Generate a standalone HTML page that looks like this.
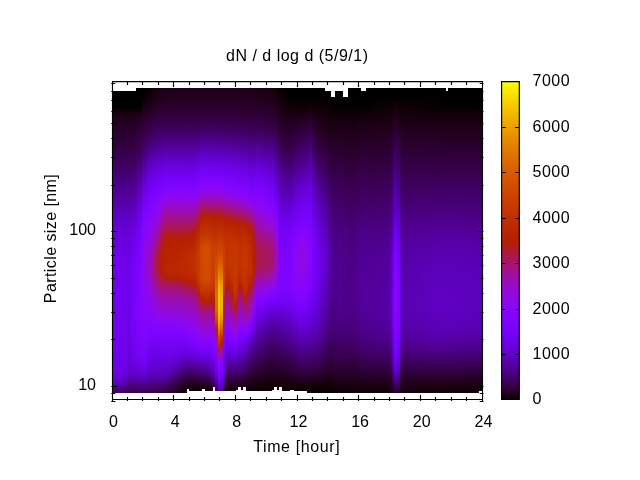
<!DOCTYPE html>
<html lang="en"><head><meta charset="utf-8"><title>dN / d log d (5/9/1)</title>
<style>html,body{margin:0;padding:0;background:#fff}svg{display:block}text{font-family:"Liberation Sans", sans-serif;fill:#000}</style></head><body>
<svg width="640" height="480" viewBox="0 0 640 480">
<rect x="0" y="0" width="640" height="480" fill="#fff"/>
<defs>
<linearGradient id="c0" gradientUnits="userSpaceOnUse" x1="0" y1="88" x2="0" y2="393">
<stop offset="0" stop-color="#000000"/>
<stop offset="0.06557" stop-color="#000000"/>
<stop offset="0.06885" stop-color="#0b0003"/>
<stop offset="0.09508" stop-color="#200019"/>
<stop offset="0.1967" stop-color="#340041"/>
<stop offset="0.3443" stop-color="#510098"/>
<stop offset="0.4131" stop-color="#5d01bf"/>
<stop offset="0.5049" stop-color="#6a01e2"/>
<stop offset="0.5967" stop-color="#7102f0"/>
<stop offset="0.8492" stop-color="#7002f0"/>
<stop offset="0.9246" stop-color="#6c02e7"/>
<stop offset="0.9508" stop-color="#6701da"/>
<stop offset="0.9738" stop-color="#5600a7"/>
<stop offset="1" stop-color="#400063"/>
</linearGradient>
<linearGradient id="c1" gradientUnits="userSpaceOnUse" x1="0" y1="88" x2="0" y2="393">
<stop offset="0" stop-color="#000000"/>
<stop offset="0.06557" stop-color="#000000"/>
<stop offset="0.06885" stop-color="#0b0003"/>
<stop offset="0.09508" stop-color="#200019"/>
<stop offset="0.1967" stop-color="#340041"/>
<stop offset="0.3443" stop-color="#510098"/>
<stop offset="0.4131" stop-color="#5d01bf"/>
<stop offset="0.4951" stop-color="#6901df"/>
<stop offset="0.5705" stop-color="#6f02ed"/>
<stop offset="0.6754" stop-color="#7202f2"/>
<stop offset="0.8557" stop-color="#7002ef"/>
<stop offset="0.9246" stop-color="#6c01e6"/>
<stop offset="0.9508" stop-color="#6701d9"/>
<stop offset="0.9705" stop-color="#5800ae"/>
<stop offset="1" stop-color="#400062"/>
</linearGradient>
<linearGradient id="c2" gradientUnits="userSpaceOnUse" x1="0" y1="88" x2="0" y2="393">
<stop offset="0" stop-color="#000000"/>
<stop offset="0.06557" stop-color="#000000"/>
<stop offset="0.06885" stop-color="#0b0003"/>
<stop offset="0.09508" stop-color="#200019"/>
<stop offset="0.1967" stop-color="#340041"/>
<stop offset="0.3443" stop-color="#510098"/>
<stop offset="0.4131" stop-color="#5d01bf"/>
<stop offset="0.4951" stop-color="#6901de"/>
<stop offset="0.5672" stop-color="#6f02ec"/>
<stop offset="0.6656" stop-color="#7202f2"/>
<stop offset="0.8459" stop-color="#7002ef"/>
<stop offset="0.9213" stop-color="#6c01e7"/>
<stop offset="0.9508" stop-color="#6601d8"/>
<stop offset="0.9705" stop-color="#5800ac"/>
<stop offset="1" stop-color="#400061"/>
</linearGradient>
<linearGradient id="c3" gradientUnits="userSpaceOnUse" x1="0" y1="88" x2="0" y2="393">
<stop offset="0" stop-color="#000000"/>
<stop offset="0.06557" stop-color="#000000"/>
<stop offset="0.06885" stop-color="#0b0003"/>
<stop offset="0.09508" stop-color="#200019"/>
<stop offset="0.1967" stop-color="#340041"/>
<stop offset="0.3443" stop-color="#510098"/>
<stop offset="0.4131" stop-color="#5d01bf"/>
<stop offset="0.4951" stop-color="#6901de"/>
<stop offset="0.5705" stop-color="#6f02ec"/>
<stop offset="0.6689" stop-color="#7102f2"/>
<stop offset="0.8525" stop-color="#6f02ee"/>
<stop offset="0.9213" stop-color="#6c01e6"/>
<stop offset="0.9508" stop-color="#6601d7"/>
<stop offset="0.9738" stop-color="#5400a2"/>
<stop offset="1" stop-color="#3f0060"/>
</linearGradient>
<linearGradient id="c4" gradientUnits="userSpaceOnUse" x1="0" y1="88" x2="0" y2="393">
<stop offset="0" stop-color="#000000"/>
<stop offset="0.06557" stop-color="#000000"/>
<stop offset="0.06885" stop-color="#0b0003"/>
<stop offset="0.09508" stop-color="#200019"/>
<stop offset="0.1967" stop-color="#340041"/>
<stop offset="0.3443" stop-color="#510098"/>
<stop offset="0.4131" stop-color="#5d01bf"/>
<stop offset="0.4951" stop-color="#6901de"/>
<stop offset="0.5836" stop-color="#6f02ed"/>
<stop offset="0.6885" stop-color="#7102f1"/>
<stop offset="0.8459" stop-color="#6f02ee"/>
<stop offset="0.9213" stop-color="#6b01e5"/>
<stop offset="0.9508" stop-color="#6501d6"/>
<stop offset="0.9738" stop-color="#5400a0"/>
<stop offset="1" stop-color="#3f005f"/>
</linearGradient>
<linearGradient id="c5" gradientUnits="userSpaceOnUse" x1="0" y1="88" x2="0" y2="393">
<stop offset="0" stop-color="#000000"/>
<stop offset="0.06557" stop-color="#000000"/>
<stop offset="0.06885" stop-color="#0b0003"/>
<stop offset="0.09508" stop-color="#200019"/>
<stop offset="0.1967" stop-color="#340041"/>
<stop offset="0.3443" stop-color="#510098"/>
<stop offset="0.4131" stop-color="#5d01bf"/>
<stop offset="0.4918" stop-color="#6801dd"/>
<stop offset="0.6098" stop-color="#7002ee"/>
<stop offset="0.8033" stop-color="#6f02ee"/>
<stop offset="0.918" stop-color="#6a01e2"/>
<stop offset="0.9508" stop-color="#6301ce"/>
<stop offset="0.9738" stop-color="#510098"/>
<stop offset="1" stop-color="#3d0059"/>
</linearGradient>
<linearGradient id="c6" gradientUnits="userSpaceOnUse" x1="0" y1="88" x2="0" y2="393">
<stop offset="0" stop-color="#000000"/>
<stop offset="0.06557" stop-color="#000000"/>
<stop offset="0.06885" stop-color="#0b0003"/>
<stop offset="0.09508" stop-color="#200019"/>
<stop offset="0.1967" stop-color="#340041"/>
<stop offset="0.3344" stop-color="#500092"/>
<stop offset="0.4066" stop-color="#5d01bc"/>
<stop offset="0.4852" stop-color="#6701da"/>
<stop offset="0.6098" stop-color="#6d02e8"/>
<stop offset="0.777" stop-color="#6c01e7"/>
<stop offset="0.8885" stop-color="#6601d8"/>
<stop offset="0.9213" stop-color="#6201cc"/>
<stop offset="0.9508" stop-color="#5900b0"/>
<stop offset="0.9902" stop-color="#3d0058"/>
<stop offset="1" stop-color="#350044"/>
</linearGradient>
<linearGradient id="c7" gradientUnits="userSpaceOnUse" x1="0" y1="88" x2="0" y2="393">
<stop offset="0" stop-color="#000000"/>
<stop offset="0.06557" stop-color="#000000"/>
<stop offset="0.06885" stop-color="#0b0003"/>
<stop offset="0.0918" stop-color="#1f0017"/>
<stop offset="0.1115" stop-color="#250022"/>
<stop offset="0.1967" stop-color="#350043"/>
<stop offset="0.3377" stop-color="#510098"/>
<stop offset="0.4164" stop-color="#6001c6"/>
<stop offset="0.4951" stop-color="#6b01e3"/>
<stop offset="0.6" stop-color="#7202f2"/>
<stop offset="0.7934" stop-color="#7202f2"/>
<stop offset="0.8852" stop-color="#6b01e3"/>
<stop offset="0.9213" stop-color="#6401d2"/>
<stop offset="0.9508" stop-color="#5900b0"/>
<stop offset="0.9803" stop-color="#44006d"/>
<stop offset="1" stop-color="#360047"/>
</linearGradient>
<linearGradient id="c8" gradientUnits="userSpaceOnUse" x1="0" y1="88" x2="0" y2="393">
<stop offset="0" stop-color="#000000"/>
<stop offset="0.06557" stop-color="#000000"/>
<stop offset="0.06885" stop-color="#0b0003"/>
<stop offset="0.08852" stop-color="#1d0015"/>
<stop offset="0.1082" stop-color="#250022"/>
<stop offset="0.1967" stop-color="#360046"/>
<stop offset="0.3148" stop-color="#4e008e"/>
<stop offset="0.4197" stop-color="#6201ce"/>
<stop offset="0.4918" stop-color="#6d02ea"/>
<stop offset="0.5902" stop-color="#7603f9"/>
<stop offset="0.7475" stop-color="#7903fb"/>
<stop offset="0.8328" stop-color="#7402f6"/>
<stop offset="0.8885" stop-color="#6e02ea"/>
<stop offset="0.9213" stop-color="#6601d8"/>
<stop offset="0.9508" stop-color="#5900b1"/>
<stop offset="0.9803" stop-color="#44006d"/>
<stop offset="1" stop-color="#37004b"/>
</linearGradient>
<linearGradient id="c9" gradientUnits="userSpaceOnUse" x1="0" y1="88" x2="0" y2="393">
<stop offset="0" stop-color="#000000"/>
<stop offset="0.06557" stop-color="#000000"/>
<stop offset="0.06885" stop-color="#0b0003"/>
<stop offset="0.08525" stop-color="#1c0013"/>
<stop offset="0.1049" stop-color="#260023"/>
<stop offset="0.2" stop-color="#39004f"/>
<stop offset="0.3967" stop-color="#6401d1"/>
<stop offset="0.4754" stop-color="#7102f0"/>
<stop offset="0.5574" stop-color="#7903fc"/>
<stop offset="0.7049" stop-color="#7d04ff"/>
<stop offset="0.8066" stop-color="#7a03fd"/>
<stop offset="0.882" stop-color="#7102f2"/>
<stop offset="0.9213" stop-color="#6801dd"/>
<stop offset="0.9508" stop-color="#5a00b4"/>
<stop offset="0.9803" stop-color="#450070"/>
<stop offset="1" stop-color="#38004d"/>
</linearGradient>
<linearGradient id="c10" gradientUnits="userSpaceOnUse" x1="0" y1="88" x2="0" y2="393">
<stop offset="0" stop-color="#000000"/>
<stop offset="0.06557" stop-color="#000000"/>
<stop offset="0.06885" stop-color="#0c0003"/>
<stop offset="0.0918" stop-color="#21001b"/>
<stop offset="0.118" stop-color="#2b002d"/>
<stop offset="0.2" stop-color="#3c0056"/>
<stop offset="0.3869" stop-color="#6701da"/>
<stop offset="0.459" stop-color="#7302f4"/>
<stop offset="0.5246" stop-color="#7c03fe"/>
<stop offset="0.682" stop-color="#8204fe"/>
<stop offset="0.8033" stop-color="#7e04ff"/>
<stop offset="0.882" stop-color="#7402f6"/>
<stop offset="0.9213" stop-color="#6a01e1"/>
<stop offset="0.9508" stop-color="#5b01b8"/>
<stop offset="0.9803" stop-color="#450072"/>
<stop offset="1" stop-color="#39004e"/>
</linearGradient>
<linearGradient id="c11" gradientUnits="userSpaceOnUse" x1="0" y1="88" x2="0" y2="393">
<stop offset="0" stop-color="#000000"/>
<stop offset="0.03279" stop-color="#000000"/>
<stop offset="0.03934" stop-color="#090002"/>
<stop offset="0.06885" stop-color="#16000c"/>
<stop offset="0.1049" stop-color="#2a002a"/>
<stop offset="0.1967" stop-color="#3f005f"/>
<stop offset="0.3279" stop-color="#6101c8"/>
<stop offset="0.3869" stop-color="#6f02ed"/>
<stop offset="0.4459" stop-color="#7a03fd"/>
<stop offset="0.5213" stop-color="#8505fd"/>
<stop offset="0.6197" stop-color="#8706fa"/>
<stop offset="0.8033" stop-color="#8004ff"/>
<stop offset="0.882" stop-color="#7603f9"/>
<stop offset="0.918" stop-color="#6d02ea"/>
<stop offset="0.9475" stop-color="#5e01c1"/>
<stop offset="0.9672" stop-color="#500094"/>
<stop offset="0.9803" stop-color="#460074"/>
<stop offset="1" stop-color="#39004f"/>
</linearGradient>
<linearGradient id="c12" gradientUnits="userSpaceOnUse" x1="0" y1="88" x2="0" y2="393">
<stop offset="0" stop-color="#000000"/>
<stop offset="0.03279" stop-color="#000000"/>
<stop offset="0.03934" stop-color="#0d0004"/>
<stop offset="0.07869" stop-color="#23001e"/>
<stop offset="0.1672" stop-color="#3c0056"/>
<stop offset="0.1934" stop-color="#420069"/>
<stop offset="0.3082" stop-color="#6301d0"/>
<stop offset="0.3639" stop-color="#7202f2"/>
<stop offset="0.4131" stop-color="#7d04ff"/>
<stop offset="0.4656" stop-color="#8706fa"/>
<stop offset="0.5377" stop-color="#9008e6"/>
<stop offset="0.5869" stop-color="#9008e7"/>
<stop offset="0.6852" stop-color="#8806fa"/>
<stop offset="0.8131" stop-color="#8104ff"/>
<stop offset="0.8852" stop-color="#7703fa"/>
<stop offset="0.9213" stop-color="#6e02eb"/>
<stop offset="0.9475" stop-color="#6001c5"/>
<stop offset="0.9672" stop-color="#510097"/>
<stop offset="0.9803" stop-color="#460075"/>
<stop offset="1" stop-color="#39004f"/>
</linearGradient>
<linearGradient id="c13" gradientUnits="userSpaceOnUse" x1="0" y1="88" x2="0" y2="393">
<stop offset="0" stop-color="#000000"/>
<stop offset="0.01311" stop-color="#0a0002"/>
<stop offset="0.03934" stop-color="#14000a"/>
<stop offset="0.1049" stop-color="#2f0035"/>
<stop offset="0.1574" stop-color="#3c0057"/>
<stop offset="0.1934" stop-color="#460074"/>
<stop offset="0.2721" stop-color="#5e01c2"/>
<stop offset="0.3311" stop-color="#6e02ec"/>
<stop offset="0.3836" stop-color="#7b03fe"/>
<stop offset="0.4393" stop-color="#8605fc"/>
<stop offset="0.5016" stop-color="#9008e9"/>
<stop offset="0.5377" stop-color="#940ad8"/>
<stop offset="0.5836" stop-color="#960ad3"/>
<stop offset="0.6918" stop-color="#8b07f4"/>
<stop offset="0.8131" stop-color="#7e04ff"/>
<stop offset="0.8852" stop-color="#7302f4"/>
<stop offset="0.9213" stop-color="#6901e0"/>
<stop offset="0.9508" stop-color="#5c01ba"/>
<stop offset="0.9803" stop-color="#450070"/>
<stop offset="1" stop-color="#38004c"/>
</linearGradient>
<linearGradient id="c14" gradientUnits="userSpaceOnUse" x1="0" y1="88" x2="0" y2="393">
<stop offset="0" stop-color="#000000"/>
<stop offset="0.006557" stop-color="#0a0003"/>
<stop offset="0.05902" stop-color="#20001a"/>
<stop offset="0.1246" stop-color="#360046"/>
<stop offset="0.1869" stop-color="#470077"/>
<stop offset="0.2393" stop-color="#5a00b3"/>
<stop offset="0.2918" stop-color="#6901de"/>
<stop offset="0.3377" stop-color="#7402f6"/>
<stop offset="0.3836" stop-color="#7f04ff"/>
<stop offset="0.4492" stop-color="#8906f8"/>
<stop offset="0.4951" stop-color="#9008e8"/>
<stop offset="0.541" stop-color="#970bcc"/>
<stop offset="0.5836" stop-color="#9b0dbd"/>
<stop offset="0.6393" stop-color="#960bd1"/>
<stop offset="0.682" stop-color="#9008e8"/>
<stop offset="0.777" stop-color="#8204ff"/>
<stop offset="0.823" stop-color="#7703fa"/>
<stop offset="0.882" stop-color="#6d02e9"/>
<stop offset="0.9246" stop-color="#6201cb"/>
<stop offset="0.9508" stop-color="#5900b1"/>
<stop offset="0.977" stop-color="#44006f"/>
<stop offset="1" stop-color="#370049"/>
</linearGradient>
<linearGradient id="c15" gradientUnits="userSpaceOnUse" x1="0" y1="88" x2="0" y2="393">
<stop offset="0" stop-color="#0e0005"/>
<stop offset="0.07213" stop-color="#270025"/>
<stop offset="0.1475" stop-color="#3e005d"/>
<stop offset="0.1934" stop-color="#4c0087"/>
<stop offset="0.2426" stop-color="#5e01bf"/>
<stop offset="0.2951" stop-color="#6c01e6"/>
<stop offset="0.3377" stop-color="#7703f9"/>
<stop offset="0.3836" stop-color="#8104ff"/>
<stop offset="0.4393" stop-color="#8b07f4"/>
<stop offset="0.4852" stop-color="#9309dd"/>
<stop offset="0.5279" stop-color="#9c0db4"/>
<stop offset="0.5803" stop-color="#a11096"/>
<stop offset="0.6328" stop-color="#9c0eb3"/>
<stop offset="0.682" stop-color="#9309de"/>
<stop offset="0.7672" stop-color="#8505fd"/>
<stop offset="0.8098" stop-color="#7a03fd"/>
<stop offset="0.882" stop-color="#6c01e7"/>
<stop offset="0.9279" stop-color="#6001c5"/>
<stop offset="0.9508" stop-color="#5800ae"/>
<stop offset="0.9803" stop-color="#420067"/>
<stop offset="1" stop-color="#360046"/>
</linearGradient>
<linearGradient id="c16" gradientUnits="userSpaceOnUse" x1="0" y1="88" x2="0" y2="393">
<stop offset="0" stop-color="#15000b"/>
<stop offset="0.06885" stop-color="#280026"/>
<stop offset="0.1475" stop-color="#400062"/>
<stop offset="0.1902" stop-color="#4d008a"/>
<stop offset="0.2393" stop-color="#5f01c4"/>
<stop offset="0.2918" stop-color="#6d02e9"/>
<stop offset="0.3377" stop-color="#7903fc"/>
<stop offset="0.3869" stop-color="#8405fe"/>
<stop offset="0.4393" stop-color="#8f08ec"/>
<stop offset="0.4852" stop-color="#990cc6"/>
<stop offset="0.5344" stop-color="#a41285"/>
<stop offset="0.5803" stop-color="#a81568"/>
<stop offset="0.6328" stop-color="#a21094"/>
<stop offset="0.6721" stop-color="#980cc8"/>
<stop offset="0.6984" stop-color="#940adc"/>
<stop offset="0.7639" stop-color="#8705fb"/>
<stop offset="0.8033" stop-color="#7c03fe"/>
<stop offset="0.8787" stop-color="#6d02e9"/>
<stop offset="0.9246" stop-color="#6101c8"/>
<stop offset="0.9508" stop-color="#5700ab"/>
<stop offset="0.9803" stop-color="#410065"/>
<stop offset="1" stop-color="#350044"/>
</linearGradient>
<linearGradient id="c17" gradientUnits="userSpaceOnUse" x1="0" y1="88" x2="0" y2="393">
<stop offset="0" stop-color="#18000f"/>
<stop offset="0.0623" stop-color="#260024"/>
<stop offset="0.1377" stop-color="#3d005b"/>
<stop offset="0.1902" stop-color="#4e008e"/>
<stop offset="0.2393" stop-color="#6001c7"/>
<stop offset="0.282" stop-color="#6c02e7"/>
<stop offset="0.3246" stop-color="#7803fb"/>
<stop offset="0.3639" stop-color="#8305fe"/>
<stop offset="0.4066" stop-color="#8d07ef"/>
<stop offset="0.4492" stop-color="#970bcd"/>
<stop offset="0.4885" stop-color="#a0109c"/>
<stop offset="0.5311" stop-color="#ab1752"/>
<stop offset="0.5803" stop-color="#ae1a36"/>
<stop offset="0.6295" stop-color="#a81567"/>
<stop offset="0.6656" stop-color="#9e0fa9"/>
<stop offset="0.682" stop-color="#9a0cc0"/>
<stop offset="0.7475" stop-color="#8c07f2"/>
<stop offset="0.7869" stop-color="#8104ff"/>
<stop offset="0.8295" stop-color="#7602f8"/>
<stop offset="0.882" stop-color="#6c01e7"/>
<stop offset="0.9279" stop-color="#5f01c5"/>
<stop offset="0.9508" stop-color="#5700ab"/>
<stop offset="0.977" stop-color="#43006a"/>
<stop offset="1" stop-color="#350044"/>
</linearGradient>
<linearGradient id="c18" gradientUnits="userSpaceOnUse" x1="0" y1="88" x2="0" y2="393">
<stop offset="0" stop-color="#1b0012"/>
<stop offset="0.05246" stop-color="#250021"/>
<stop offset="0.1049" stop-color="#340042"/>
<stop offset="0.1508" stop-color="#420069"/>
<stop offset="0.1934" stop-color="#500095"/>
<stop offset="0.2393" stop-color="#6101ca"/>
<stop offset="0.2852" stop-color="#6f02ed"/>
<stop offset="0.3213" stop-color="#7a03fd"/>
<stop offset="0.3574" stop-color="#8505fd"/>
<stop offset="0.3902" stop-color="#8f08eb"/>
<stop offset="0.4295" stop-color="#990cc5"/>
<stop offset="0.4721" stop-color="#a3118a"/>
<stop offset="0.4951" stop-color="#a91562"/>
<stop offset="0.5311" stop-color="#b11d19"/>
<stop offset="0.5803" stop-color="#b42002"/>
<stop offset="0.6295" stop-color="#ae193a"/>
<stop offset="0.6689" stop-color="#a11095"/>
<stop offset="0.682" stop-color="#9e0ead"/>
<stop offset="0.741" stop-color="#9008e8"/>
<stop offset="0.7738" stop-color="#8605fc"/>
<stop offset="0.8098" stop-color="#7b03fe"/>
<stop offset="0.882" stop-color="#6c01e7"/>
<stop offset="0.9279" stop-color="#5f01c5"/>
<stop offset="0.9508" stop-color="#5700ab"/>
<stop offset="0.977" stop-color="#43006a"/>
<stop offset="1" stop-color="#350044"/>
</linearGradient>
<linearGradient id="c19" gradientUnits="userSpaceOnUse" x1="0" y1="88" x2="0" y2="393">
<stop offset="0" stop-color="#1d0015"/>
<stop offset="0.04918" stop-color="#250022"/>
<stop offset="0.09508" stop-color="#32003c"/>
<stop offset="0.1443" stop-color="#410065"/>
<stop offset="0.1967" stop-color="#53009e"/>
<stop offset="0.2492" stop-color="#6501d6"/>
<stop offset="0.2951" stop-color="#7402f6"/>
<stop offset="0.3311" stop-color="#7f04ff"/>
<stop offset="0.3607" stop-color="#8906f7"/>
<stop offset="0.3869" stop-color="#9309df"/>
<stop offset="0.4295" stop-color="#9e0ea9"/>
<stop offset="0.4689" stop-color="#a81567"/>
<stop offset="0.4984" stop-color="#b01b27"/>
<stop offset="0.5344" stop-color="#b31f08"/>
<stop offset="0.5607" stop-color="#b52000"/>
<stop offset="0.6" stop-color="#b72300"/>
<stop offset="0.6066" stop-color="#b31f09"/>
<stop offset="0.6295" stop-color="#ae1a39"/>
<stop offset="0.6492" stop-color="#a7146f"/>
<stop offset="0.6754" stop-color="#9f0fa2"/>
<stop offset="0.7279" stop-color="#940ada"/>
<stop offset="0.7607" stop-color="#8b07f4"/>
<stop offset="0.7869" stop-color="#8305fe"/>
<stop offset="0.8197" stop-color="#7903fc"/>
<stop offset="0.882" stop-color="#6c01e7"/>
<stop offset="0.9246" stop-color="#6001c8"/>
<stop offset="0.9508" stop-color="#5700aa"/>
<stop offset="0.977" stop-color="#420067"/>
<stop offset="1" stop-color="#33003f"/>
</linearGradient>
<linearGradient id="c20" gradientUnits="userSpaceOnUse" x1="0" y1="88" x2="0" y2="393">
<stop offset="0" stop-color="#1e0017"/>
<stop offset="0.05246" stop-color="#270026"/>
<stop offset="0.09836" stop-color="#330040"/>
<stop offset="0.1508" stop-color="#44006f"/>
<stop offset="0.2426" stop-color="#6401d2"/>
<stop offset="0.2885" stop-color="#7302f5"/>
<stop offset="0.3213" stop-color="#7f04ff"/>
<stop offset="0.3475" stop-color="#8806f9"/>
<stop offset="0.3672" stop-color="#8f08ea"/>
<stop offset="0.4295" stop-color="#a3118a"/>
<stop offset="0.4656" stop-color="#ad1843"/>
<stop offset="0.4918" stop-color="#b42003"/>
<stop offset="0.5115" stop-color="#b62100"/>
<stop offset="0.577" stop-color="#b82400"/>
<stop offset="0.6" stop-color="#bc2900"/>
<stop offset="0.6066" stop-color="#b62200"/>
<stop offset="0.6131" stop-color="#b41f04"/>
<stop offset="0.6459" stop-color="#a7146f"/>
<stop offset="0.6754" stop-color="#9f0fa3"/>
<stop offset="0.7443" stop-color="#9008e8"/>
<stop offset="0.7836" stop-color="#8505fd"/>
<stop offset="0.8197" stop-color="#7a03fd"/>
<stop offset="0.8787" stop-color="#6d02e9"/>
<stop offset="0.9213" stop-color="#6201cb"/>
<stop offset="0.9508" stop-color="#5600a8"/>
<stop offset="0.9803" stop-color="#3f005e"/>
<stop offset="1" stop-color="#31003b"/>
</linearGradient>
<linearGradient id="c21" gradientUnits="userSpaceOnUse" x1="0" y1="88" x2="0" y2="393">
<stop offset="0" stop-color="#1e0017"/>
<stop offset="0.05246" stop-color="#270026"/>
<stop offset="0.09836" stop-color="#330040"/>
<stop offset="0.1508" stop-color="#44006f"/>
<stop offset="0.2426" stop-color="#6401d2"/>
<stop offset="0.2885" stop-color="#7302f5"/>
<stop offset="0.3213" stop-color="#7f04ff"/>
<stop offset="0.3475" stop-color="#8806f9"/>
<stop offset="0.3672" stop-color="#8f08ea"/>
<stop offset="0.4295" stop-color="#a3118a"/>
<stop offset="0.4656" stop-color="#ad1843"/>
<stop offset="0.4918" stop-color="#b42003"/>
<stop offset="0.5115" stop-color="#b62200"/>
<stop offset="0.6033" stop-color="#b92600"/>
<stop offset="0.6164" stop-color="#b52100"/>
<stop offset="0.6197" stop-color="#b41f07"/>
<stop offset="0.6328" stop-color="#ae1a38"/>
<stop offset="0.6492" stop-color="#a7146c"/>
<stop offset="0.6689" stop-color="#a21193"/>
<stop offset="0.6852" stop-color="#9e0eaa"/>
<stop offset="0.7508" stop-color="#8f08eb"/>
<stop offset="0.7836" stop-color="#8505fc"/>
<stop offset="0.8164" stop-color="#7b03fe"/>
<stop offset="0.8787" stop-color="#6d02e8"/>
<stop offset="0.9213" stop-color="#6001c7"/>
<stop offset="0.9508" stop-color="#53009f"/>
<stop offset="0.9803" stop-color="#3c0057"/>
<stop offset="1" stop-color="#2e0034"/>
</linearGradient>
<linearGradient id="c22" gradientUnits="userSpaceOnUse" x1="0" y1="88" x2="0" y2="393">
<stop offset="0" stop-color="#1e0017"/>
<stop offset="0.05246" stop-color="#270026"/>
<stop offset="0.09836" stop-color="#330040"/>
<stop offset="0.1508" stop-color="#44006f"/>
<stop offset="0.2426" stop-color="#6401d2"/>
<stop offset="0.2885" stop-color="#7302f5"/>
<stop offset="0.3213" stop-color="#7f04ff"/>
<stop offset="0.3475" stop-color="#8806f9"/>
<stop offset="0.3672" stop-color="#8f08ea"/>
<stop offset="0.4295" stop-color="#a3118a"/>
<stop offset="0.4656" stop-color="#ad1843"/>
<stop offset="0.4918" stop-color="#b42003"/>
<stop offset="0.5115" stop-color="#b72300"/>
<stop offset="0.6098" stop-color="#ba2700"/>
<stop offset="0.6197" stop-color="#b52100"/>
<stop offset="0.623" stop-color="#b31f08"/>
<stop offset="0.6328" stop-color="#af1b2e"/>
<stop offset="0.6525" stop-color="#a7146f"/>
<stop offset="0.682" stop-color="#9f0fa3"/>
<stop offset="0.7508" stop-color="#8f08e9"/>
<stop offset="0.7836" stop-color="#8605fc"/>
<stop offset="0.8164" stop-color="#7b03fe"/>
<stop offset="0.8754" stop-color="#6d02e9"/>
<stop offset="0.918" stop-color="#6001c7"/>
<stop offset="0.9508" stop-color="#500095"/>
<stop offset="0.9803" stop-color="#39004f"/>
<stop offset="1" stop-color="#2b002d"/>
</linearGradient>
<linearGradient id="c23" gradientUnits="userSpaceOnUse" x1="0" y1="88" x2="0" y2="393">
<stop offset="0" stop-color="#1e0017"/>
<stop offset="0.05246" stop-color="#270026"/>
<stop offset="0.09836" stop-color="#330040"/>
<stop offset="0.1508" stop-color="#44006f"/>
<stop offset="0.2426" stop-color="#6401d2"/>
<stop offset="0.2885" stop-color="#7302f5"/>
<stop offset="0.3213" stop-color="#7f04ff"/>
<stop offset="0.3475" stop-color="#8806f9"/>
<stop offset="0.3672" stop-color="#8f08ea"/>
<stop offset="0.4295" stop-color="#a3118a"/>
<stop offset="0.4656" stop-color="#ad1843"/>
<stop offset="0.4918" stop-color="#b42003"/>
<stop offset="0.5115" stop-color="#b72300"/>
<stop offset="0.6098" stop-color="#ba2700"/>
<stop offset="0.6197" stop-color="#b52100"/>
<stop offset="0.623" stop-color="#b31f08"/>
<stop offset="0.6328" stop-color="#af1b2e"/>
<stop offset="0.6525" stop-color="#a7146f"/>
<stop offset="0.682" stop-color="#9f0fa3"/>
<stop offset="0.7508" stop-color="#8f08ea"/>
<stop offset="0.7836" stop-color="#8505fc"/>
<stop offset="0.8131" stop-color="#7c03fe"/>
<stop offset="0.8754" stop-color="#6d02e8"/>
<stop offset="0.9148" stop-color="#5e01c1"/>
<stop offset="0.9475" stop-color="#4e008c"/>
<stop offset="0.9803" stop-color="#340043"/>
<stop offset="1" stop-color="#260024"/>
</linearGradient>
<linearGradient id="c24" gradientUnits="userSpaceOnUse" x1="0" y1="88" x2="0" y2="393">
<stop offset="0" stop-color="#1e0017"/>
<stop offset="0.05246" stop-color="#270026"/>
<stop offset="0.09836" stop-color="#330040"/>
<stop offset="0.1508" stop-color="#44006f"/>
<stop offset="0.2426" stop-color="#6401d2"/>
<stop offset="0.2885" stop-color="#7302f5"/>
<stop offset="0.3213" stop-color="#7f04ff"/>
<stop offset="0.3475" stop-color="#8806f9"/>
<stop offset="0.3672" stop-color="#8f08ea"/>
<stop offset="0.4295" stop-color="#a3118a"/>
<stop offset="0.4656" stop-color="#ad1843"/>
<stop offset="0.4918" stop-color="#b42003"/>
<stop offset="0.5115" stop-color="#b72300"/>
<stop offset="0.6098" stop-color="#ba2700"/>
<stop offset="0.6197" stop-color="#b52100"/>
<stop offset="0.623" stop-color="#b31f08"/>
<stop offset="0.6328" stop-color="#af1b2e"/>
<stop offset="0.6525" stop-color="#a7146f"/>
<stop offset="0.682" stop-color="#9f0fa3"/>
<stop offset="0.7541" stop-color="#8e08ed"/>
<stop offset="0.7836" stop-color="#8505fd"/>
<stop offset="0.8164" stop-color="#7a03fd"/>
<stop offset="0.8754" stop-color="#6c01e7"/>
<stop offset="0.9115" stop-color="#5d01bd"/>
<stop offset="0.9475" stop-color="#49007d"/>
<stop offset="0.977" stop-color="#31003b"/>
<stop offset="1" stop-color="#21001c"/>
</linearGradient>
<linearGradient id="c25" gradientUnits="userSpaceOnUse" x1="0" y1="88" x2="0" y2="393">
<stop offset="0" stop-color="#1e0017"/>
<stop offset="0.05246" stop-color="#270026"/>
<stop offset="0.09836" stop-color="#330040"/>
<stop offset="0.1508" stop-color="#44006f"/>
<stop offset="0.2426" stop-color="#6401d2"/>
<stop offset="0.2885" stop-color="#7302f5"/>
<stop offset="0.3213" stop-color="#7f04ff"/>
<stop offset="0.3475" stop-color="#8806f9"/>
<stop offset="0.3672" stop-color="#8f08ea"/>
<stop offset="0.4295" stop-color="#a3118a"/>
<stop offset="0.4656" stop-color="#ad1843"/>
<stop offset="0.4918" stop-color="#b42003"/>
<stop offset="0.5115" stop-color="#b72300"/>
<stop offset="0.6098" stop-color="#ba2700"/>
<stop offset="0.6197" stop-color="#b52100"/>
<stop offset="0.623" stop-color="#b31f08"/>
<stop offset="0.6328" stop-color="#af1b2e"/>
<stop offset="0.6525" stop-color="#a7146f"/>
<stop offset="0.682" stop-color="#9f0fa3"/>
<stop offset="0.7344" stop-color="#940adb"/>
<stop offset="0.7672" stop-color="#8a06f6"/>
<stop offset="0.7967" stop-color="#8004ff"/>
<stop offset="0.8459" stop-color="#7202f3"/>
<stop offset="0.8787" stop-color="#6a01e2"/>
<stop offset="0.9049" stop-color="#5e01bf"/>
<stop offset="0.941" stop-color="#48007b"/>
<stop offset="0.977" stop-color="#2b002e"/>
<stop offset="1" stop-color="#1c0013"/>
</linearGradient>
<linearGradient id="c26" gradientUnits="userSpaceOnUse" x1="0" y1="88" x2="0" y2="393">
<stop offset="0" stop-color="#1e0017"/>
<stop offset="0.05246" stop-color="#270026"/>
<stop offset="0.09836" stop-color="#330040"/>
<stop offset="0.1508" stop-color="#44006f"/>
<stop offset="0.2426" stop-color="#6401d2"/>
<stop offset="0.2885" stop-color="#7302f5"/>
<stop offset="0.3213" stop-color="#7f04ff"/>
<stop offset="0.3475" stop-color="#8806f9"/>
<stop offset="0.3672" stop-color="#8f08ea"/>
<stop offset="0.4295" stop-color="#a3118a"/>
<stop offset="0.4656" stop-color="#ad1843"/>
<stop offset="0.4918" stop-color="#b42003"/>
<stop offset="0.5115" stop-color="#b72300"/>
<stop offset="0.6" stop-color="#bc2900"/>
<stop offset="0.6197" stop-color="#b72300"/>
<stop offset="0.6262" stop-color="#b41f05"/>
<stop offset="0.6393" stop-color="#ae1a36"/>
<stop offset="0.6557" stop-color="#a7146b"/>
<stop offset="0.6754" stop-color="#a21192"/>
<stop offset="0.6951" stop-color="#9e0ead"/>
<stop offset="0.7377" stop-color="#940adb"/>
<stop offset="0.7705" stop-color="#8906f7"/>
<stop offset="0.8033" stop-color="#7e04ff"/>
<stop offset="0.8459" stop-color="#7102f1"/>
<stop offset="0.8754" stop-color="#6901df"/>
<stop offset="0.9016" stop-color="#5c01b9"/>
<stop offset="0.941" stop-color="#43006c"/>
<stop offset="0.977" stop-color="#260023"/>
<stop offset="1" stop-color="#14000a"/>
</linearGradient>
<linearGradient id="c27" gradientUnits="userSpaceOnUse" x1="0" y1="88" x2="0" y2="393">
<stop offset="0" stop-color="#1e0017"/>
<stop offset="0.05246" stop-color="#270026"/>
<stop offset="0.09836" stop-color="#330040"/>
<stop offset="0.1508" stop-color="#44006f"/>
<stop offset="0.2361" stop-color="#6201cb"/>
<stop offset="0.2787" stop-color="#7002ef"/>
<stop offset="0.3115" stop-color="#7b03fe"/>
<stop offset="0.3443" stop-color="#8706fb"/>
<stop offset="0.3705" stop-color="#9008e7"/>
<stop offset="0.4361" stop-color="#a5137e"/>
<stop offset="0.4754" stop-color="#af1b2c"/>
<stop offset="0.4918" stop-color="#b42002"/>
<stop offset="0.5705" stop-color="#bd2b00"/>
<stop offset="0.6164" stop-color="#ba2700"/>
<stop offset="0.6262" stop-color="#b62100"/>
<stop offset="0.6295" stop-color="#b41f04"/>
<stop offset="0.6426" stop-color="#ae1a36"/>
<stop offset="0.659" stop-color="#a7146c"/>
<stop offset="0.6885" stop-color="#9f0fa2"/>
<stop offset="0.7607" stop-color="#8e07ee"/>
<stop offset="0.7869" stop-color="#8505fd"/>
<stop offset="0.8164" stop-color="#7b03fd"/>
<stop offset="0.8557" stop-color="#6e02ea"/>
<stop offset="0.8787" stop-color="#6601d6"/>
<stop offset="0.9049" stop-color="#5700ab"/>
<stop offset="0.9607" stop-color="#300039"/>
<stop offset="0.977" stop-color="#20001a"/>
<stop offset="1" stop-color="#0d0004"/>
</linearGradient>
<linearGradient id="c28" gradientUnits="userSpaceOnUse" x1="0" y1="88" x2="0" y2="393">
<stop offset="0" stop-color="#1e0017"/>
<stop offset="0.05246" stop-color="#270026"/>
<stop offset="0.1016" stop-color="#340042"/>
<stop offset="0.1475" stop-color="#43006b"/>
<stop offset="0.2393" stop-color="#6301ce"/>
<stop offset="0.282" stop-color="#7102f1"/>
<stop offset="0.318" stop-color="#7d04ff"/>
<stop offset="0.3443" stop-color="#8705fb"/>
<stop offset="0.3705" stop-color="#9008e7"/>
<stop offset="0.4328" stop-color="#a41283"/>
<stop offset="0.4787" stop-color="#b11c21"/>
<stop offset="0.4918" stop-color="#b42000"/>
<stop offset="0.5672" stop-color="#be2c00"/>
<stop offset="0.6164" stop-color="#bb2800"/>
<stop offset="0.6295" stop-color="#b52100"/>
<stop offset="0.6361" stop-color="#b21d17"/>
<stop offset="0.659" stop-color="#a81565"/>
<stop offset="0.6721" stop-color="#a41282"/>
<stop offset="0.6918" stop-color="#9f0fa3"/>
<stop offset="0.7639" stop-color="#8e08ee"/>
<stop offset="0.7967" stop-color="#8305fe"/>
<stop offset="0.8295" stop-color="#7803fb"/>
<stop offset="0.8656" stop-color="#6b01e5"/>
<stop offset="0.8852" stop-color="#6201cc"/>
<stop offset="0.9148" stop-color="#500093"/>
<stop offset="0.9672" stop-color="#280028"/>
<stop offset="0.977" stop-color="#1d0015"/>
<stop offset="0.9967" stop-color="#0f0005"/>
<stop offset="1" stop-color="#0a0003"/>
</linearGradient>
<linearGradient id="c29" gradientUnits="userSpaceOnUse" x1="0" y1="88" x2="0" y2="393">
<stop offset="0" stop-color="#1e0017"/>
<stop offset="0.05246" stop-color="#270026"/>
<stop offset="0.1016" stop-color="#340042"/>
<stop offset="0.1508" stop-color="#44006e"/>
<stop offset="0.2426" stop-color="#6401d1"/>
<stop offset="0.2852" stop-color="#7202f2"/>
<stop offset="0.318" stop-color="#7d04ff"/>
<stop offset="0.3475" stop-color="#8806fa"/>
<stop offset="0.3705" stop-color="#9008e8"/>
<stop offset="0.423" stop-color="#a21193"/>
<stop offset="0.4557" stop-color="#ab1752"/>
<stop offset="0.4852" stop-color="#b31e0e"/>
<stop offset="0.4918" stop-color="#b52000"/>
<stop offset="0.5574" stop-color="#be2c00"/>
<stop offset="0.6098" stop-color="#bd2a00"/>
<stop offset="0.6328" stop-color="#b42000"/>
<stop offset="0.6459" stop-color="#ae1a33"/>
<stop offset="0.6656" stop-color="#a71472"/>
<stop offset="0.6918" stop-color="#a00fa1"/>
<stop offset="0.7639" stop-color="#8f08eb"/>
<stop offset="0.7967" stop-color="#8505fc"/>
<stop offset="0.8262" stop-color="#7c03fe"/>
<stop offset="0.8525" stop-color="#7102f1"/>
<stop offset="0.8787" stop-color="#6601d6"/>
<stop offset="0.9049" stop-color="#5500a5"/>
<stop offset="0.9574" stop-color="#2f0036"/>
<stop offset="0.977" stop-color="#1a0011"/>
<stop offset="0.9967" stop-color="#0c0003"/>
<stop offset="1" stop-color="#070001"/>
</linearGradient>
<linearGradient id="c30" gradientUnits="userSpaceOnUse" x1="0" y1="88" x2="0" y2="393">
<stop offset="0" stop-color="#1e0017"/>
<stop offset="0.05246" stop-color="#270026"/>
<stop offset="0.1049" stop-color="#350044"/>
<stop offset="0.1508" stop-color="#44006e"/>
<stop offset="0.2426" stop-color="#6401d1"/>
<stop offset="0.2852" stop-color="#7202f2"/>
<stop offset="0.318" stop-color="#7d04ff"/>
<stop offset="0.3475" stop-color="#8706fa"/>
<stop offset="0.3672" stop-color="#8f08eb"/>
<stop offset="0.4" stop-color="#9b0db9"/>
<stop offset="0.4393" stop-color="#a71470"/>
<stop offset="0.482" stop-color="#b21e10"/>
<stop offset="0.4885" stop-color="#b42000"/>
<stop offset="0.5574" stop-color="#bf2d00"/>
<stop offset="0.6066" stop-color="#bd2b00"/>
<stop offset="0.6262" stop-color="#b92500"/>
<stop offset="0.6361" stop-color="#b42001"/>
<stop offset="0.6492" stop-color="#ae1a33"/>
<stop offset="0.6656" stop-color="#a8156a"/>
<stop offset="0.6918" stop-color="#a0109d"/>
<stop offset="0.7672" stop-color="#8f08ea"/>
<stop offset="0.8033" stop-color="#8505fd"/>
<stop offset="0.8361" stop-color="#7a03fd"/>
<stop offset="0.8623" stop-color="#6e02eb"/>
<stop offset="0.882" stop-color="#6401d1"/>
<stop offset="0.9082" stop-color="#52009c"/>
<stop offset="0.9279" stop-color="#450070"/>
<stop offset="0.9705" stop-color="#21001a"/>
<stop offset="0.977" stop-color="#18000e"/>
<stop offset="0.9967" stop-color="#090002"/>
<stop offset="1" stop-color="#000000"/>
</linearGradient>
<linearGradient id="c31" gradientUnits="userSpaceOnUse" x1="0" y1="88" x2="0" y2="393">
<stop offset="0" stop-color="#1e0017"/>
<stop offset="0.05246" stop-color="#270026"/>
<stop offset="0.1049" stop-color="#350044"/>
<stop offset="0.1541" stop-color="#450071"/>
<stop offset="0.2393" stop-color="#6301ce"/>
<stop offset="0.282" stop-color="#7102f0"/>
<stop offset="0.318" stop-color="#7d04ff"/>
<stop offset="0.3475" stop-color="#8806fa"/>
<stop offset="0.3705" stop-color="#9108e6"/>
<stop offset="0.4033" stop-color="#9d0eae"/>
<stop offset="0.4426" stop-color="#aa165b"/>
<stop offset="0.482" stop-color="#b42000"/>
<stop offset="0.5574" stop-color="#c02f00"/>
<stop offset="0.6033" stop-color="#bf2d00"/>
<stop offset="0.6361" stop-color="#b72300"/>
<stop offset="0.6426" stop-color="#b41f04"/>
<stop offset="0.6557" stop-color="#ae1a37"/>
<stop offset="0.6721" stop-color="#a8156a"/>
<stop offset="0.6918" stop-color="#a21193"/>
<stop offset="0.718" stop-color="#9c0db4"/>
<stop offset="0.777" stop-color="#8e08ed"/>
<stop offset="0.8131" stop-color="#8405fe"/>
<stop offset="0.8393" stop-color="#7a03fd"/>
<stop offset="0.8656" stop-color="#6e02ea"/>
<stop offset="0.8852" stop-color="#6301ce"/>
<stop offset="0.9115" stop-color="#510098"/>
<stop offset="0.9607" stop-color="#2c002e"/>
<stop offset="0.977" stop-color="#18000e"/>
<stop offset="0.9967" stop-color="#090002"/>
<stop offset="1" stop-color="#000000"/>
</linearGradient>
<linearGradient id="c32" gradientUnits="userSpaceOnUse" x1="0" y1="88" x2="0" y2="393">
<stop offset="0" stop-color="#1e0017"/>
<stop offset="0.05246" stop-color="#270026"/>
<stop offset="0.1049" stop-color="#350044"/>
<stop offset="0.1508" stop-color="#44006d"/>
<stop offset="0.2393" stop-color="#6301ce"/>
<stop offset="0.282" stop-color="#7102f0"/>
<stop offset="0.318" stop-color="#7d04ff"/>
<stop offset="0.3475" stop-color="#8806fa"/>
<stop offset="0.3672" stop-color="#9008e9"/>
<stop offset="0.3934" stop-color="#9b0dbc"/>
<stop offset="0.4262" stop-color="#a61375"/>
<stop offset="0.4525" stop-color="#ae1a35"/>
<stop offset="0.4754" stop-color="#b42001"/>
<stop offset="0.541" stop-color="#c02f00"/>
<stop offset="0.6" stop-color="#c02f00"/>
<stop offset="0.6361" stop-color="#ba2600"/>
<stop offset="0.6459" stop-color="#b52100"/>
<stop offset="0.6492" stop-color="#b31f09"/>
<stop offset="0.6557" stop-color="#b01c24"/>
<stop offset="0.6787" stop-color="#a71470"/>
<stop offset="0.7049" stop-color="#a00fa0"/>
<stop offset="0.7803" stop-color="#8f08ec"/>
<stop offset="0.8131" stop-color="#8505fc"/>
<stop offset="0.8393" stop-color="#7b03fe"/>
<stop offset="0.8656" stop-color="#6f02ec"/>
<stop offset="0.8852" stop-color="#6401d1"/>
<stop offset="0.9115" stop-color="#53009c"/>
<stop offset="0.9639" stop-color="#290029"/>
<stop offset="0.977" stop-color="#18000e"/>
<stop offset="0.9967" stop-color="#090002"/>
<stop offset="1" stop-color="#000000"/>
</linearGradient>
<linearGradient id="c33" gradientUnits="userSpaceOnUse" x1="0" y1="88" x2="0" y2="393">
<stop offset="0" stop-color="#1e0017"/>
<stop offset="0.05246" stop-color="#270026"/>
<stop offset="0.09836" stop-color="#330040"/>
<stop offset="0.1443" stop-color="#420069"/>
<stop offset="0.2328" stop-color="#6301ce"/>
<stop offset="0.2721" stop-color="#7002ef"/>
<stop offset="0.3082" stop-color="#7d04ff"/>
<stop offset="0.3344" stop-color="#8706fa"/>
<stop offset="0.3541" stop-color="#9008e8"/>
<stop offset="0.3738" stop-color="#990cc6"/>
<stop offset="0.4" stop-color="#a41283"/>
<stop offset="0.4295" stop-color="#b01b2a"/>
<stop offset="0.4459" stop-color="#b42001"/>
<stop offset="0.5311" stop-color="#c73a00"/>
<stop offset="0.6197" stop-color="#c63800"/>
<stop offset="0.6393" stop-color="#c23100"/>
<stop offset="0.6754" stop-color="#b42002"/>
<stop offset="0.6984" stop-color="#aa1755"/>
<stop offset="0.7148" stop-color="#a41286"/>
<stop offset="0.741" stop-color="#9d0eb2"/>
<stop offset="0.7803" stop-color="#9309df"/>
<stop offset="0.8131" stop-color="#8906f7"/>
<stop offset="0.8426" stop-color="#7d04ff"/>
<stop offset="0.8623" stop-color="#7302f3"/>
<stop offset="0.8885" stop-color="#6301d0"/>
<stop offset="0.9148" stop-color="#52009a"/>
<stop offset="0.9607" stop-color="#2d0032"/>
<stop offset="0.977" stop-color="#19000f"/>
<stop offset="0.9967" stop-color="#090002"/>
<stop offset="1" stop-color="#000000"/>
</linearGradient>
<linearGradient id="c34" gradientUnits="userSpaceOnUse" x1="0" y1="88" x2="0" y2="393">
<stop offset="0" stop-color="#1e0017"/>
<stop offset="0.05246" stop-color="#270026"/>
<stop offset="0.1049" stop-color="#360046"/>
<stop offset="0.141" stop-color="#420068"/>
<stop offset="0.2295" stop-color="#6401d1"/>
<stop offset="0.2721" stop-color="#7202f3"/>
<stop offset="0.3049" stop-color="#7f04ff"/>
<stop offset="0.3279" stop-color="#8706fa"/>
<stop offset="0.3475" stop-color="#9109e3"/>
<stop offset="0.3672" stop-color="#9b0dbd"/>
<stop offset="0.3869" stop-color="#a41286"/>
<stop offset="0.423" stop-color="#b31f08"/>
<stop offset="0.4262" stop-color="#b52000"/>
<stop offset="0.5049" stop-color="#c93d00"/>
<stop offset="0.5311" stop-color="#cd4600"/>
<stop offset="0.6295" stop-color="#cc4400"/>
<stop offset="0.6918" stop-color="#b52000"/>
<stop offset="0.7148" stop-color="#a91561"/>
<stop offset="0.7311" stop-color="#a3118d"/>
<stop offset="0.7475" stop-color="#9e0eaa"/>
<stop offset="0.7934" stop-color="#9209e0"/>
<stop offset="0.8361" stop-color="#8405fe"/>
<stop offset="0.8557" stop-color="#7903fc"/>
<stop offset="0.8787" stop-color="#6a01e3"/>
<stop offset="0.9049" stop-color="#5a01b5"/>
<stop offset="0.9443" stop-color="#3d005a"/>
<stop offset="0.9738" stop-color="#1f0018"/>
<stop offset="0.9803" stop-color="#18000e"/>
<stop offset="0.9967" stop-color="#0a0002"/>
<stop offset="1" stop-color="#000000"/>
</linearGradient>
<linearGradient id="c35" gradientUnits="userSpaceOnUse" x1="0" y1="88" x2="0" y2="393">
<stop offset="0" stop-color="#1e0017"/>
<stop offset="0.05246" stop-color="#270026"/>
<stop offset="0.1049" stop-color="#360047"/>
<stop offset="0.1377" stop-color="#410065"/>
<stop offset="0.223" stop-color="#6201cd"/>
<stop offset="0.2623" stop-color="#7002ef"/>
<stop offset="0.2984" stop-color="#7e04ff"/>
<stop offset="0.3246" stop-color="#8806f9"/>
<stop offset="0.3443" stop-color="#9209e2"/>
<stop offset="0.3639" stop-color="#9b0dba"/>
<stop offset="0.3836" stop-color="#a41283"/>
<stop offset="0.4131" stop-color="#b11d1c"/>
<stop offset="0.4197" stop-color="#b41f03"/>
<stop offset="0.4393" stop-color="#b92500"/>
<stop offset="0.4918" stop-color="#c83b00"/>
<stop offset="0.5246" stop-color="#d04c00"/>
<stop offset="0.6295" stop-color="#cf4900"/>
<stop offset="0.6984" stop-color="#b52000"/>
<stop offset="0.7213" stop-color="#a91561"/>
<stop offset="0.7279" stop-color="#a61377"/>
<stop offset="0.7475" stop-color="#9f0fa2"/>
<stop offset="0.7902" stop-color="#950ad6"/>
<stop offset="0.823" stop-color="#8c07f1"/>
<stop offset="0.8426" stop-color="#8204fe"/>
<stop offset="0.859" stop-color="#7803fb"/>
<stop offset="0.8852" stop-color="#6801dd"/>
<stop offset="0.9115" stop-color="#5800ad"/>
<stop offset="0.9475" stop-color="#3c0057"/>
<stop offset="0.9738" stop-color="#20001a"/>
<stop offset="0.9803" stop-color="#19000f"/>
<stop offset="0.9967" stop-color="#0a0003"/>
<stop offset="1" stop-color="#000000"/>
</linearGradient>
<linearGradient id="c36" gradientUnits="userSpaceOnUse" x1="0" y1="88" x2="0" y2="393">
<stop offset="0" stop-color="#1e0017"/>
<stop offset="0.05246" stop-color="#270026"/>
<stop offset="0.1016" stop-color="#350045"/>
<stop offset="0.1377" stop-color="#410066"/>
<stop offset="0.2262" stop-color="#6401d1"/>
<stop offset="0.2656" stop-color="#7102f1"/>
<stop offset="0.2951" stop-color="#7d03fe"/>
<stop offset="0.3213" stop-color="#8706fb"/>
<stop offset="0.341" stop-color="#9108e6"/>
<stop offset="0.3607" stop-color="#9a0cc0"/>
<stop offset="0.3803" stop-color="#a3118b"/>
<stop offset="0.4131" stop-color="#b21d18"/>
<stop offset="0.4197" stop-color="#b42000"/>
<stop offset="0.4787" stop-color="#c43500"/>
<stop offset="0.5213" stop-color="#d14d00"/>
<stop offset="0.6295" stop-color="#d04b00"/>
<stop offset="0.6984" stop-color="#b52100"/>
<stop offset="0.7016" stop-color="#b31f08"/>
<stop offset="0.7246" stop-color="#a81569"/>
<stop offset="0.7443" stop-color="#a11099"/>
<stop offset="0.7639" stop-color="#9c0db6"/>
<stop offset="0.8066" stop-color="#9008e7"/>
<stop offset="0.8393" stop-color="#8305fe"/>
<stop offset="0.859" stop-color="#7803fb"/>
<stop offset="0.882" stop-color="#6a01e3"/>
<stop offset="0.9115" stop-color="#5900b1"/>
<stop offset="0.9443" stop-color="#410064"/>
<stop offset="0.9738" stop-color="#22001c"/>
<stop offset="0.977" stop-color="#1d0014"/>
<stop offset="1" stop-color="#090002"/>
</linearGradient>
<linearGradient id="c37" gradientUnits="userSpaceOnUse" x1="0" y1="88" x2="0" y2="393">
<stop offset="0" stop-color="#1e0017"/>
<stop offset="0.05246" stop-color="#270026"/>
<stop offset="0.1016" stop-color="#350045"/>
<stop offset="0.1377" stop-color="#410066"/>
<stop offset="0.2262" stop-color="#6401d1"/>
<stop offset="0.2656" stop-color="#7102f1"/>
<stop offset="0.2951" stop-color="#7d03fe"/>
<stop offset="0.3213" stop-color="#8706fb"/>
<stop offset="0.341" stop-color="#9108e6"/>
<stop offset="0.3607" stop-color="#9a0cc0"/>
<stop offset="0.3803" stop-color="#a3118b"/>
<stop offset="0.4131" stop-color="#b21d18"/>
<stop offset="0.4197" stop-color="#b42000"/>
<stop offset="0.4787" stop-color="#c43500"/>
<stop offset="0.5213" stop-color="#d14d00"/>
<stop offset="0.6295" stop-color="#d04b00"/>
<stop offset="0.6984" stop-color="#b52100"/>
<stop offset="0.7016" stop-color="#b31f08"/>
<stop offset="0.7246" stop-color="#a81569"/>
<stop offset="0.7443" stop-color="#a11099"/>
<stop offset="0.7639" stop-color="#9c0db6"/>
<stop offset="0.8098" stop-color="#8e08ed"/>
<stop offset="0.8393" stop-color="#8204ff"/>
<stop offset="0.859" stop-color="#7703fa"/>
<stop offset="0.8852" stop-color="#6901df"/>
<stop offset="0.9148" stop-color="#5800ae"/>
<stop offset="0.9475" stop-color="#400061"/>
<stop offset="0.9738" stop-color="#23001f"/>
<stop offset="0.977" stop-color="#1e0016"/>
<stop offset="1" stop-color="#0d0004"/>
</linearGradient>
<linearGradient id="c38" gradientUnits="userSpaceOnUse" x1="0" y1="88" x2="0" y2="393">
<stop offset="0" stop-color="#1e0017"/>
<stop offset="0.05246" stop-color="#270026"/>
<stop offset="0.1016" stop-color="#350044"/>
<stop offset="0.141" stop-color="#420069"/>
<stop offset="0.2262" stop-color="#6301d0"/>
<stop offset="0.2656" stop-color="#7102f0"/>
<stop offset="0.2984" stop-color="#7d04ff"/>
<stop offset="0.3246" stop-color="#8706fa"/>
<stop offset="0.3443" stop-color="#9109e3"/>
<stop offset="0.3639" stop-color="#9b0dbd"/>
<stop offset="0.3836" stop-color="#a41286"/>
<stop offset="0.4164" stop-color="#b21e13"/>
<stop offset="0.423" stop-color="#b52000"/>
<stop offset="0.4984" stop-color="#c83c00"/>
<stop offset="0.5246" stop-color="#ce4700"/>
<stop offset="0.6328" stop-color="#cb4100"/>
<stop offset="0.6918" stop-color="#b42002"/>
<stop offset="0.7115" stop-color="#aa1657"/>
<stop offset="0.7279" stop-color="#a31288"/>
<stop offset="0.7475" stop-color="#9e0eac"/>
<stop offset="0.7934" stop-color="#9209e1"/>
<stop offset="0.8295" stop-color="#8706fb"/>
<stop offset="0.8525" stop-color="#7d03fe"/>
<stop offset="0.8721" stop-color="#7302f4"/>
<stop offset="0.9016" stop-color="#6501d4"/>
<stop offset="0.9246" stop-color="#5800ad"/>
<stop offset="0.9574" stop-color="#3f005f"/>
<stop offset="0.977" stop-color="#290029"/>
<stop offset="1" stop-color="#120008"/>
</linearGradient>
<linearGradient id="c39" gradientUnits="userSpaceOnUse" x1="0" y1="88" x2="0" y2="393">
<stop offset="0" stop-color="#1e0017"/>
<stop offset="0.05246" stop-color="#270026"/>
<stop offset="0.1016" stop-color="#350044"/>
<stop offset="0.141" stop-color="#420068"/>
<stop offset="0.2262" stop-color="#6301cf"/>
<stop offset="0.2656" stop-color="#7002ef"/>
<stop offset="0.2984" stop-color="#7d03fe"/>
<stop offset="0.3246" stop-color="#8706fb"/>
<stop offset="0.3443" stop-color="#9108e6"/>
<stop offset="0.3639" stop-color="#9a0cc0"/>
<stop offset="0.3836" stop-color="#a3118b"/>
<stop offset="0.4164" stop-color="#b21d18"/>
<stop offset="0.423" stop-color="#b42000"/>
<stop offset="0.5279" stop-color="#cb4100"/>
<stop offset="0.6328" stop-color="#ca3f00"/>
<stop offset="0.7016" stop-color="#b52100"/>
<stop offset="0.7049" stop-color="#b41f05"/>
<stop offset="0.7148" stop-color="#b01c22"/>
<stop offset="0.7344" stop-color="#ab1752"/>
<stop offset="0.7803" stop-color="#9a0cbf"/>
<stop offset="0.7967" stop-color="#940adb"/>
<stop offset="0.823" stop-color="#8a07f5"/>
<stop offset="0.8492" stop-color="#8104ff"/>
<stop offset="0.8754" stop-color="#7602f8"/>
<stop offset="0.9049" stop-color="#6a01e1"/>
<stop offset="0.9246" stop-color="#6001c6"/>
<stop offset="0.9508" stop-color="#4f0091"/>
<stop offset="0.977" stop-color="#350045"/>
<stop offset="1" stop-color="#1d0015"/>
</linearGradient>
<linearGradient id="c40" gradientUnits="userSpaceOnUse" x1="0" y1="88" x2="0" y2="393">
<stop offset="0" stop-color="#1e0017"/>
<stop offset="0.05246" stop-color="#270026"/>
<stop offset="0.1016" stop-color="#350044"/>
<stop offset="0.141" stop-color="#420068"/>
<stop offset="0.2262" stop-color="#6301cf"/>
<stop offset="0.2656" stop-color="#7002ef"/>
<stop offset="0.2984" stop-color="#7d03fe"/>
<stop offset="0.3246" stop-color="#8706fb"/>
<stop offset="0.3443" stop-color="#9108e6"/>
<stop offset="0.3639" stop-color="#9a0cc0"/>
<stop offset="0.3836" stop-color="#a3118b"/>
<stop offset="0.4164" stop-color="#b21d18"/>
<stop offset="0.423" stop-color="#b42000"/>
<stop offset="0.5279" stop-color="#cb4100"/>
<stop offset="0.6098" stop-color="#d45400"/>
<stop offset="0.6754" stop-color="#dd6b00"/>
<stop offset="0.7279" stop-color="#da6400"/>
<stop offset="0.7738" stop-color="#c43500"/>
<stop offset="0.7934" stop-color="#b62200"/>
<stop offset="0.7967" stop-color="#b42003"/>
<stop offset="0.8197" stop-color="#a31289"/>
<stop offset="0.8262" stop-color="#9e0eaa"/>
<stop offset="0.8426" stop-color="#930adc"/>
<stop offset="0.8557" stop-color="#8b07f4"/>
<stop offset="0.8721" stop-color="#8204ff"/>
<stop offset="0.9049" stop-color="#7603f9"/>
<stop offset="0.9246" stop-color="#6e02eb"/>
<stop offset="0.9508" stop-color="#6101c8"/>
<stop offset="0.9705" stop-color="#500094"/>
<stop offset="0.9836" stop-color="#450071"/>
<stop offset="1" stop-color="#360048"/>
</linearGradient>
<linearGradient id="c41" gradientUnits="userSpaceOnUse" x1="0" y1="88" x2="0" y2="393">
<stop offset="0" stop-color="#1e0017"/>
<stop offset="0.05246" stop-color="#270026"/>
<stop offset="0.1016" stop-color="#350044"/>
<stop offset="0.141" stop-color="#420068"/>
<stop offset="0.2262" stop-color="#6301cf"/>
<stop offset="0.2656" stop-color="#7002ef"/>
<stop offset="0.2984" stop-color="#7d03fe"/>
<stop offset="0.3246" stop-color="#8706fb"/>
<stop offset="0.3443" stop-color="#9108e6"/>
<stop offset="0.3639" stop-color="#9a0cc0"/>
<stop offset="0.3836" stop-color="#a3118b"/>
<stop offset="0.4164" stop-color="#b21d18"/>
<stop offset="0.423" stop-color="#b42000"/>
<stop offset="0.5311" stop-color="#ce4600"/>
<stop offset="0.5738" stop-color="#d85f00"/>
<stop offset="0.623" stop-color="#e89000"/>
<stop offset="0.6656" stop-color="#f2bd00"/>
<stop offset="0.6918" stop-color="#f5ca00"/>
<stop offset="0.7311" stop-color="#f5ca00"/>
<stop offset="0.7672" stop-color="#efac00"/>
<stop offset="0.7869" stop-color="#e68900"/>
<stop offset="0.8262" stop-color="#cb4000"/>
<stop offset="0.8525" stop-color="#b52100"/>
<stop offset="0.8557" stop-color="#b31e0e"/>
<stop offset="0.8689" stop-color="#a91561"/>
<stop offset="0.8754" stop-color="#a21190"/>
<stop offset="0.8852" stop-color="#9a0cc1"/>
<stop offset="0.8984" stop-color="#8f08e9"/>
<stop offset="0.9115" stop-color="#8706fb"/>
<stop offset="0.9311" stop-color="#7e04ff"/>
<stop offset="0.9541" stop-color="#7402f6"/>
<stop offset="0.9672" stop-color="#6b01e5"/>
<stop offset="0.9934" stop-color="#5500a4"/>
<stop offset="1" stop-color="#4f0091"/>
</linearGradient>
<linearGradient id="c42" gradientUnits="userSpaceOnUse" x1="0" y1="88" x2="0" y2="393">
<stop offset="0" stop-color="#1e0017"/>
<stop offset="0.05246" stop-color="#270026"/>
<stop offset="0.1016" stop-color="#350044"/>
<stop offset="0.141" stop-color="#420068"/>
<stop offset="0.2262" stop-color="#6301cf"/>
<stop offset="0.2656" stop-color="#7002ef"/>
<stop offset="0.2984" stop-color="#7d03fe"/>
<stop offset="0.3246" stop-color="#8706fb"/>
<stop offset="0.3443" stop-color="#9108e6"/>
<stop offset="0.3639" stop-color="#9a0cc0"/>
<stop offset="0.3836" stop-color="#a3118b"/>
<stop offset="0.4164" stop-color="#b21d18"/>
<stop offset="0.423" stop-color="#b42000"/>
<stop offset="0.5443" stop-color="#d04a00"/>
<stop offset="0.5836" stop-color="#d96100"/>
<stop offset="0.623" stop-color="#e48200"/>
<stop offset="0.6525" stop-color="#eca000"/>
<stop offset="0.682" stop-color="#f0b300"/>
<stop offset="0.7279" stop-color="#f0b300"/>
<stop offset="0.7705" stop-color="#e48100"/>
<stop offset="0.8098" stop-color="#c93d00"/>
<stop offset="0.8295" stop-color="#b82400"/>
<stop offset="0.8328" stop-color="#b62200"/>
<stop offset="0.8361" stop-color="#b31f09"/>
<stop offset="0.8525" stop-color="#a61377"/>
<stop offset="0.8656" stop-color="#9d0eb1"/>
<stop offset="0.8754" stop-color="#950ad7"/>
<stop offset="0.8918" stop-color="#8c07f2"/>
<stop offset="0.9082" stop-color="#8405fe"/>
<stop offset="0.9377" stop-color="#7803fb"/>
<stop offset="0.9541" stop-color="#7002ef"/>
<stop offset="0.9705" stop-color="#6401d1"/>
<stop offset="1" stop-color="#4c0086"/>
</linearGradient>
<linearGradient id="c43" gradientUnits="userSpaceOnUse" x1="0" y1="88" x2="0" y2="393">
<stop offset="0" stop-color="#1e0017"/>
<stop offset="0.05246" stop-color="#270026"/>
<stop offset="0.1049" stop-color="#360046"/>
<stop offset="0.141" stop-color="#410066"/>
<stop offset="0.2295" stop-color="#6301ce"/>
<stop offset="0.2689" stop-color="#7002ef"/>
<stop offset="0.3049" stop-color="#7d04ff"/>
<stop offset="0.3311" stop-color="#8706fa"/>
<stop offset="0.3475" stop-color="#8f08e9"/>
<stop offset="0.3672" stop-color="#990cc5"/>
<stop offset="0.3869" stop-color="#a21192"/>
<stop offset="0.4164" stop-color="#af1b2d"/>
<stop offset="0.4295" stop-color="#b52000"/>
<stop offset="0.5279" stop-color="#c83c00"/>
<stop offset="0.6164" stop-color="#cb4000"/>
<stop offset="0.6721" stop-color="#be2c00"/>
<stop offset="0.6951" stop-color="#b52000"/>
<stop offset="0.7213" stop-color="#ad193e"/>
<stop offset="0.7344" stop-color="#aa1755"/>
<stop offset="0.7967" stop-color="#970bcc"/>
<stop offset="0.823" stop-color="#8d07ef"/>
<stop offset="0.8459" stop-color="#8405fd"/>
<stop offset="0.8721" stop-color="#7a03fd"/>
<stop offset="0.9082" stop-color="#6e02eb"/>
<stop offset="0.9246" stop-color="#6701da"/>
<stop offset="0.9508" stop-color="#5800ad"/>
<stop offset="0.9869" stop-color="#390050"/>
<stop offset="1" stop-color="#2c002f"/>
</linearGradient>
<linearGradient id="c44" gradientUnits="userSpaceOnUse" x1="0" y1="88" x2="0" y2="393">
<stop offset="0" stop-color="#1e0017"/>
<stop offset="0.05246" stop-color="#270026"/>
<stop offset="0.1016" stop-color="#340042"/>
<stop offset="0.1443" stop-color="#420068"/>
<stop offset="0.2328" stop-color="#6301cf"/>
<stop offset="0.2754" stop-color="#7102f1"/>
<stop offset="0.3115" stop-color="#7e04ff"/>
<stop offset="0.3377" stop-color="#8806f9"/>
<stop offset="0.3574" stop-color="#9209e1"/>
<stop offset="0.3803" stop-color="#9d0eb0"/>
<stop offset="0.4" stop-color="#a61375"/>
<stop offset="0.4328" stop-color="#b42000"/>
<stop offset="0.4918" stop-color="#c13100"/>
<stop offset="0.5869" stop-color="#c43500"/>
<stop offset="0.6393" stop-color="#b92500"/>
<stop offset="0.6459" stop-color="#b52100"/>
<stop offset="0.6492" stop-color="#b31f08"/>
<stop offset="0.659" stop-color="#af1b2e"/>
<stop offset="0.6787" stop-color="#a7146f"/>
<stop offset="0.7082" stop-color="#9f0fa3"/>
<stop offset="0.7475" stop-color="#970bcd"/>
<stop offset="0.7738" stop-color="#8e07ee"/>
<stop offset="0.8" stop-color="#8305fe"/>
<stop offset="0.8262" stop-color="#7803fb"/>
<stop offset="0.8557" stop-color="#6c01e6"/>
<stop offset="0.8951" stop-color="#5a00b3"/>
<stop offset="0.9344" stop-color="#43006d"/>
<stop offset="0.9607" stop-color="#300039"/>
<stop offset="0.9803" stop-color="#200018"/>
<stop offset="1" stop-color="#110007"/>
</linearGradient>
<linearGradient id="c45" gradientUnits="userSpaceOnUse" x1="0" y1="88" x2="0" y2="393">
<stop offset="0" stop-color="#1e0017"/>
<stop offset="0.05246" stop-color="#270026"/>
<stop offset="0.1016" stop-color="#340042"/>
<stop offset="0.1443" stop-color="#420068"/>
<stop offset="0.2328" stop-color="#6301cf"/>
<stop offset="0.2754" stop-color="#7102f1"/>
<stop offset="0.3115" stop-color="#7e04ff"/>
<stop offset="0.3377" stop-color="#8806f9"/>
<stop offset="0.3574" stop-color="#9209e1"/>
<stop offset="0.3803" stop-color="#9d0eb0"/>
<stop offset="0.4" stop-color="#a61375"/>
<stop offset="0.4328" stop-color="#b42000"/>
<stop offset="0.4918" stop-color="#c13100"/>
<stop offset="0.5869" stop-color="#c43500"/>
<stop offset="0.6393" stop-color="#b92500"/>
<stop offset="0.6459" stop-color="#b52100"/>
<stop offset="0.6492" stop-color="#b31f08"/>
<stop offset="0.659" stop-color="#af1b2e"/>
<stop offset="0.6787" stop-color="#a7146f"/>
<stop offset="0.7082" stop-color="#9f0fa3"/>
<stop offset="0.7475" stop-color="#970bcd"/>
<stop offset="0.7738" stop-color="#8e07ee"/>
<stop offset="0.8" stop-color="#8305fe"/>
<stop offset="0.8262" stop-color="#7803fb"/>
<stop offset="0.8557" stop-color="#6c01e6"/>
<stop offset="0.8951" stop-color="#5a00b3"/>
<stop offset="0.9344" stop-color="#43006d"/>
<stop offset="0.9607" stop-color="#300039"/>
<stop offset="0.9803" stop-color="#200018"/>
<stop offset="1" stop-color="#110007"/>
</linearGradient>
<linearGradient id="c46" gradientUnits="userSpaceOnUse" x1="0" y1="88" x2="0" y2="393">
<stop offset="0" stop-color="#1e0017"/>
<stop offset="0.05246" stop-color="#270026"/>
<stop offset="0.1016" stop-color="#340042"/>
<stop offset="0.1475" stop-color="#43006b"/>
<stop offset="0.2328" stop-color="#6301ce"/>
<stop offset="0.2754" stop-color="#7102f0"/>
<stop offset="0.3115" stop-color="#7e04ff"/>
<stop offset="0.3377" stop-color="#8806fa"/>
<stop offset="0.3574" stop-color="#9109e3"/>
<stop offset="0.377" stop-color="#9b0dbc"/>
<stop offset="0.3967" stop-color="#a41285"/>
<stop offset="0.4295" stop-color="#b21e12"/>
<stop offset="0.4328" stop-color="#b41f06"/>
<stop offset="0.4361" stop-color="#b52000"/>
<stop offset="0.4984" stop-color="#c23200"/>
<stop offset="0.5639" stop-color="#c53700"/>
<stop offset="0.623" stop-color="#c13100"/>
<stop offset="0.6721" stop-color="#b52000"/>
<stop offset="0.6984" stop-color="#ae1a34"/>
<stop offset="0.7148" stop-color="#a81565"/>
<stop offset="0.741" stop-color="#9f0fa2"/>
<stop offset="0.7672" stop-color="#970bcf"/>
<stop offset="0.8066" stop-color="#8706fa"/>
<stop offset="0.823" stop-color="#7e04ff"/>
<stop offset="0.8492" stop-color="#7202f2"/>
<stop offset="0.8721" stop-color="#6601d6"/>
<stop offset="0.9082" stop-color="#53009f"/>
<stop offset="0.9639" stop-color="#2e0033"/>
<stop offset="0.9803" stop-color="#200018"/>
<stop offset="1" stop-color="#110007"/>
</linearGradient>
<linearGradient id="c47" gradientUnits="userSpaceOnUse" x1="0" y1="88" x2="0" y2="393">
<stop offset="0" stop-color="#1e0017"/>
<stop offset="0.05246" stop-color="#270026"/>
<stop offset="0.1049" stop-color="#350044"/>
<stop offset="0.1475" stop-color="#43006a"/>
<stop offset="0.2361" stop-color="#6301cf"/>
<stop offset="0.2787" stop-color="#7102f1"/>
<stop offset="0.3148" stop-color="#7e04ff"/>
<stop offset="0.341" stop-color="#8806f9"/>
<stop offset="0.3574" stop-color="#9008e7"/>
<stop offset="0.377" stop-color="#990cc3"/>
<stop offset="0.3967" stop-color="#a2118e"/>
<stop offset="0.4295" stop-color="#b11d1d"/>
<stop offset="0.4361" stop-color="#b41f04"/>
<stop offset="0.4426" stop-color="#b62100"/>
<stop offset="0.518" stop-color="#c53600"/>
<stop offset="0.5836" stop-color="#c63800"/>
<stop offset="0.6557" stop-color="#c43400"/>
<stop offset="0.7049" stop-color="#b92500"/>
<stop offset="0.7148" stop-color="#b42002"/>
<stop offset="0.7377" stop-color="#a81565"/>
<stop offset="0.7508" stop-color="#a31288"/>
<stop offset="0.7639" stop-color="#9f0fa3"/>
<stop offset="0.7934" stop-color="#980bca"/>
<stop offset="0.8066" stop-color="#8f08e9"/>
<stop offset="0.8197" stop-color="#8605fb"/>
<stop offset="0.8328" stop-color="#7e04ff"/>
<stop offset="0.8525" stop-color="#7302f5"/>
<stop offset="0.8852" stop-color="#6001c7"/>
<stop offset="0.918" stop-color="#4e008c"/>
<stop offset="0.9672" stop-color="#2b002c"/>
<stop offset="0.9803" stop-color="#1f0018"/>
<stop offset="1" stop-color="#100006"/>
</linearGradient>
<linearGradient id="c48" gradientUnits="userSpaceOnUse" x1="0" y1="88" x2="0" y2="393">
<stop offset="0" stop-color="#1e0017"/>
<stop offset="0.05246" stop-color="#270026"/>
<stop offset="0.1049" stop-color="#350044"/>
<stop offset="0.1475" stop-color="#420069"/>
<stop offset="0.2328" stop-color="#6101ca"/>
<stop offset="0.2721" stop-color="#6e02eb"/>
<stop offset="0.3115" stop-color="#7c03fe"/>
<stop offset="0.3377" stop-color="#8505fc"/>
<stop offset="0.3541" stop-color="#8d07ef"/>
<stop offset="0.3738" stop-color="#970bcf"/>
<stop offset="0.3934" stop-color="#a00f9f"/>
<stop offset="0.4197" stop-color="#ac184a"/>
<stop offset="0.4393" stop-color="#b42001"/>
<stop offset="0.5082" stop-color="#c33300"/>
<stop offset="0.5607" stop-color="#c63800"/>
<stop offset="0.6492" stop-color="#c33300"/>
<stop offset="0.7082" stop-color="#b62200"/>
<stop offset="0.7115" stop-color="#b42000"/>
<stop offset="0.7344" stop-color="#a9165d"/>
<stop offset="0.7443" stop-color="#a5137e"/>
<stop offset="0.7672" stop-color="#9d0eae"/>
<stop offset="0.7934" stop-color="#970bcf"/>
<stop offset="0.8098" stop-color="#8d07f1"/>
<stop offset="0.823" stop-color="#8305fe"/>
<stop offset="0.8426" stop-color="#7803fb"/>
<stop offset="0.8623" stop-color="#6d02e8"/>
<stop offset="0.9049" stop-color="#5500a4"/>
<stop offset="0.9607" stop-color="#2f0036"/>
<stop offset="0.9803" stop-color="#1e0016"/>
<stop offset="1" stop-color="#0d0004"/>
</linearGradient>
<linearGradient id="c49" gradientUnits="userSpaceOnUse" x1="0" y1="88" x2="0" y2="393">
<stop offset="0" stop-color="#1e0017"/>
<stop offset="0.05246" stop-color="#270026"/>
<stop offset="0.1049" stop-color="#340043"/>
<stop offset="0.1475" stop-color="#420068"/>
<stop offset="0.2426" stop-color="#6401d2"/>
<stop offset="0.2852" stop-color="#7202f2"/>
<stop offset="0.3213" stop-color="#7e04ff"/>
<stop offset="0.3475" stop-color="#8806f9"/>
<stop offset="0.3672" stop-color="#9209e1"/>
<stop offset="0.3869" stop-color="#9b0db9"/>
<stop offset="0.4066" stop-color="#a41282"/>
<stop offset="0.4426" stop-color="#b42002"/>
<stop offset="0.5082" stop-color="#c13000"/>
<stop offset="0.5967" stop-color="#c23200"/>
<stop offset="0.6426" stop-color="#b92500"/>
<stop offset="0.6492" stop-color="#b52100"/>
<stop offset="0.6525" stop-color="#b31f08"/>
<stop offset="0.6623" stop-color="#af1b2e"/>
<stop offset="0.682" stop-color="#a7146f"/>
<stop offset="0.7115" stop-color="#9f0fa3"/>
<stop offset="0.7508" stop-color="#970bcd"/>
<stop offset="0.7738" stop-color="#8e08ee"/>
<stop offset="0.7967" stop-color="#8405fe"/>
<stop offset="0.8197" stop-color="#7903fc"/>
<stop offset="0.8492" stop-color="#6c01e7"/>
<stop offset="0.882" stop-color="#5d01bd"/>
<stop offset="0.9213" stop-color="#48007c"/>
<stop offset="0.9672" stop-color="#280027"/>
<stop offset="0.9803" stop-color="#1c0014"/>
<stop offset="0.9967" stop-color="#0e0005"/>
<stop offset="1" stop-color="#090002"/>
</linearGradient>
<linearGradient id="c50" gradientUnits="userSpaceOnUse" x1="0" y1="88" x2="0" y2="393">
<stop offset="0" stop-color="#1e0017"/>
<stop offset="0.05246" stop-color="#270026"/>
<stop offset="0.1016" stop-color="#330040"/>
<stop offset="0.1475" stop-color="#410067"/>
<stop offset="0.2426" stop-color="#6301d0"/>
<stop offset="0.2852" stop-color="#7102f0"/>
<stop offset="0.3213" stop-color="#7d04ff"/>
<stop offset="0.3508" stop-color="#8806f9"/>
<stop offset="0.3705" stop-color="#9209e1"/>
<stop offset="0.3934" stop-color="#9d0eb0"/>
<stop offset="0.4131" stop-color="#a61375"/>
<stop offset="0.4459" stop-color="#b42000"/>
<stop offset="0.5115" stop-color="#c13000"/>
<stop offset="0.5902" stop-color="#c43400"/>
<stop offset="0.6393" stop-color="#bc2900"/>
<stop offset="0.6557" stop-color="#b52000"/>
<stop offset="0.6787" stop-color="#ac1846"/>
<stop offset="0.6852" stop-color="#aa165a"/>
<stop offset="0.7115" stop-color="#a11096"/>
<stop offset="0.7443" stop-color="#9a0cbf"/>
<stop offset="0.7803" stop-color="#8c07f2"/>
<stop offset="0.8" stop-color="#8205fe"/>
<stop offset="0.8197" stop-color="#7803fb"/>
<stop offset="0.8525" stop-color="#6901de"/>
<stop offset="0.8984" stop-color="#52009c"/>
<stop offset="0.9607" stop-color="#2c002f"/>
<stop offset="0.9803" stop-color="#1a0011"/>
<stop offset="0.9967" stop-color="#0b0003"/>
<stop offset="1" stop-color="#000000"/>
</linearGradient>
<linearGradient id="c51" gradientUnits="userSpaceOnUse" x1="0" y1="88" x2="0" y2="393">
<stop offset="0" stop-color="#1e0017"/>
<stop offset="0.05246" stop-color="#270026"/>
<stop offset="0.09508" stop-color="#32003c"/>
<stop offset="0.1475" stop-color="#410066"/>
<stop offset="0.2426" stop-color="#6301cf"/>
<stop offset="0.2885" stop-color="#7102f2"/>
<stop offset="0.3246" stop-color="#7e04ff"/>
<stop offset="0.3508" stop-color="#8806fa"/>
<stop offset="0.3705" stop-color="#9209e3"/>
<stop offset="0.3902" stop-color="#9b0dbb"/>
<stop offset="0.4098" stop-color="#a41284"/>
<stop offset="0.4393" stop-color="#b11d1d"/>
<stop offset="0.4459" stop-color="#b41f05"/>
<stop offset="0.4525" stop-color="#b62100"/>
<stop offset="0.518" stop-color="#c33300"/>
<stop offset="0.5705" stop-color="#c53600"/>
<stop offset="0.6393" stop-color="#c33200"/>
<stop offset="0.682" stop-color="#b92500"/>
<stop offset="0.6885" stop-color="#b52100"/>
<stop offset="0.6918" stop-color="#b31f08"/>
<stop offset="0.7148" stop-color="#a81569"/>
<stop offset="0.7344" stop-color="#a11099"/>
<stop offset="0.7541" stop-color="#9c0db6"/>
<stop offset="0.7705" stop-color="#970bcd"/>
<stop offset="0.7869" stop-color="#8d07ef"/>
<stop offset="0.8" stop-color="#8505fd"/>
<stop offset="0.8131" stop-color="#7c03fe"/>
<stop offset="0.8492" stop-color="#6701da"/>
<stop offset="0.9082" stop-color="#49007f"/>
<stop offset="0.9639" stop-color="#270025"/>
<stop offset="0.9803" stop-color="#19000f"/>
<stop offset="0.9967" stop-color="#0a0002"/>
<stop offset="1" stop-color="#000000"/>
</linearGradient>
<linearGradient id="c52" gradientUnits="userSpaceOnUse" x1="0" y1="88" x2="0" y2="393">
<stop offset="0" stop-color="#1e0017"/>
<stop offset="0.05246" stop-color="#270025"/>
<stop offset="0.1082" stop-color="#350044"/>
<stop offset="0.1508" stop-color="#420068"/>
<stop offset="0.2426" stop-color="#6201cc"/>
<stop offset="0.2852" stop-color="#7002ee"/>
<stop offset="0.3213" stop-color="#7c03fe"/>
<stop offset="0.3508" stop-color="#8605fc"/>
<stop offset="0.3705" stop-color="#8f08e9"/>
<stop offset="0.3902" stop-color="#990cc5"/>
<stop offset="0.4098" stop-color="#a21192"/>
<stop offset="0.4426" stop-color="#b11c21"/>
<stop offset="0.4492" stop-color="#b31f08"/>
<stop offset="0.4525" stop-color="#b42000"/>
<stop offset="0.518" stop-color="#c23100"/>
<stop offset="0.5836" stop-color="#c43500"/>
<stop offset="0.6426" stop-color="#c02e00"/>
<stop offset="0.6787" stop-color="#b52100"/>
<stop offset="0.682" stop-color="#b41f06"/>
<stop offset="0.6951" stop-color="#ae193b"/>
<stop offset="0.7148" stop-color="#a5137d"/>
<stop offset="0.741" stop-color="#9e0ead"/>
<stop offset="0.7574" stop-color="#990cc2"/>
<stop offset="0.7705" stop-color="#940ad9"/>
<stop offset="0.7836" stop-color="#8c07f3"/>
<stop offset="0.7967" stop-color="#8205fe"/>
<stop offset="0.8098" stop-color="#7903fb"/>
<stop offset="0.823" stop-color="#6e02ea"/>
<stop offset="0.8623" stop-color="#5a01b5"/>
<stop offset="0.9377" stop-color="#350044"/>
<stop offset="0.9803" stop-color="#17000d"/>
<stop offset="0.9967" stop-color="#090002"/>
<stop offset="1" stop-color="#000000"/>
</linearGradient>
<linearGradient id="c53" gradientUnits="userSpaceOnUse" x1="0" y1="88" x2="0" y2="393">
<stop offset="0" stop-color="#1e0017"/>
<stop offset="0.05574" stop-color="#280026"/>
<stop offset="0.1115" stop-color="#350046"/>
<stop offset="0.1508" stop-color="#410065"/>
<stop offset="0.2492" stop-color="#6301ce"/>
<stop offset="0.2918" stop-color="#7002ef"/>
<stop offset="0.3311" stop-color="#7d04ff"/>
<stop offset="0.3607" stop-color="#8706fa"/>
<stop offset="0.3803" stop-color="#9109e4"/>
<stop offset="0.4" stop-color="#9a0dbd"/>
<stop offset="0.4197" stop-color="#a31287"/>
<stop offset="0.4492" stop-color="#b11c21"/>
<stop offset="0.4557" stop-color="#b31f09"/>
<stop offset="0.4623" stop-color="#b52000"/>
<stop offset="0.5246" stop-color="#bf2d00"/>
<stop offset="0.6033" stop-color="#c02f00"/>
<stop offset="0.6492" stop-color="#b62200"/>
<stop offset="0.6525" stop-color="#b52000"/>
<stop offset="0.6656" stop-color="#af1a32"/>
<stop offset="0.6885" stop-color="#a61378"/>
<stop offset="0.718" stop-color="#9e0fa9"/>
<stop offset="0.7541" stop-color="#960bd2"/>
<stop offset="0.7705" stop-color="#8c07f2"/>
<stop offset="0.7869" stop-color="#8204ff"/>
<stop offset="0.8033" stop-color="#7603f9"/>
<stop offset="0.8197" stop-color="#6901e0"/>
<stop offset="0.8295" stop-color="#6201cd"/>
<stop offset="0.8689" stop-color="#500095"/>
<stop offset="0.9508" stop-color="#2a002a"/>
<stop offset="0.9803" stop-color="#16000b"/>
<stop offset="0.9967" stop-color="#090002"/>
<stop offset="1" stop-color="#000000"/>
</linearGradient>
<linearGradient id="c54" gradientUnits="userSpaceOnUse" x1="0" y1="88" x2="0" y2="393">
<stop offset="0" stop-color="#1e0016"/>
<stop offset="0.05902" stop-color="#280027"/>
<stop offset="0.1115" stop-color="#350043"/>
<stop offset="0.1574" stop-color="#420068"/>
<stop offset="0.259" stop-color="#6401d1"/>
<stop offset="0.3082" stop-color="#7202f3"/>
<stop offset="0.3443" stop-color="#7e04ff"/>
<stop offset="0.3672" stop-color="#8605fb"/>
<stop offset="0.3869" stop-color="#9008e8"/>
<stop offset="0.4066" stop-color="#990cc4"/>
<stop offset="0.4262" stop-color="#a21191"/>
<stop offset="0.4525" stop-color="#ae193a"/>
<stop offset="0.4656" stop-color="#b31e0f"/>
<stop offset="0.4787" stop-color="#b52000"/>
<stop offset="0.5803" stop-color="#bd2b00"/>
<stop offset="0.6131" stop-color="#ba2700"/>
<stop offset="0.6262" stop-color="#b42000"/>
<stop offset="0.6459" stop-color="#ad193c"/>
<stop offset="0.6525" stop-color="#aa1754"/>
<stop offset="0.6787" stop-color="#a2118f"/>
<stop offset="0.7115" stop-color="#9b0dba"/>
<stop offset="0.718" stop-color="#9a0cc0"/>
<stop offset="0.741" stop-color="#9108e6"/>
<stop offset="0.7639" stop-color="#8605fc"/>
<stop offset="0.7836" stop-color="#7a03fd"/>
<stop offset="0.8033" stop-color="#6e02eb"/>
<stop offset="0.823" stop-color="#6001c6"/>
<stop offset="0.8426" stop-color="#5700ab"/>
<stop offset="0.8885" stop-color="#44006e"/>
<stop offset="0.9639" stop-color="#200019"/>
<stop offset="0.9836" stop-color="#130009"/>
<stop offset="0.9967" stop-color="#080002"/>
<stop offset="1" stop-color="#000000"/>
</linearGradient>
<linearGradient id="c55" gradientUnits="userSpaceOnUse" x1="0" y1="88" x2="0" y2="393">
<stop offset="0" stop-color="#1d0015"/>
<stop offset="0.05902" stop-color="#280026"/>
<stop offset="0.1148" stop-color="#360046"/>
<stop offset="0.1508" stop-color="#410064"/>
<stop offset="0.2492" stop-color="#6201cd"/>
<stop offset="0.2951" stop-color="#7002ef"/>
<stop offset="0.3377" stop-color="#7d04ff"/>
<stop offset="0.3705" stop-color="#8706fa"/>
<stop offset="0.3934" stop-color="#9008e7"/>
<stop offset="0.4197" stop-color="#9a0cc0"/>
<stop offset="0.4525" stop-color="#a61378"/>
<stop offset="0.4656" stop-color="#aa1657"/>
<stop offset="0.4951" stop-color="#af1a30"/>
<stop offset="0.5311" stop-color="#b31f0a"/>
<stop offset="0.5705" stop-color="#b41f03"/>
<stop offset="0.5836" stop-color="#b31f07"/>
<stop offset="0.6066" stop-color="#b11d1c"/>
<stop offset="0.6393" stop-color="#a41281"/>
<stop offset="0.6557" stop-color="#9e0eac"/>
<stop offset="0.682" stop-color="#950ad8"/>
<stop offset="0.7115" stop-color="#8b07f3"/>
<stop offset="0.7344" stop-color="#8204ff"/>
<stop offset="0.7607" stop-color="#7603f9"/>
<stop offset="0.7934" stop-color="#6701db"/>
<stop offset="0.8328" stop-color="#5500a3"/>
<stop offset="0.918" stop-color="#340043"/>
<stop offset="0.9738" stop-color="#17000d"/>
<stop offset="0.9967" stop-color="#080001"/>
<stop offset="1" stop-color="#000000"/>
</linearGradient>
<linearGradient id="c56" gradientUnits="userSpaceOnUse" x1="0" y1="88" x2="0" y2="393">
<stop offset="0" stop-color="#1d0014"/>
<stop offset="0.05246" stop-color="#260023"/>
<stop offset="0.1082" stop-color="#340042"/>
<stop offset="0.1443" stop-color="#400061"/>
<stop offset="0.2328" stop-color="#5f01c3"/>
<stop offset="0.2754" stop-color="#6d02e8"/>
<stop offset="0.3148" stop-color="#7903fb"/>
<stop offset="0.3475" stop-color="#8204ff"/>
<stop offset="0.3869" stop-color="#8c07f1"/>
<stop offset="0.4197" stop-color="#960ad3"/>
<stop offset="0.4721" stop-color="#a3118b"/>
<stop offset="0.4918" stop-color="#a71472"/>
<stop offset="0.5311" stop-color="#ac1847"/>
<stop offset="0.5803" stop-color="#ab1750"/>
<stop offset="0.6262" stop-color="#a0109b"/>
<stop offset="0.6557" stop-color="#940ad9"/>
<stop offset="0.6754" stop-color="#8b07f3"/>
<stop offset="0.6951" stop-color="#8205fe"/>
<stop offset="0.7148" stop-color="#7903fc"/>
<stop offset="0.7639" stop-color="#6501d5"/>
<stop offset="0.9213" stop-color="#31003a"/>
<stop offset="0.9639" stop-color="#1c0013"/>
<stop offset="0.9902" stop-color="#0d0004"/>
<stop offset="0.9967" stop-color="#070001"/>
<stop offset="1" stop-color="#000000"/>
</linearGradient>
<linearGradient id="c57" gradientUnits="userSpaceOnUse" x1="0" y1="88" x2="0" y2="393">
<stop offset="0" stop-color="#1c0013"/>
<stop offset="0.05246" stop-color="#250022"/>
<stop offset="0.1082" stop-color="#340041"/>
<stop offset="0.141" stop-color="#3d005b"/>
<stop offset="0.2393" stop-color="#6001c7"/>
<stop offset="0.2852" stop-color="#6f02ec"/>
<stop offset="0.3246" stop-color="#7a03fd"/>
<stop offset="0.3639" stop-color="#8505fd"/>
<stop offset="0.3967" stop-color="#8e07ee"/>
<stop offset="0.4295" stop-color="#970bcd"/>
<stop offset="0.4721" stop-color="#a21094"/>
<stop offset="0.4918" stop-color="#a5137b"/>
<stop offset="0.5311" stop-color="#ab1751"/>
<stop offset="0.5803" stop-color="#aa1755"/>
<stop offset="0.6262" stop-color="#a00fa0"/>
<stop offset="0.6328" stop-color="#9e0eac"/>
<stop offset="0.6525" stop-color="#950ad6"/>
<stop offset="0.6754" stop-color="#8b07f5"/>
<stop offset="0.6951" stop-color="#8104ff"/>
<stop offset="0.718" stop-color="#7603f9"/>
<stop offset="0.7639" stop-color="#6401d2"/>
<stop offset="0.918" stop-color="#32003c"/>
<stop offset="0.9607" stop-color="#1d0015"/>
<stop offset="0.9869" stop-color="#0f0005"/>
<stop offset="0.9967" stop-color="#070001"/>
<stop offset="1" stop-color="#000000"/>
</linearGradient>
<linearGradient id="c58" gradientUnits="userSpaceOnUse" x1="0" y1="88" x2="0" y2="393">
<stop offset="0" stop-color="#1b0012"/>
<stop offset="0.05574" stop-color="#250022"/>
<stop offset="0.1148" stop-color="#350044"/>
<stop offset="0.1443" stop-color="#3e005c"/>
<stop offset="0.2393" stop-color="#5f01c4"/>
<stop offset="0.2852" stop-color="#6e02ea"/>
<stop offset="0.3246" stop-color="#7903fc"/>
<stop offset="0.3639" stop-color="#8305fe"/>
<stop offset="0.3967" stop-color="#8c07f2"/>
<stop offset="0.4295" stop-color="#960ad4"/>
<stop offset="0.4754" stop-color="#a11098"/>
<stop offset="0.4885" stop-color="#a41287"/>
<stop offset="0.5311" stop-color="#aa165a"/>
<stop offset="0.5803" stop-color="#aa165a"/>
<stop offset="0.6295" stop-color="#9e0fa9"/>
<stop offset="0.6525" stop-color="#940ad9"/>
<stop offset="0.6754" stop-color="#8a06f7"/>
<stop offset="0.6951" stop-color="#8004ff"/>
<stop offset="0.7148" stop-color="#7703f9"/>
<stop offset="0.7639" stop-color="#6301ce"/>
<stop offset="0.7902" stop-color="#5a00b3"/>
<stop offset="0.8885" stop-color="#3b0053"/>
<stop offset="0.9541" stop-color="#200019"/>
<stop offset="0.9869" stop-color="#0e0005"/>
<stop offset="0.9967" stop-color="#070001"/>
<stop offset="1" stop-color="#000000"/>
</linearGradient>
<linearGradient id="c59" gradientUnits="userSpaceOnUse" x1="0" y1="88" x2="0" y2="393">
<stop offset="0" stop-color="#1a0011"/>
<stop offset="0.04262" stop-color="#21001c"/>
<stop offset="0.1016" stop-color="#300039"/>
<stop offset="0.141" stop-color="#3c0056"/>
<stop offset="0.2393" stop-color="#5e01c0"/>
<stop offset="0.2885" stop-color="#6c01e7"/>
<stop offset="0.3311" stop-color="#7803fb"/>
<stop offset="0.3705" stop-color="#8205fe"/>
<stop offset="0.3967" stop-color="#8a06f6"/>
<stop offset="0.4295" stop-color="#940adb"/>
<stop offset="0.4623" stop-color="#9d0eb2"/>
<stop offset="0.4885" stop-color="#a3118c"/>
<stop offset="0.5311" stop-color="#aa165a"/>
<stop offset="0.5803" stop-color="#aa165a"/>
<stop offset="0.6262" stop-color="#9e0fa9"/>
<stop offset="0.6525" stop-color="#9309de"/>
<stop offset="0.6689" stop-color="#8b07f4"/>
<stop offset="0.6885" stop-color="#8104ff"/>
<stop offset="0.7115" stop-color="#7602f8"/>
<stop offset="0.7639" stop-color="#6001c5"/>
<stop offset="0.7902" stop-color="#5600a8"/>
<stop offset="0.8852" stop-color="#39004d"/>
<stop offset="0.9475" stop-color="#21001b"/>
<stop offset="0.9836" stop-color="#0f0005"/>
<stop offset="0.9967" stop-color="#070001"/>
<stop offset="1" stop-color="#000000"/>
</linearGradient>
<linearGradient id="c60" gradientUnits="userSpaceOnUse" x1="0" y1="88" x2="0" y2="393">
<stop offset="0" stop-color="#190010"/>
<stop offset="0.05246" stop-color="#24001f"/>
<stop offset="0.118" stop-color="#350043"/>
<stop offset="0.141" stop-color="#3b0054"/>
<stop offset="0.2393" stop-color="#5d01bd"/>
<stop offset="0.2984" stop-color="#6e02ea"/>
<stop offset="0.3443" stop-color="#7a03fd"/>
<stop offset="0.3836" stop-color="#8405fd"/>
<stop offset="0.4131" stop-color="#8d07ef"/>
<stop offset="0.4426" stop-color="#960ad4"/>
<stop offset="0.4885" stop-color="#a21193"/>
<stop offset="0.5311" stop-color="#a9165e"/>
<stop offset="0.5803" stop-color="#a9165e"/>
<stop offset="0.6197" stop-color="#9f0fa6"/>
<stop offset="0.6328" stop-color="#9a0dbd"/>
<stop offset="0.6525" stop-color="#9109e3"/>
<stop offset="0.6721" stop-color="#8806fa"/>
<stop offset="0.6918" stop-color="#7e04ff"/>
<stop offset="0.7148" stop-color="#7202f3"/>
<stop offset="0.7705" stop-color="#5b01b6"/>
<stop offset="0.8492" stop-color="#420067"/>
<stop offset="0.8951" stop-color="#340041"/>
<stop offset="0.9639" stop-color="#18000e"/>
<stop offset="0.9902" stop-color="#0b0003"/>
<stop offset="1" stop-color="#000000"/>
</linearGradient>
<linearGradient id="c61" gradientUnits="userSpaceOnUse" x1="0" y1="88" x2="0" y2="393">
<stop offset="0" stop-color="#18000f"/>
<stop offset="0.05574" stop-color="#240020"/>
<stop offset="0.1148" stop-color="#330040"/>
<stop offset="0.1443" stop-color="#3c0057"/>
<stop offset="0.2426" stop-color="#5d01be"/>
<stop offset="0.3049" stop-color="#6e02eb"/>
<stop offset="0.3541" stop-color="#7b03fe"/>
<stop offset="0.3934" stop-color="#8605fc"/>
<stop offset="0.4262" stop-color="#8f08ea"/>
<stop offset="0.4525" stop-color="#970bce"/>
<stop offset="0.4885" stop-color="#a11099"/>
<stop offset="0.5311" stop-color="#a81566"/>
<stop offset="0.5803" stop-color="#a81566"/>
<stop offset="0.6197" stop-color="#9d0eaf"/>
<stop offset="0.6361" stop-color="#970bcc"/>
<stop offset="0.6557" stop-color="#8e08ec"/>
<stop offset="0.6754" stop-color="#8405fd"/>
<stop offset="0.6951" stop-color="#7b03fd"/>
<stop offset="0.7148" stop-color="#7102f0"/>
<stop offset="0.7738" stop-color="#5700ac"/>
<stop offset="0.8525" stop-color="#3f0060"/>
<stop offset="0.918" stop-color="#2b002e"/>
<stop offset="0.9738" stop-color="#110008"/>
<stop offset="0.9967" stop-color="#060001"/>
<stop offset="1" stop-color="#000000"/>
</linearGradient>
<linearGradient id="c62" gradientUnits="userSpaceOnUse" x1="0" y1="88" x2="0" y2="393">
<stop offset="0" stop-color="#18000e"/>
<stop offset="0.06557" stop-color="#270024"/>
<stop offset="0.1115" stop-color="#32003d"/>
<stop offset="0.1443" stop-color="#3c0056"/>
<stop offset="0.2393" stop-color="#5c01b9"/>
<stop offset="0.3115" stop-color="#6e02ec"/>
<stop offset="0.3607" stop-color="#7b03fe"/>
<stop offset="0.3967" stop-color="#8505fc"/>
<stop offset="0.4295" stop-color="#8e08ec"/>
<stop offset="0.4557" stop-color="#970bd0"/>
<stop offset="0.4852" stop-color="#9f0fa3"/>
<stop offset="0.5311" stop-color="#a7146e"/>
<stop offset="0.5803" stop-color="#a7146e"/>
<stop offset="0.6164" stop-color="#9d0eb2"/>
<stop offset="0.6525" stop-color="#8e08ec"/>
<stop offset="0.6721" stop-color="#8505fd"/>
<stop offset="0.6918" stop-color="#7b03fe"/>
<stop offset="0.7148" stop-color="#6f02ed"/>
<stop offset="0.7344" stop-color="#6501d5"/>
<stop offset="0.7738" stop-color="#5600a6"/>
<stop offset="0.8361" stop-color="#420069"/>
<stop offset="0.9016" stop-color="#2f0037"/>
<stop offset="0.9672" stop-color="#15000b"/>
<stop offset="0.9934" stop-color="#070001"/>
<stop offset="1" stop-color="#000000"/>
</linearGradient>
<linearGradient id="c63" gradientUnits="userSpaceOnUse" x1="0" y1="88" x2="0" y2="393">
<stop offset="0" stop-color="#140009"/>
<stop offset="0.05246" stop-color="#200019"/>
<stop offset="0.118" stop-color="#31003b"/>
<stop offset="0.1574" stop-color="#3d005a"/>
<stop offset="0.2721" stop-color="#5e01c1"/>
<stop offset="0.3377" stop-color="#6e02ec"/>
<stop offset="0.3869" stop-color="#7b03fe"/>
<stop offset="0.4295" stop-color="#8605fc"/>
<stop offset="0.4623" stop-color="#8f08ea"/>
<stop offset="0.5311" stop-color="#9e0eab"/>
<stop offset="0.5803" stop-color="#9d0eb0"/>
<stop offset="0.6197" stop-color="#9309de"/>
<stop offset="0.6557" stop-color="#8706fa"/>
<stop offset="0.682" stop-color="#7e04ff"/>
<stop offset="0.7049" stop-color="#7302f4"/>
<stop offset="0.7574" stop-color="#5d01bd"/>
<stop offset="0.7836" stop-color="#5400a0"/>
<stop offset="0.8525" stop-color="#400061"/>
<stop offset="0.9475" stop-color="#200018"/>
<stop offset="0.9869" stop-color="#0c0003"/>
<stop offset="0.9967" stop-color="#060001"/>
<stop offset="1" stop-color="#000000"/>
</linearGradient>
<linearGradient id="c64" gradientUnits="userSpaceOnUse" x1="0" y1="88" x2="0" y2="393">
<stop offset="0" stop-color="#0d0004"/>
<stop offset="0.04262" stop-color="#18000e"/>
<stop offset="0.1246" stop-color="#2f0036"/>
<stop offset="0.2" stop-color="#43006b"/>
<stop offset="0.2984" stop-color="#5d01bc"/>
<stop offset="0.3902" stop-color="#7102f1"/>
<stop offset="0.4459" stop-color="#7e04ff"/>
<stop offset="0.4984" stop-color="#8906f7"/>
<stop offset="0.5377" stop-color="#8f08eb"/>
<stop offset="0.5902" stop-color="#8d07ef"/>
<stop offset="0.6623" stop-color="#8004ff"/>
<stop offset="0.6918" stop-color="#7703fa"/>
<stop offset="0.7213" stop-color="#6a01e2"/>
<stop offset="0.7934" stop-color="#52009a"/>
<stop offset="0.8852" stop-color="#370049"/>
<stop offset="0.9639" stop-color="#19000f"/>
<stop offset="0.9967" stop-color="#060001"/>
<stop offset="1" stop-color="#000000"/>
</linearGradient>
<linearGradient id="c65" gradientUnits="userSpaceOnUse" x1="0" y1="88" x2="0" y2="393">
<stop offset="0" stop-color="#000000"/>
<stop offset="0.01639" stop-color="#090002"/>
<stop offset="0.05902" stop-color="#17000d"/>
<stop offset="0.1443" stop-color="#2f0035"/>
<stop offset="0.2033" stop-color="#3d0058"/>
<stop offset="0.2656" stop-color="#4d0089"/>
<stop offset="0.3016" stop-color="#5400a2"/>
<stop offset="0.3705" stop-color="#6101c8"/>
<stop offset="0.4426" stop-color="#6f02ed"/>
<stop offset="0.4984" stop-color="#7803fb"/>
<stop offset="0.6328" stop-color="#8104ff"/>
<stop offset="0.6852" stop-color="#7803fb"/>
<stop offset="0.718" stop-color="#6b01e4"/>
<stop offset="0.7738" stop-color="#5800ac"/>
<stop offset="0.8951" stop-color="#340042"/>
<stop offset="0.9672" stop-color="#17000d"/>
<stop offset="0.9967" stop-color="#060001"/>
<stop offset="1" stop-color="#000000"/>
</linearGradient>
<linearGradient id="c66" gradientUnits="userSpaceOnUse" x1="0" y1="88" x2="0" y2="393">
<stop offset="0" stop-color="#000000"/>
<stop offset="0.01967" stop-color="#090002"/>
<stop offset="0.06885" stop-color="#19000f"/>
<stop offset="0.1803" stop-color="#360046"/>
<stop offset="0.2525" stop-color="#48007a"/>
<stop offset="0.2918" stop-color="#520099"/>
<stop offset="0.3475" stop-color="#5c01b9"/>
<stop offset="0.4262" stop-color="#6c01e7"/>
<stop offset="0.4918" stop-color="#7803fb"/>
<stop offset="0.6426" stop-color="#8004ff"/>
<stop offset="0.6885" stop-color="#7703fa"/>
<stop offset="0.7213" stop-color="#6b01e3"/>
<stop offset="0.8951" stop-color="#350045"/>
<stop offset="0.9639" stop-color="#19000f"/>
<stop offset="0.9967" stop-color="#060001"/>
<stop offset="1" stop-color="#000000"/>
</linearGradient>
<linearGradient id="c67" gradientUnits="userSpaceOnUse" x1="0" y1="88" x2="0" y2="393">
<stop offset="0" stop-color="#000000"/>
<stop offset="0.0459" stop-color="#0f0006"/>
<stop offset="0.08852" stop-color="#1e0016"/>
<stop offset="0.1934" stop-color="#38004b"/>
<stop offset="0.259" stop-color="#49007c"/>
<stop offset="0.2984" stop-color="#52009a"/>
<stop offset="0.3475" stop-color="#5b01b7"/>
<stop offset="0.4164" stop-color="#6b01e3"/>
<stop offset="0.4754" stop-color="#7602f8"/>
<stop offset="0.5672" stop-color="#7e04ff"/>
<stop offset="0.6492" stop-color="#7f04ff"/>
<stop offset="0.6885" stop-color="#7803fa"/>
<stop offset="0.7213" stop-color="#6c01e6"/>
<stop offset="0.9246" stop-color="#2c002f"/>
<stop offset="0.9705" stop-color="#15000b"/>
<stop offset="0.9967" stop-color="#060001"/>
<stop offset="1" stop-color="#000000"/>
</linearGradient>
<linearGradient id="c68" gradientUnits="userSpaceOnUse" x1="0" y1="88" x2="0" y2="393">
<stop offset="0" stop-color="#000000"/>
<stop offset="0.04262" stop-color="#0b0003"/>
<stop offset="0.08525" stop-color="#1b0012"/>
<stop offset="0.1967" stop-color="#37004b"/>
<stop offset="0.2492" stop-color="#450070"/>
<stop offset="0.2951" stop-color="#500095"/>
<stop offset="0.3443" stop-color="#5a00b3"/>
<stop offset="0.4164" stop-color="#6b01e4"/>
<stop offset="0.4754" stop-color="#7603f9"/>
<stop offset="0.5836" stop-color="#7f04ff"/>
<stop offset="0.6525" stop-color="#7f04ff"/>
<stop offset="0.6918" stop-color="#7703fa"/>
<stop offset="0.7311" stop-color="#6901e0"/>
<stop offset="0.8492" stop-color="#470078"/>
<stop offset="0.941" stop-color="#250022"/>
<stop offset="0.977" stop-color="#110007"/>
<stop offset="0.9967" stop-color="#060001"/>
<stop offset="1" stop-color="#000000"/>
</linearGradient>
<linearGradient id="c69" gradientUnits="userSpaceOnUse" x1="0" y1="88" x2="0" y2="393">
<stop offset="0" stop-color="#000000"/>
<stop offset="0.03279" stop-color="#000000"/>
<stop offset="0.0459" stop-color="#0a0003"/>
<stop offset="0.07869" stop-color="#17000d"/>
<stop offset="0.1639" stop-color="#300037"/>
<stop offset="0.2393" stop-color="#410066"/>
<stop offset="0.2951" stop-color="#500095"/>
<stop offset="0.341" stop-color="#5900b2"/>
<stop offset="0.4066" stop-color="#6a01e0"/>
<stop offset="0.4492" stop-color="#7302f3"/>
<stop offset="0.4984" stop-color="#7a03fd"/>
<stop offset="0.6426" stop-color="#8104ff"/>
<stop offset="0.6918" stop-color="#7803fb"/>
<stop offset="0.7377" stop-color="#6901df"/>
<stop offset="0.8361" stop-color="#4d008b"/>
<stop offset="0.9213" stop-color="#2f0037"/>
<stop offset="0.9639" stop-color="#1a0010"/>
<stop offset="0.9902" stop-color="#0b0003"/>
<stop offset="1" stop-color="#000000"/>
</linearGradient>
<linearGradient id="c70" gradientUnits="userSpaceOnUse" x1="0" y1="88" x2="0" y2="393">
<stop offset="0" stop-color="#000000"/>
<stop offset="0.03279" stop-color="#000000"/>
<stop offset="0.0459" stop-color="#0a0002"/>
<stop offset="0.07213" stop-color="#14000a"/>
<stop offset="0.1311" stop-color="#290029"/>
<stop offset="0.2098" stop-color="#3d0059"/>
<stop offset="0.2525" stop-color="#48007a"/>
<stop offset="0.2984" stop-color="#5400a1"/>
<stop offset="0.3967" stop-color="#6a01e3"/>
<stop offset="0.4557" stop-color="#7703fa"/>
<stop offset="0.5148" stop-color="#8104ff"/>
<stop offset="0.6328" stop-color="#8505fd"/>
<stop offset="0.6918" stop-color="#7a03fd"/>
<stop offset="0.7311" stop-color="#6e02ea"/>
<stop offset="0.7738" stop-color="#6101c9"/>
<stop offset="0.8492" stop-color="#4c0086"/>
<stop offset="0.9377" stop-color="#2a002b"/>
<stop offset="0.977" stop-color="#120008"/>
<stop offset="0.9967" stop-color="#070001"/>
<stop offset="1" stop-color="#000000"/>
</linearGradient>
<linearGradient id="c71" gradientUnits="userSpaceOnUse" x1="0" y1="88" x2="0" y2="393">
<stop offset="0" stop-color="#000000"/>
<stop offset="0.03279" stop-color="#000000"/>
<stop offset="0.04262" stop-color="#080002"/>
<stop offset="0.07213" stop-color="#14000a"/>
<stop offset="0.1246" stop-color="#280028"/>
<stop offset="0.2066" stop-color="#3e005d"/>
<stop offset="0.259" stop-color="#4d0089"/>
<stop offset="0.3049" stop-color="#5900af"/>
<stop offset="0.3902" stop-color="#6c01e7"/>
<stop offset="0.4525" stop-color="#7a03fd"/>
<stop offset="0.5082" stop-color="#8505fd"/>
<stop offset="0.5902" stop-color="#8a06f6"/>
<stop offset="0.6623" stop-color="#8305fe"/>
<stop offset="0.7016" stop-color="#7903fc"/>
<stop offset="0.7475" stop-color="#6c01e6"/>
<stop offset="0.8262" stop-color="#5500a4"/>
<stop offset="0.9279" stop-color="#31003b"/>
<stop offset="0.9738" stop-color="#15000b"/>
<stop offset="0.9967" stop-color="#070001"/>
<stop offset="1" stop-color="#000000"/>
</linearGradient>
<linearGradient id="c72" gradientUnits="userSpaceOnUse" x1="0" y1="88" x2="0" y2="393">
<stop offset="0" stop-color="#000000"/>
<stop offset="0.03279" stop-color="#000000"/>
<stop offset="0.05246" stop-color="#0b0003"/>
<stop offset="0.07213" stop-color="#130009"/>
<stop offset="0.118" stop-color="#280027"/>
<stop offset="0.1967" stop-color="#3e005c"/>
<stop offset="0.259" stop-color="#4f0091"/>
<stop offset="0.318" stop-color="#5f01c2"/>
<stop offset="0.3869" stop-color="#6f02ec"/>
<stop offset="0.4459" stop-color="#7b03fe"/>
<stop offset="0.4918" stop-color="#8605fc"/>
<stop offset="0.5475" stop-color="#8e08ed"/>
<stop offset="0.5902" stop-color="#8e08ec"/>
<stop offset="0.6623" stop-color="#8505fc"/>
<stop offset="0.7016" stop-color="#7c03fe"/>
<stop offset="0.7443" stop-color="#7002ee"/>
<stop offset="0.8098" stop-color="#5c01bb"/>
<stop offset="0.8951" stop-color="#410065"/>
<stop offset="0.9607" stop-color="#21001a"/>
<stop offset="0.9803" stop-color="#110008"/>
<stop offset="0.9967" stop-color="#070001"/>
<stop offset="1" stop-color="#000000"/>
</linearGradient>
<linearGradient id="c73" gradientUnits="userSpaceOnUse" x1="0" y1="88" x2="0" y2="393">
<stop offset="0" stop-color="#000000"/>
<stop offset="0.03279" stop-color="#000000"/>
<stop offset="0.05246" stop-color="#0b0003"/>
<stop offset="0.07213" stop-color="#130009"/>
<stop offset="0.1148" stop-color="#280026"/>
<stop offset="0.2" stop-color="#410064"/>
<stop offset="0.2525" stop-color="#4f0091"/>
<stop offset="0.3115" stop-color="#5f01c5"/>
<stop offset="0.3738" stop-color="#6e02eb"/>
<stop offset="0.4328" stop-color="#7a03fd"/>
<stop offset="0.4754" stop-color="#8505fd"/>
<stop offset="0.5279" stop-color="#8f08e9"/>
<stop offset="0.5836" stop-color="#9109e4"/>
<stop offset="0.6623" stop-color="#8605fc"/>
<stop offset="0.7082" stop-color="#7b03fe"/>
<stop offset="0.7508" stop-color="#6f02ed"/>
<stop offset="0.8098" stop-color="#5e01c0"/>
<stop offset="0.8918" stop-color="#43006d"/>
<stop offset="0.9541" stop-color="#260023"/>
<stop offset="0.9803" stop-color="#120008"/>
<stop offset="0.9967" stop-color="#070001"/>
<stop offset="1" stop-color="#000000"/>
</linearGradient>
<linearGradient id="c74" gradientUnits="userSpaceOnUse" x1="0" y1="88" x2="0" y2="393">
<stop offset="0" stop-color="#000000"/>
<stop offset="0.03279" stop-color="#000000"/>
<stop offset="0.05246" stop-color="#0b0003"/>
<stop offset="0.06885" stop-color="#110007"/>
<stop offset="0.1082" stop-color="#260024"/>
<stop offset="0.2" stop-color="#420068"/>
<stop offset="0.2525" stop-color="#510096"/>
<stop offset="0.3148" stop-color="#6201cb"/>
<stop offset="0.3738" stop-color="#6f02ec"/>
<stop offset="0.4393" stop-color="#7c03fe"/>
<stop offset="0.4852" stop-color="#8706fb"/>
<stop offset="0.5377" stop-color="#8f08eb"/>
<stop offset="0.5869" stop-color="#8f08eb"/>
<stop offset="0.6787" stop-color="#8104ff"/>
<stop offset="0.7246" stop-color="#7602f8"/>
<stop offset="0.7672" stop-color="#6a01e1"/>
<stop offset="0.8262" stop-color="#5800ae"/>
<stop offset="0.8951" stop-color="#420068"/>
<stop offset="0.9574" stop-color="#24001f"/>
<stop offset="0.9803" stop-color="#120008"/>
<stop offset="0.9967" stop-color="#070001"/>
<stop offset="1" stop-color="#000000"/>
</linearGradient>
<linearGradient id="c75" gradientUnits="userSpaceOnUse" x1="0" y1="88" x2="0" y2="393">
<stop offset="0" stop-color="#000000"/>
<stop offset="0.03279" stop-color="#000000"/>
<stop offset="0.05246" stop-color="#0b0003"/>
<stop offset="0.06885" stop-color="#110007"/>
<stop offset="0.1082" stop-color="#270025"/>
<stop offset="0.2131" stop-color="#470077"/>
<stop offset="0.2656" stop-color="#5600a6"/>
<stop offset="0.3148" stop-color="#6301ce"/>
<stop offset="0.3672" stop-color="#6e02eb"/>
<stop offset="0.4328" stop-color="#7a03fd"/>
<stop offset="0.4787" stop-color="#8505fd"/>
<stop offset="0.541" stop-color="#8d07ef"/>
<stop offset="0.5967" stop-color="#8c07f2"/>
<stop offset="0.6754" stop-color="#8004ff"/>
<stop offset="0.7213" stop-color="#7602f8"/>
<stop offset="0.7607" stop-color="#6b01e4"/>
<stop offset="0.8262" stop-color="#5800ad"/>
<stop offset="0.8951" stop-color="#420067"/>
<stop offset="0.9607" stop-color="#22001c"/>
<stop offset="0.9803" stop-color="#120008"/>
<stop offset="0.9967" stop-color="#070001"/>
<stop offset="1" stop-color="#000000"/>
</linearGradient>
<linearGradient id="c76" gradientUnits="userSpaceOnUse" x1="0" y1="88" x2="0" y2="393">
<stop offset="0" stop-color="#000000"/>
<stop offset="0.03279" stop-color="#000000"/>
<stop offset="0.0459" stop-color="#0b0003"/>
<stop offset="0.06885" stop-color="#14000a"/>
<stop offset="0.1115" stop-color="#2b002c"/>
<stop offset="0.2164" stop-color="#4b0085"/>
<stop offset="0.2984" stop-color="#6101c8"/>
<stop offset="0.3508" stop-color="#6c01e6"/>
<stop offset="0.4131" stop-color="#7603f9"/>
<stop offset="0.4721" stop-color="#8104ff"/>
<stop offset="0.5443" stop-color="#8906f8"/>
<stop offset="0.6361" stop-color="#8204ff"/>
<stop offset="0.6984" stop-color="#7703fa"/>
<stop offset="0.7508" stop-color="#6b01e4"/>
<stop offset="0.8098" stop-color="#5c01b9"/>
<stop offset="0.8885" stop-color="#44006d"/>
<stop offset="0.9541" stop-color="#250022"/>
<stop offset="0.9803" stop-color="#110007"/>
<stop offset="0.9967" stop-color="#070001"/>
<stop offset="1" stop-color="#000000"/>
</linearGradient>
<linearGradient id="c77" gradientUnits="userSpaceOnUse" x1="0" y1="88" x2="0" y2="393">
<stop offset="0" stop-color="#000000"/>
<stop offset="0.03279" stop-color="#000000"/>
<stop offset="0.04262" stop-color="#0b0003"/>
<stop offset="0.06885" stop-color="#16000c"/>
<stop offset="0.1115" stop-color="#2d0031"/>
<stop offset="0.1639" stop-color="#3e005e"/>
<stop offset="0.2492" stop-color="#5700ab"/>
<stop offset="0.3344" stop-color="#6a01e1"/>
<stop offset="0.4066" stop-color="#7502f7"/>
<stop offset="0.4852" stop-color="#8104ff"/>
<stop offset="0.5607" stop-color="#8405fe"/>
<stop offset="0.6525" stop-color="#7a03fd"/>
<stop offset="0.7148" stop-color="#6f02ee"/>
<stop offset="0.7803" stop-color="#6201cc"/>
<stop offset="0.8492" stop-color="#500093"/>
<stop offset="0.9344" stop-color="#300038"/>
<stop offset="0.9738" stop-color="#15000b"/>
<stop offset="0.9902" stop-color="#0b0003"/>
<stop offset="1" stop-color="#000000"/>
</linearGradient>
<linearGradient id="c78" gradientUnits="userSpaceOnUse" x1="0" y1="88" x2="0" y2="393">
<stop offset="0" stop-color="#000000"/>
<stop offset="0.03279" stop-color="#000000"/>
<stop offset="0.0459" stop-color="#0a0003"/>
<stop offset="0.07213" stop-color="#15000b"/>
<stop offset="0.118" stop-color="#290029"/>
<stop offset="0.2" stop-color="#410066"/>
<stop offset="0.2787" stop-color="#5500a3"/>
<stop offset="0.3443" stop-color="#6301ce"/>
<stop offset="0.4098" stop-color="#6d02e9"/>
<stop offset="0.4918" stop-color="#7903fc"/>
<stop offset="0.5869" stop-color="#7b03fd"/>
<stop offset="0.6656" stop-color="#7302f4"/>
<stop offset="0.7377" stop-color="#6801de"/>
<stop offset="0.7967" stop-color="#5d01bc"/>
<stop offset="0.859" stop-color="#4c0088"/>
<stop offset="0.9377" stop-color="#2e0033"/>
<stop offset="0.9738" stop-color="#15000b"/>
<stop offset="0.9902" stop-color="#0b0003"/>
<stop offset="1" stop-color="#000000"/>
</linearGradient>
<linearGradient id="c79" gradientUnits="userSpaceOnUse" x1="0" y1="88" x2="0" y2="393">
<stop offset="0" stop-color="#000000"/>
<stop offset="0.03279" stop-color="#000000"/>
<stop offset="0.05246" stop-color="#0b0003"/>
<stop offset="0.08525" stop-color="#18000e"/>
<stop offset="0.1607" stop-color="#2e0034"/>
<stop offset="0.2164" stop-color="#3d0059"/>
<stop offset="0.3541" stop-color="#5b01b8"/>
<stop offset="0.4131" stop-color="#6501d6"/>
<stop offset="0.4984" stop-color="#7102f0"/>
<stop offset="0.5639" stop-color="#7302f5"/>
<stop offset="0.6525" stop-color="#6f02ed"/>
<stop offset="0.7377" stop-color="#6601d7"/>
<stop offset="0.7967" stop-color="#5b01b7"/>
<stop offset="0.8557" stop-color="#4c0088"/>
<stop offset="0.9115" stop-color="#39004f"/>
<stop offset="0.9639" stop-color="#1e0016"/>
<stop offset="0.9803" stop-color="#0f0006"/>
<stop offset="0.9967" stop-color="#060001"/>
<stop offset="1" stop-color="#000000"/>
</linearGradient>
<linearGradient id="c80" gradientUnits="userSpaceOnUse" x1="0" y1="88" x2="0" y2="393">
<stop offset="0" stop-color="#000000"/>
<stop offset="0.03279" stop-color="#000000"/>
<stop offset="0.05246" stop-color="#0b0003"/>
<stop offset="0.1016" stop-color="#1c0013"/>
<stop offset="0.1934" stop-color="#340042"/>
<stop offset="0.3639" stop-color="#5900b2"/>
<stop offset="0.4361" stop-color="#6401d3"/>
<stop offset="0.518" stop-color="#6e02ea"/>
<stop offset="0.6066" stop-color="#6e02ea"/>
<stop offset="0.6984" stop-color="#6601d8"/>
<stop offset="0.7607" stop-color="#5e01c0"/>
<stop offset="0.823" stop-color="#520099"/>
<stop offset="0.8918" stop-color="#3e005d"/>
<stop offset="0.9574" stop-color="#21001b"/>
<stop offset="0.9803" stop-color="#0f0006"/>
<stop offset="0.9967" stop-color="#060001"/>
<stop offset="1" stop-color="#000000"/>
</linearGradient>
<linearGradient id="c81" gradientUnits="userSpaceOnUse" x1="0" y1="88" x2="0" y2="393">
<stop offset="0" stop-color="#000000"/>
<stop offset="0.03279" stop-color="#000000"/>
<stop offset="0.05246" stop-color="#0b0003"/>
<stop offset="0.1148" stop-color="#1e0016"/>
<stop offset="0.2066" stop-color="#350044"/>
<stop offset="0.3803" stop-color="#5800af"/>
<stop offset="0.4852" stop-color="#6601d7"/>
<stop offset="0.541" stop-color="#6a01e1"/>
<stop offset="0.623" stop-color="#6801dd"/>
<stop offset="0.7246" stop-color="#5f01c3"/>
<stop offset="0.7934" stop-color="#5400a1"/>
<stop offset="0.859" stop-color="#450071"/>
<stop offset="0.9443" stop-color="#270025"/>
<stop offset="0.9803" stop-color="#0f0006"/>
<stop offset="0.9967" stop-color="#060001"/>
<stop offset="1" stop-color="#000000"/>
</linearGradient>
<linearGradient id="c82" gradientUnits="userSpaceOnUse" x1="0" y1="88" x2="0" y2="393">
<stop offset="0" stop-color="#000000"/>
<stop offset="0.03279" stop-color="#000000"/>
<stop offset="0.05246" stop-color="#0b0003"/>
<stop offset="0.1377" stop-color="#23001d"/>
<stop offset="0.2131" stop-color="#340043"/>
<stop offset="0.3836" stop-color="#5500a4"/>
<stop offset="0.4918" stop-color="#6201cd"/>
<stop offset="0.5443" stop-color="#6601d6"/>
<stop offset="0.6262" stop-color="#6401d1"/>
<stop offset="0.7311" stop-color="#5a00b4"/>
<stop offset="0.7967" stop-color="#500094"/>
<stop offset="0.8754" stop-color="#3e005c"/>
<stop offset="0.9541" stop-color="#200019"/>
<stop offset="0.9803" stop-color="#0e0005"/>
<stop offset="0.9967" stop-color="#060001"/>
<stop offset="1" stop-color="#000000"/>
</linearGradient>
<linearGradient id="c83" gradientUnits="userSpaceOnUse" x1="0" y1="88" x2="0" y2="393">
<stop offset="0" stop-color="#000000"/>
<stop offset="0.03279" stop-color="#000000"/>
<stop offset="0.04918" stop-color="#090002"/>
<stop offset="0.1246" stop-color="#1e0016"/>
<stop offset="0.2066" stop-color="#300039"/>
<stop offset="0.377" stop-color="#500094"/>
<stop offset="0.4885" stop-color="#5d01bf"/>
<stop offset="0.541" stop-color="#6101c8"/>
<stop offset="0.623" stop-color="#5f01c4"/>
<stop offset="0.7311" stop-color="#5600a7"/>
<stop offset="0.8" stop-color="#4c0086"/>
<stop offset="0.882" stop-color="#39004f"/>
<stop offset="0.9508" stop-color="#200019"/>
<stop offset="0.9803" stop-color="#0d0004"/>
<stop offset="0.9967" stop-color="#050001"/>
<stop offset="1" stop-color="#000000"/>
</linearGradient>
<linearGradient id="c84" gradientUnits="userSpaceOnUse" x1="0" y1="88" x2="0" y2="393">
<stop offset="0" stop-color="#000000"/>
<stop offset="0.03279" stop-color="#000000"/>
<stop offset="0.05902" stop-color="#0a0002"/>
<stop offset="0.1639" stop-color="#250021"/>
<stop offset="0.3016" stop-color="#3f0060"/>
<stop offset="0.4131" stop-color="#4f0092"/>
<stop offset="0.5016" stop-color="#5900b0"/>
<stop offset="0.5508" stop-color="#5b01b6"/>
<stop offset="0.6328" stop-color="#5900b0"/>
<stop offset="0.7443" stop-color="#4f0091"/>
<stop offset="0.8295" stop-color="#420067"/>
<stop offset="0.9377" stop-color="#24001f"/>
<stop offset="0.9836" stop-color="#0c0003"/>
<stop offset="0.9967" stop-color="#050001"/>
<stop offset="1" stop-color="#000000"/>
</linearGradient>
<linearGradient id="c85" gradientUnits="userSpaceOnUse" x1="0" y1="88" x2="0" y2="393">
<stop offset="0" stop-color="#000000"/>
<stop offset="0.03934" stop-color="#030000"/>
<stop offset="0.07541" stop-color="#0d0004"/>
<stop offset="0.1344" stop-color="#1e0016"/>
<stop offset="0.2197" stop-color="#2f0035"/>
<stop offset="0.4066" stop-color="#49007e"/>
<stop offset="0.5049" stop-color="#52009b"/>
<stop offset="0.5672" stop-color="#5400a1"/>
<stop offset="0.6525" stop-color="#52009a"/>
<stop offset="0.7443" stop-color="#4c0086"/>
<stop offset="0.8197" stop-color="#420069"/>
<stop offset="0.9279" stop-color="#290029"/>
<stop offset="0.9836" stop-color="#0e0005"/>
<stop offset="0.9967" stop-color="#060001"/>
<stop offset="1" stop-color="#000000"/>
</linearGradient>
<linearGradient id="c86" gradientUnits="userSpaceOnUse" x1="0" y1="88" x2="0" y2="393">
<stop offset="0" stop-color="#000000"/>
<stop offset="0.06557" stop-color="#030000"/>
<stop offset="0.08525" stop-color="#110007"/>
<stop offset="0.1869" stop-color="#280027"/>
<stop offset="0.3115" stop-color="#3a0053"/>
<stop offset="0.4852" stop-color="#49007f"/>
<stop offset="0.5836" stop-color="#4d008a"/>
<stop offset="0.7082" stop-color="#4c0086"/>
<stop offset="0.7934" stop-color="#460074"/>
<stop offset="0.8656" stop-color="#3b0055"/>
<stop offset="0.9508" stop-color="#24001f"/>
<stop offset="0.9869" stop-color="#100006"/>
<stop offset="0.9967" stop-color="#080002"/>
<stop offset="1" stop-color="#000000"/>
</linearGradient>
<linearGradient id="c87" gradientUnits="userSpaceOnUse" x1="0" y1="88" x2="0" y2="393">
<stop offset="0" stop-color="#000000"/>
<stop offset="0.06557" stop-color="#000000"/>
<stop offset="0.07213" stop-color="#0a0002"/>
<stop offset="0.1213" stop-color="#1c0013"/>
<stop offset="0.2984" stop-color="#3a0051"/>
<stop offset="0.4787" stop-color="#4a0081"/>
<stop offset="0.5902" stop-color="#4e008e"/>
<stop offset="0.7311" stop-color="#4c0089"/>
<stop offset="0.8033" stop-color="#460075"/>
<stop offset="0.8787" stop-color="#3a0050"/>
<stop offset="0.9508" stop-color="#240020"/>
<stop offset="0.9803" stop-color="#14000a"/>
<stop offset="1" stop-color="#070001"/>
</linearGradient>
<linearGradient id="c88" gradientUnits="userSpaceOnUse" x1="0" y1="88" x2="0" y2="393">
<stop offset="0" stop-color="#000000"/>
<stop offset="0.06557" stop-color="#000000"/>
<stop offset="0.07213" stop-color="#0a0002"/>
<stop offset="0.1246" stop-color="#1d0014"/>
<stop offset="0.3148" stop-color="#3c0057"/>
<stop offset="0.4787" stop-color="#4c0086"/>
<stop offset="0.5934" stop-color="#500093"/>
<stop offset="0.7279" stop-color="#4e008e"/>
<stop offset="0.8" stop-color="#480079"/>
<stop offset="0.8623" stop-color="#3d005a"/>
<stop offset="0.9377" stop-color="#29002a"/>
<stop offset="0.9803" stop-color="#14000a"/>
<stop offset="1" stop-color="#0a0003"/>
</linearGradient>
<linearGradient id="c89" gradientUnits="userSpaceOnUse" x1="0" y1="88" x2="0" y2="393">
<stop offset="0" stop-color="#000000"/>
<stop offset="0.06557" stop-color="#000000"/>
<stop offset="0.07213" stop-color="#0a0002"/>
<stop offset="0.118" stop-color="#1b0011"/>
<stop offset="0.3115" stop-color="#3b0053"/>
<stop offset="0.4754" stop-color="#4b0084"/>
<stop offset="0.5803" stop-color="#4f0091"/>
<stop offset="0.7311" stop-color="#4e008c"/>
<stop offset="0.8033" stop-color="#470077"/>
<stop offset="0.8852" stop-color="#38004c"/>
<stop offset="0.9607" stop-color="#1f0017"/>
<stop offset="0.9836" stop-color="#130009"/>
<stop offset="1" stop-color="#0d0004"/>
</linearGradient>
<linearGradient id="c90" gradientUnits="userSpaceOnUse" x1="0" y1="88" x2="0" y2="393">
<stop offset="0" stop-color="#000000"/>
<stop offset="0.06557" stop-color="#000000"/>
<stop offset="0.07213" stop-color="#0a0002"/>
<stop offset="0.1246" stop-color="#1c0013"/>
<stop offset="0.3475" stop-color="#3e005c"/>
<stop offset="0.4852" stop-color="#4b0084"/>
<stop offset="0.5869" stop-color="#4e008f"/>
<stop offset="0.7344" stop-color="#4d008a"/>
<stop offset="0.8" stop-color="#470077"/>
<stop offset="0.8623" stop-color="#3c0058"/>
<stop offset="0.941" stop-color="#270025"/>
<stop offset="0.9836" stop-color="#140009"/>
<stop offset="1" stop-color="#0d0004"/>
</linearGradient>
<linearGradient id="c91" gradientUnits="userSpaceOnUse" x1="0" y1="88" x2="0" y2="393">
<stop offset="0" stop-color="#000000"/>
<stop offset="0.06557" stop-color="#000000"/>
<stop offset="0.07213" stop-color="#090002"/>
<stop offset="0.118" stop-color="#1a0010"/>
<stop offset="0.3049" stop-color="#38004c"/>
<stop offset="0.4689" stop-color="#49007e"/>
<stop offset="0.5639" stop-color="#4d008b"/>
<stop offset="0.718" stop-color="#4d008b"/>
<stop offset="0.7902" stop-color="#48007a"/>
<stop offset="0.8492" stop-color="#3f005f"/>
<stop offset="0.9311" stop-color="#2a002c"/>
<stop offset="0.9836" stop-color="#130009"/>
<stop offset="1" stop-color="#0c0004"/>
</linearGradient>
<linearGradient id="c92" gradientUnits="userSpaceOnUse" x1="0" y1="88" x2="0" y2="393">
<stop offset="0" stop-color="#000000"/>
<stop offset="0.06557" stop-color="#000000"/>
<stop offset="0.07541" stop-color="#0b0003"/>
<stop offset="0.1344" stop-color="#1d0014"/>
<stop offset="0.3344" stop-color="#3b0054"/>
<stop offset="0.4852" stop-color="#49007f"/>
<stop offset="0.5869" stop-color="#4d008a"/>
<stop offset="0.7311" stop-color="#4c0088"/>
<stop offset="0.7967" stop-color="#470077"/>
<stop offset="0.8557" stop-color="#3d005b"/>
<stop offset="0.9344" stop-color="#290029"/>
<stop offset="0.9836" stop-color="#130009"/>
<stop offset="1" stop-color="#0b0003"/>
</linearGradient>
<linearGradient id="c93" gradientUnits="userSpaceOnUse" x1="0" y1="88" x2="0" y2="393">
<stop offset="0" stop-color="#000000"/>
<stop offset="0.06557" stop-color="#000000"/>
<stop offset="0.07541" stop-color="#0b0003"/>
<stop offset="0.1508" stop-color="#200018"/>
<stop offset="0.3508" stop-color="#3c0057"/>
<stop offset="0.4885" stop-color="#49007d"/>
<stop offset="0.5902" stop-color="#4c0088"/>
<stop offset="0.7344" stop-color="#4c0086"/>
<stop offset="0.8" stop-color="#460075"/>
<stop offset="0.8525" stop-color="#3e005c"/>
<stop offset="0.9311" stop-color="#2a002b"/>
<stop offset="0.9836" stop-color="#130009"/>
<stop offset="1" stop-color="#0a0002"/>
</linearGradient>
<linearGradient id="c94" gradientUnits="userSpaceOnUse" x1="0" y1="88" x2="0" y2="393">
<stop offset="0" stop-color="#000000"/>
<stop offset="0.06557" stop-color="#000000"/>
<stop offset="0.07541" stop-color="#0b0003"/>
<stop offset="0.1377" stop-color="#1e0016"/>
<stop offset="0.3377" stop-color="#3b0054"/>
<stop offset="0.482" stop-color="#49007e"/>
<stop offset="0.5836" stop-color="#4d008a"/>
<stop offset="0.7311" stop-color="#4d008a"/>
<stop offset="0.7934" stop-color="#48007b"/>
<stop offset="0.8492" stop-color="#400061"/>
<stop offset="0.9311" stop-color="#2a002c"/>
<stop offset="0.9803" stop-color="#15000a"/>
<stop offset="1" stop-color="#0a0003"/>
</linearGradient>
<linearGradient id="c95" gradientUnits="userSpaceOnUse" x1="0" y1="88" x2="0" y2="393">
<stop offset="0" stop-color="#000000"/>
<stop offset="0.06557" stop-color="#000000"/>
<stop offset="0.07213" stop-color="#090002"/>
<stop offset="0.1148" stop-color="#1a0010"/>
<stop offset="0.2852" stop-color="#360047"/>
<stop offset="0.4787" stop-color="#4a0082"/>
<stop offset="0.5869" stop-color="#4f0090"/>
<stop offset="0.7311" stop-color="#4f0090"/>
<stop offset="0.7934" stop-color="#4a0081"/>
<stop offset="0.8426" stop-color="#43006a"/>
<stop offset="0.9213" stop-color="#2f0036"/>
<stop offset="0.9803" stop-color="#15000b"/>
<stop offset="1" stop-color="#0b0003"/>
</linearGradient>
<linearGradient id="c96" gradientUnits="userSpaceOnUse" x1="0" y1="88" x2="0" y2="393">
<stop offset="0" stop-color="#000000"/>
<stop offset="0.06557" stop-color="#000000"/>
<stop offset="0.07213" stop-color="#0a0002"/>
<stop offset="0.1148" stop-color="#1b0011"/>
<stop offset="0.2918" stop-color="#38004c"/>
<stop offset="0.4852" stop-color="#4c0088"/>
<stop offset="0.5967" stop-color="#510096"/>
<stop offset="0.7279" stop-color="#510096"/>
<stop offset="0.7902" stop-color="#4c0088"/>
<stop offset="0.8426" stop-color="#440070"/>
<stop offset="0.9279" stop-color="#2e0033"/>
<stop offset="0.9803" stop-color="#16000c"/>
<stop offset="1" stop-color="#0c0004"/>
</linearGradient>
<linearGradient id="c97" gradientUnits="userSpaceOnUse" x1="0" y1="88" x2="0" y2="393">
<stop offset="0" stop-color="#000000"/>
<stop offset="0.06557" stop-color="#000000"/>
<stop offset="0.07213" stop-color="#0a0003"/>
<stop offset="0.1115" stop-color="#1b0011"/>
<stop offset="0.2885" stop-color="#39004e"/>
<stop offset="0.482" stop-color="#4d008c"/>
<stop offset="0.5934" stop-color="#52009b"/>
<stop offset="0.7311" stop-color="#52009b"/>
<stop offset="0.7967" stop-color="#4d008b"/>
<stop offset="0.8393" stop-color="#470077"/>
<stop offset="0.9115" stop-color="#340043"/>
<stop offset="0.9738" stop-color="#190010"/>
<stop offset="1" stop-color="#0d0004"/>
</linearGradient>
<linearGradient id="c98" gradientUnits="userSpaceOnUse" x1="0" y1="88" x2="0" y2="393">
<stop offset="0" stop-color="#000000"/>
<stop offset="0.06557" stop-color="#000000"/>
<stop offset="0.07213" stop-color="#0a0003"/>
<stop offset="0.1049" stop-color="#190010"/>
<stop offset="0.2557" stop-color="#350044"/>
<stop offset="0.4721" stop-color="#4d008b"/>
<stop offset="0.5705" stop-color="#52009b"/>
<stop offset="0.6885" stop-color="#5400a0"/>
<stop offset="0.7508" stop-color="#52009a"/>
<stop offset="0.8" stop-color="#4e008d"/>
<stop offset="0.8459" stop-color="#470076"/>
<stop offset="0.9115" stop-color="#350045"/>
<stop offset="0.977" stop-color="#18000e"/>
<stop offset="1" stop-color="#0e0005"/>
</linearGradient>
<linearGradient id="c99" gradientUnits="userSpaceOnUse" x1="0" y1="88" x2="0" y2="393">
<stop offset="0" stop-color="#000000"/>
<stop offset="0.06557" stop-color="#000000"/>
<stop offset="0.07213" stop-color="#0a0002"/>
<stop offset="0.1148" stop-color="#1b0012"/>
<stop offset="0.2852" stop-color="#38004c"/>
<stop offset="0.4852" stop-color="#4d008b"/>
<stop offset="0.5967" stop-color="#52009a"/>
<stop offset="0.7082" stop-color="#53009d"/>
<stop offset="0.7836" stop-color="#4f0091"/>
<stop offset="0.8361" stop-color="#48007c"/>
<stop offset="0.8984" stop-color="#390050"/>
<stop offset="0.9672" stop-color="#1e0016"/>
<stop offset="1" stop-color="#0e0005"/>
</linearGradient>
<linearGradient id="c100" gradientUnits="userSpaceOnUse" x1="0" y1="88" x2="0" y2="393">
<stop offset="0" stop-color="#000000"/>
<stop offset="0.06557" stop-color="#010000"/>
<stop offset="0.07541" stop-color="#0c0003"/>
<stop offset="0.1279" stop-color="#1e0016"/>
<stop offset="0.2328" stop-color="#300038"/>
<stop offset="0.4492" stop-color="#49007e"/>
<stop offset="0.5541" stop-color="#500093"/>
<stop offset="0.6852" stop-color="#52009b"/>
<stop offset="0.7541" stop-color="#510096"/>
<stop offset="0.8131" stop-color="#4c0086"/>
<stop offset="0.8656" stop-color="#420068"/>
<stop offset="0.9344" stop-color="#2d0031"/>
<stop offset="0.9803" stop-color="#18000e"/>
<stop offset="1" stop-color="#0e0005"/>
</linearGradient>
<linearGradient id="c101" gradientUnits="userSpaceOnUse" x1="0" y1="88" x2="0" y2="393">
<stop offset="0" stop-color="#000000"/>
<stop offset="0.05902" stop-color="#040000"/>
<stop offset="0.07213" stop-color="#0b0003"/>
<stop offset="0.1344" stop-color="#200019"/>
<stop offset="0.2131" stop-color="#2d0031"/>
<stop offset="0.4393" stop-color="#48007c"/>
<stop offset="0.541" stop-color="#500093"/>
<stop offset="0.6918" stop-color="#53009d"/>
<stop offset="0.777" stop-color="#500094"/>
<stop offset="0.8361" stop-color="#49007d"/>
<stop offset="0.8951" stop-color="#3b0053"/>
<stop offset="0.9672" stop-color="#1f0017"/>
<stop offset="1" stop-color="#0e0005"/>
</linearGradient>
<linearGradient id="c102" gradientUnits="userSpaceOnUse" x1="0" y1="88" x2="0" y2="393">
<stop offset="0" stop-color="#000000"/>
<stop offset="0.03934" stop-color="#030000"/>
<stop offset="0.06885" stop-color="#0a0002"/>
<stop offset="0.1213" stop-color="#1d0015"/>
<stop offset="0.2361" stop-color="#31003a"/>
<stop offset="0.4721" stop-color="#4c0086"/>
<stop offset="0.5705" stop-color="#510098"/>
<stop offset="0.7148" stop-color="#53009e"/>
<stop offset="0.7869" stop-color="#500093"/>
<stop offset="0.8361" stop-color="#49007e"/>
<stop offset="0.8951" stop-color="#3b0054"/>
<stop offset="0.9672" stop-color="#1f0017"/>
<stop offset="1" stop-color="#0e0005"/>
</linearGradient>
<linearGradient id="c103" gradientUnits="userSpaceOnUse" x1="0" y1="88" x2="0" y2="393">
<stop offset="0" stop-color="#000000"/>
<stop offset="0.03279" stop-color="#000000"/>
<stop offset="0.0623" stop-color="#080002"/>
<stop offset="0.118" stop-color="#1d0014"/>
<stop offset="0.3213" stop-color="#3c0057"/>
<stop offset="0.5016" stop-color="#4e008e"/>
<stop offset="0.6164" stop-color="#53009d"/>
<stop offset="0.7311" stop-color="#53009f"/>
<stop offset="0.7902" stop-color="#500093"/>
<stop offset="0.8361" stop-color="#4a0080"/>
<stop offset="0.8951" stop-color="#3b0055"/>
<stop offset="0.9672" stop-color="#1f0017"/>
<stop offset="1" stop-color="#0e0005"/>
</linearGradient>
<linearGradient id="c104" gradientUnits="userSpaceOnUse" x1="0" y1="88" x2="0" y2="393">
<stop offset="0" stop-color="#000000"/>
<stop offset="0.03279" stop-color="#000000"/>
<stop offset="0.07213" stop-color="#0e0005"/>
<stop offset="0.1443" stop-color="#23001d"/>
<stop offset="0.3967" stop-color="#450071"/>
<stop offset="0.5148" stop-color="#4f0092"/>
<stop offset="0.6262" stop-color="#53009f"/>
<stop offset="0.7279" stop-color="#5400a1"/>
<stop offset="0.7902" stop-color="#500095"/>
<stop offset="0.8328" stop-color="#4b0084"/>
<stop offset="0.8984" stop-color="#3b0053"/>
<stop offset="0.9672" stop-color="#1f0017"/>
<stop offset="1" stop-color="#0e0005"/>
</linearGradient>
<linearGradient id="c105" gradientUnits="userSpaceOnUse" x1="0" y1="88" x2="0" y2="393">
<stop offset="0" stop-color="#000000"/>
<stop offset="0.03279" stop-color="#000000"/>
<stop offset="0.05902" stop-color="#0a0002"/>
<stop offset="0.1377" stop-color="#22001c"/>
<stop offset="0.3377" stop-color="#3e005d"/>
<stop offset="0.4951" stop-color="#4e008f"/>
<stop offset="0.6066" stop-color="#53009f"/>
<stop offset="0.7279" stop-color="#5500a3"/>
<stop offset="0.7902" stop-color="#510097"/>
<stop offset="0.8328" stop-color="#4b0085"/>
<stop offset="0.8885" stop-color="#3e005c"/>
<stop offset="0.9672" stop-color="#1f0017"/>
<stop offset="1" stop-color="#0e0005"/>
</linearGradient>
<linearGradient id="c106" gradientUnits="userSpaceOnUse" x1="0" y1="88" x2="0" y2="393">
<stop offset="0" stop-color="#000000"/>
<stop offset="0.03279" stop-color="#000000"/>
<stop offset="0.05246" stop-color="#090002"/>
<stop offset="0.1311" stop-color="#21001a"/>
<stop offset="0.3213" stop-color="#3d0058"/>
<stop offset="0.4951" stop-color="#4f0090"/>
<stop offset="0.6033" stop-color="#5400a0"/>
<stop offset="0.7279" stop-color="#5500a5"/>
<stop offset="0.7934" stop-color="#510098"/>
<stop offset="0.8361" stop-color="#4b0085"/>
<stop offset="0.8918" stop-color="#3d005a"/>
<stop offset="0.9672" stop-color="#1f0018"/>
<stop offset="1" stop-color="#0e0005"/>
</linearGradient>
<linearGradient id="c107" gradientUnits="userSpaceOnUse" x1="0" y1="88" x2="0" y2="393">
<stop offset="0" stop-color="#000000"/>
<stop offset="0.03279" stop-color="#000000"/>
<stop offset="0.04918" stop-color="#090002"/>
<stop offset="0.09508" stop-color="#18000e"/>
<stop offset="0.1803" stop-color="#290029"/>
<stop offset="0.4492" stop-color="#4b0083"/>
<stop offset="0.5311" stop-color="#510099"/>
<stop offset="0.6721" stop-color="#5600a6"/>
<stop offset="0.7541" stop-color="#5500a3"/>
<stop offset="0.8033" stop-color="#510096"/>
<stop offset="0.8393" stop-color="#4b0084"/>
<stop offset="0.8951" stop-color="#3c0058"/>
<stop offset="0.9639" stop-color="#21001a"/>
<stop offset="1" stop-color="#0e0005"/>
</linearGradient>
<linearGradient id="c108" gradientUnits="userSpaceOnUse" x1="0" y1="88" x2="0" y2="393">
<stop offset="0" stop-color="#000000"/>
<stop offset="0.03279" stop-color="#000000"/>
<stop offset="0.05246" stop-color="#0b0003"/>
<stop offset="0.1213" stop-color="#200019"/>
<stop offset="0.341" stop-color="#410065"/>
<stop offset="0.5049" stop-color="#53009f"/>
<stop offset="0.5967" stop-color="#5900b0"/>
<stop offset="0.718" stop-color="#5b01b7"/>
<stop offset="0.7869" stop-color="#5700ac"/>
<stop offset="0.8328" stop-color="#510098"/>
<stop offset="0.8852" stop-color="#450071"/>
<stop offset="0.9607" stop-color="#270025"/>
<stop offset="0.9934" stop-color="#16000c"/>
<stop offset="1" stop-color="#120008"/>
</linearGradient>
<linearGradient id="c109" gradientUnits="userSpaceOnUse" x1="0" y1="88" x2="0" y2="393">
<stop offset="0" stop-color="#000000"/>
<stop offset="0.03279" stop-color="#000000"/>
<stop offset="0.0459" stop-color="#0a0003"/>
<stop offset="0.08197" stop-color="#18000e"/>
<stop offset="0.1672" stop-color="#2e0033"/>
<stop offset="0.3705" stop-color="#4e008c"/>
<stop offset="0.5016" stop-color="#6201cb"/>
<stop offset="0.5869" stop-color="#6b01e4"/>
<stop offset="0.6984" stop-color="#6f02ed"/>
<stop offset="0.7705" stop-color="#6d02e8"/>
<stop offset="0.8426" stop-color="#6301ce"/>
<stop offset="0.8787" stop-color="#5c01b9"/>
<stop offset="0.9213" stop-color="#4d008b"/>
<stop offset="0.9803" stop-color="#2b002d"/>
<stop offset="1" stop-color="#1e0016"/>
</linearGradient>
<linearGradient id="c110" gradientUnits="userSpaceOnUse" x1="0" y1="88" x2="0" y2="393">
<stop offset="0" stop-color="#000000"/>
<stop offset="0.03279" stop-color="#000000"/>
<stop offset="0.04262" stop-color="#0b0003"/>
<stop offset="0.08197" stop-color="#1c0013"/>
<stop offset="0.1738" stop-color="#360046"/>
<stop offset="0.3967" stop-color="#5f01c3"/>
<stop offset="0.4754" stop-color="#7002ee"/>
<stop offset="0.5344" stop-color="#7b03fe"/>
<stop offset="0.6361" stop-color="#8706fb"/>
<stop offset="0.7311" stop-color="#8906f7"/>
<stop offset="0.8262" stop-color="#7d04ff"/>
<stop offset="0.882" stop-color="#7402f6"/>
<stop offset="0.918" stop-color="#6801dc"/>
<stop offset="0.9443" stop-color="#5700ac"/>
<stop offset="0.9836" stop-color="#39004f"/>
<stop offset="1" stop-color="#2b002e"/>
</linearGradient>
<linearGradient id="c111" gradientUnits="userSpaceOnUse" x1="0" y1="88" x2="0" y2="393">
<stop offset="0" stop-color="#000000"/>
<stop offset="0.03279" stop-color="#000000"/>
<stop offset="0.03934" stop-color="#080002"/>
<stop offset="0.08197" stop-color="#1a0011"/>
<stop offset="0.1705" stop-color="#33003e"/>
<stop offset="0.3672" stop-color="#5500a4"/>
<stop offset="0.482" stop-color="#6b01e3"/>
<stop offset="0.5475" stop-color="#7502f8"/>
<stop offset="0.6393" stop-color="#7e04ff"/>
<stop offset="0.7607" stop-color="#7e04ff"/>
<stop offset="0.8361" stop-color="#7402f5"/>
<stop offset="0.8787" stop-color="#6c02e7"/>
<stop offset="0.918" stop-color="#5f01c4"/>
<stop offset="0.9508" stop-color="#4c0086"/>
<stop offset="0.9803" stop-color="#360047"/>
<stop offset="1" stop-color="#270025"/>
</linearGradient>
<linearGradient id="c112" gradientUnits="userSpaceOnUse" x1="0" y1="88" x2="0" y2="393">
<stop offset="0" stop-color="#000000"/>
<stop offset="0.03279" stop-color="#000000"/>
<stop offset="0.0459" stop-color="#0a0002"/>
<stop offset="0.08197" stop-color="#17000d"/>
<stop offset="0.1705" stop-color="#2d0031"/>
<stop offset="0.3902" stop-color="#4e008e"/>
<stop offset="0.5082" stop-color="#5f01c2"/>
<stop offset="0.5902" stop-color="#6601d8"/>
<stop offset="0.7016" stop-color="#6a01e1"/>
<stop offset="0.7639" stop-color="#6801dc"/>
<stop offset="0.823" stop-color="#6101c9"/>
<stop offset="0.8787" stop-color="#5600a7"/>
<stop offset="0.9213" stop-color="#480079"/>
<stop offset="0.9803" stop-color="#270025"/>
<stop offset="1" stop-color="#1b0012"/>
</linearGradient>
<linearGradient id="c113" gradientUnits="userSpaceOnUse" x1="0" y1="88" x2="0" y2="393">
<stop offset="0" stop-color="#000000"/>
<stop offset="0.03279" stop-color="#000000"/>
<stop offset="0.05246" stop-color="#0b0003"/>
<stop offset="0.1475" stop-color="#250021"/>
<stop offset="0.3016" stop-color="#3c0057"/>
<stop offset="0.4951" stop-color="#52009b"/>
<stop offset="0.6033" stop-color="#5800ad"/>
<stop offset="0.7311" stop-color="#5900b2"/>
<stop offset="0.7869" stop-color="#5600a8"/>
<stop offset="0.8361" stop-color="#4f0091"/>
<stop offset="0.8951" stop-color="#3f0061"/>
<stop offset="0.9607" stop-color="#24001f"/>
<stop offset="0.9934" stop-color="#14000a"/>
<stop offset="1" stop-color="#110007"/>
</linearGradient>
<linearGradient id="c114" gradientUnits="userSpaceOnUse" x1="0" y1="88" x2="0" y2="393">
<stop offset="0" stop-color="#000000"/>
<stop offset="0.03279" stop-color="#000000"/>
<stop offset="0.04918" stop-color="#090002"/>
<stop offset="0.08852" stop-color="#16000c"/>
<stop offset="0.1738" stop-color="#290029"/>
<stop offset="0.4328" stop-color="#4c0087"/>
<stop offset="0.518" stop-color="#5400a1"/>
<stop offset="0.6131" stop-color="#5800af"/>
<stop offset="0.7311" stop-color="#5a00b3"/>
<stop offset="0.7869" stop-color="#5700a9"/>
<stop offset="0.8361" stop-color="#4f0092"/>
<stop offset="0.8918" stop-color="#410064"/>
<stop offset="0.9607" stop-color="#24001f"/>
<stop offset="0.9934" stop-color="#14000a"/>
<stop offset="1" stop-color="#110007"/>
</linearGradient>
<linearGradient id="c115" gradientUnits="userSpaceOnUse" x1="0" y1="88" x2="0" y2="393">
<stop offset="0" stop-color="#000000"/>
<stop offset="0.03279" stop-color="#000000"/>
<stop offset="0.04918" stop-color="#090002"/>
<stop offset="0.09508" stop-color="#18000e"/>
<stop offset="0.2033" stop-color="#2e0033"/>
<stop offset="0.4885" stop-color="#52009b"/>
<stop offset="0.6" stop-color="#5800af"/>
<stop offset="0.7279" stop-color="#5a01b5"/>
<stop offset="0.7902" stop-color="#5600a9"/>
<stop offset="0.8361" stop-color="#500093"/>
<stop offset="0.8951" stop-color="#400062"/>
<stop offset="0.9607" stop-color="#24001f"/>
<stop offset="0.9934" stop-color="#14000a"/>
<stop offset="1" stop-color="#110007"/>
</linearGradient>
<linearGradient id="c116" gradientUnits="userSpaceOnUse" x1="0" y1="88" x2="0" y2="393">
<stop offset="0" stop-color="#000000"/>
<stop offset="0.03279" stop-color="#000000"/>
<stop offset="0.05246" stop-color="#090002"/>
<stop offset="0.1344" stop-color="#22001c"/>
<stop offset="0.3016" stop-color="#3c0057"/>
<stop offset="0.4984" stop-color="#53009e"/>
<stop offset="0.6" stop-color="#5900b0"/>
<stop offset="0.7279" stop-color="#5b01b6"/>
<stop offset="0.7902" stop-color="#5700aa"/>
<stop offset="0.8361" stop-color="#500094"/>
<stop offset="0.8918" stop-color="#410065"/>
<stop offset="0.9607" stop-color="#24001f"/>
<stop offset="0.9934" stop-color="#14000a"/>
<stop offset="1" stop-color="#110007"/>
</linearGradient>
<linearGradient id="c117" gradientUnits="userSpaceOnUse" x1="0" y1="88" x2="0" y2="393">
<stop offset="0" stop-color="#000000"/>
<stop offset="0.03279" stop-color="#000000"/>
<stop offset="0.05246" stop-color="#090002"/>
<stop offset="0.08197" stop-color="#130009"/>
<stop offset="0.1607" stop-color="#270024"/>
<stop offset="0.4459" stop-color="#4e008d"/>
<stop offset="0.5246" stop-color="#5500a5"/>
<stop offset="0.6098" stop-color="#5900b2"/>
<stop offset="0.7311" stop-color="#5b01b7"/>
<stop offset="0.7902" stop-color="#5700ab"/>
<stop offset="0.8361" stop-color="#500095"/>
<stop offset="0.8951" stop-color="#400063"/>
<stop offset="0.9574" stop-color="#250022"/>
<stop offset="0.9869" stop-color="#17000d"/>
<stop offset="1" stop-color="#110007"/>
</linearGradient>
<linearGradient id="c118" gradientUnits="userSpaceOnUse" x1="0" y1="88" x2="0" y2="393">
<stop offset="0" stop-color="#000000"/>
<stop offset="0.03279" stop-color="#000000"/>
<stop offset="0.05902" stop-color="#0a0002"/>
<stop offset="0.1213" stop-color="#1f0017"/>
<stop offset="0.3115" stop-color="#3e005b"/>
<stop offset="0.4984" stop-color="#53009f"/>
<stop offset="0.5967" stop-color="#5900b2"/>
<stop offset="0.718" stop-color="#5b01b8"/>
<stop offset="0.7836" stop-color="#5800af"/>
<stop offset="0.8361" stop-color="#510096"/>
<stop offset="0.9016" stop-color="#3e005d"/>
<stop offset="0.9574" stop-color="#250022"/>
<stop offset="0.9869" stop-color="#17000d"/>
<stop offset="1" stop-color="#110007"/>
</linearGradient>
<linearGradient id="c119" gradientUnits="userSpaceOnUse" x1="0" y1="88" x2="0" y2="393">
<stop offset="0" stop-color="#000000"/>
<stop offset="0.03279" stop-color="#000000"/>
<stop offset="0.05574" stop-color="#090002"/>
<stop offset="0.07541" stop-color="#100006"/>
<stop offset="0.141" stop-color="#23001e"/>
<stop offset="0.3115" stop-color="#3e005b"/>
<stop offset="0.5016" stop-color="#5400a1"/>
<stop offset="0.5967" stop-color="#5a00b3"/>
<stop offset="0.7148" stop-color="#5c01b9"/>
<stop offset="0.7836" stop-color="#5900b0"/>
<stop offset="0.8361" stop-color="#510097"/>
<stop offset="0.8951" stop-color="#400064"/>
<stop offset="0.9574" stop-color="#250022"/>
<stop offset="0.9869" stop-color="#17000d"/>
<stop offset="1" stop-color="#110007"/>
</linearGradient>
<linearGradient id="c120" gradientUnits="userSpaceOnUse" x1="0" y1="88" x2="0" y2="393">
<stop offset="0" stop-color="#000000"/>
<stop offset="0.03279" stop-color="#000000"/>
<stop offset="0.07213" stop-color="#0e0005"/>
<stop offset="0.118" stop-color="#1e0016"/>
<stop offset="0.2885" stop-color="#3a0052"/>
<stop offset="0.4951" stop-color="#5400a0"/>
<stop offset="0.6033" stop-color="#5a01b5"/>
<stop offset="0.7279" stop-color="#5c01bb"/>
<stop offset="0.7869" stop-color="#5900af"/>
<stop offset="0.8328" stop-color="#52009a"/>
<stop offset="0.8918" stop-color="#420068"/>
<stop offset="0.9607" stop-color="#240020"/>
<stop offset="0.9869" stop-color="#17000d"/>
<stop offset="1" stop-color="#110007"/>
</linearGradient>
<linearGradient id="c121" gradientUnits="userSpaceOnUse" x1="0" y1="88" x2="0" y2="393">
<stop offset="0" stop-color="#000000"/>
<stop offset="0.03279" stop-color="#000000"/>
<stop offset="0.06885" stop-color="#0c0003"/>
<stop offset="0.1311" stop-color="#21001a"/>
<stop offset="0.3115" stop-color="#3e005b"/>
<stop offset="0.4984" stop-color="#5400a1"/>
<stop offset="0.6" stop-color="#5b01b6"/>
<stop offset="0.7279" stop-color="#5d01bc"/>
<stop offset="0.7869" stop-color="#5900b1"/>
<stop offset="0.8328" stop-color="#52009b"/>
<stop offset="0.8951" stop-color="#410065"/>
<stop offset="0.9607" stop-color="#240020"/>
<stop offset="0.9869" stop-color="#17000d"/>
<stop offset="1" stop-color="#110007"/>
</linearGradient>
<linearGradient id="c122" gradientUnits="userSpaceOnUse" x1="0" y1="88" x2="0" y2="393">
<stop offset="0" stop-color="#000000"/>
<stop offset="0.03279" stop-color="#000000"/>
<stop offset="0.0623" stop-color="#080002"/>
<stop offset="0.1082" stop-color="#1b0012"/>
<stop offset="0.2787" stop-color="#39004e"/>
<stop offset="0.5016" stop-color="#5500a3"/>
<stop offset="0.6" stop-color="#5b01b7"/>
<stop offset="0.7213" stop-color="#5d01bd"/>
<stop offset="0.7869" stop-color="#5900b2"/>
<stop offset="0.8328" stop-color="#53009c"/>
<stop offset="0.8918" stop-color="#420069"/>
<stop offset="0.9607" stop-color="#240020"/>
<stop offset="0.9869" stop-color="#17000d"/>
<stop offset="1" stop-color="#110007"/>
</linearGradient>
<linearGradient id="c123" gradientUnits="userSpaceOnUse" x1="0" y1="88" x2="0" y2="393">
<stop offset="0" stop-color="#000000"/>
<stop offset="0.03934" stop-color="#030000"/>
<stop offset="0.06885" stop-color="#0a0003"/>
<stop offset="0.1082" stop-color="#1b0012"/>
<stop offset="0.2885" stop-color="#3a0052"/>
<stop offset="0.4984" stop-color="#5500a3"/>
<stop offset="0.6" stop-color="#5b01b8"/>
<stop offset="0.7213" stop-color="#5d01be"/>
<stop offset="0.7869" stop-color="#5a00b3"/>
<stop offset="0.8328" stop-color="#53009d"/>
<stop offset="0.8885" stop-color="#43006d"/>
<stop offset="0.9508" stop-color="#290028"/>
<stop offset="0.9869" stop-color="#17000d"/>
<stop offset="1" stop-color="#110007"/>
</linearGradient>
<linearGradient id="c124" gradientUnits="userSpaceOnUse" x1="0" y1="88" x2="0" y2="393">
<stop offset="0" stop-color="#000000"/>
<stop offset="0.03934" stop-color="#030000"/>
<stop offset="0.06885" stop-color="#0a0002"/>
<stop offset="0.1115" stop-color="#1c0013"/>
<stop offset="0.2885" stop-color="#3a0052"/>
<stop offset="0.4984" stop-color="#5500a3"/>
<stop offset="0.6" stop-color="#5c01b9"/>
<stop offset="0.718" stop-color="#5e01bf"/>
<stop offset="0.7869" stop-color="#5a00b4"/>
<stop offset="0.8328" stop-color="#53009e"/>
<stop offset="0.8885" stop-color="#44006d"/>
<stop offset="0.9639" stop-color="#23001d"/>
<stop offset="0.9902" stop-color="#16000c"/>
<stop offset="1" stop-color="#110007"/>
</linearGradient>
<linearGradient id="c125" gradientUnits="userSpaceOnUse" x1="0" y1="88" x2="0" y2="393">
<stop offset="0" stop-color="#000000"/>
<stop offset="0.0459" stop-color="#030000"/>
<stop offset="0.06557" stop-color="#050001"/>
<stop offset="0.08525" stop-color="#130009"/>
<stop offset="0.1607" stop-color="#260023"/>
<stop offset="0.4295" stop-color="#4d008a"/>
<stop offset="0.5082" stop-color="#5600a7"/>
<stop offset="0.6" stop-color="#5c01ba"/>
<stop offset="0.7115" stop-color="#5e01c0"/>
<stop offset="0.7803" stop-color="#5b01b8"/>
<stop offset="0.8328" stop-color="#53009f"/>
<stop offset="0.8918" stop-color="#43006a"/>
<stop offset="0.9607" stop-color="#240020"/>
<stop offset="0.9869" stop-color="#17000d"/>
<stop offset="1" stop-color="#110007"/>
</linearGradient>
<linearGradient id="c126" gradientUnits="userSpaceOnUse" x1="0" y1="88" x2="0" y2="393">
<stop offset="0" stop-color="#000000"/>
<stop offset="0.06557" stop-color="#040000"/>
<stop offset="0.08852" stop-color="#14000a"/>
<stop offset="0.1672" stop-color="#270025"/>
<stop offset="0.4557" stop-color="#510095"/>
<stop offset="0.5311" stop-color="#5800ae"/>
<stop offset="0.6164" stop-color="#5d01bd"/>
<stop offset="0.7279" stop-color="#5e01c2"/>
<stop offset="0.7869" stop-color="#5b01b6"/>
<stop offset="0.8328" stop-color="#5400a0"/>
<stop offset="0.8918" stop-color="#43006b"/>
<stop offset="0.9607" stop-color="#240020"/>
<stop offset="0.9869" stop-color="#17000d"/>
<stop offset="1" stop-color="#110007"/>
</linearGradient>
<linearGradient id="c127" gradientUnits="userSpaceOnUse" x1="0" y1="88" x2="0" y2="393">
<stop offset="0" stop-color="#000000"/>
<stop offset="0.06557" stop-color="#020000"/>
<stop offset="0.07541" stop-color="#0d0004"/>
<stop offset="0.1213" stop-color="#1e0016"/>
<stop offset="0.2656" stop-color="#370049"/>
<stop offset="0.4984" stop-color="#5500a5"/>
<stop offset="0.6" stop-color="#5d01bc"/>
<stop offset="0.7213" stop-color="#5f01c3"/>
<stop offset="0.7836" stop-color="#5b01b8"/>
<stop offset="0.8328" stop-color="#5400a1"/>
<stop offset="0.8885" stop-color="#44006f"/>
<stop offset="0.9574" stop-color="#260023"/>
<stop offset="0.9869" stop-color="#17000d"/>
<stop offset="1" stop-color="#110007"/>
</linearGradient>
<linearGradient id="c128" gradientUnits="userSpaceOnUse" x1="0" y1="88" x2="0" y2="393">
<stop offset="0" stop-color="#000000"/>
<stop offset="0.06557" stop-color="#000000"/>
<stop offset="0.07213" stop-color="#0b0003"/>
<stop offset="0.1115" stop-color="#1b0012"/>
<stop offset="0.2885" stop-color="#3a0052"/>
<stop offset="0.4984" stop-color="#5500a5"/>
<stop offset="0.5967" stop-color="#5d01bc"/>
<stop offset="0.718" stop-color="#5f01c3"/>
<stop offset="0.7836" stop-color="#5b01b8"/>
<stop offset="0.8328" stop-color="#5400a1"/>
<stop offset="0.8885" stop-color="#44006f"/>
<stop offset="0.9574" stop-color="#260023"/>
<stop offset="0.9869" stop-color="#17000d"/>
<stop offset="1" stop-color="#110007"/>
</linearGradient>
<linearGradient id="c129" gradientUnits="userSpaceOnUse" x1="0" y1="88" x2="0" y2="393">
<stop offset="0" stop-color="#000000"/>
<stop offset="0.06557" stop-color="#000000"/>
<stop offset="0.07213" stop-color="#0b0003"/>
<stop offset="0.1115" stop-color="#1b0012"/>
<stop offset="0.2885" stop-color="#3a0052"/>
<stop offset="0.5016" stop-color="#5600a6"/>
<stop offset="0.5934" stop-color="#5c01bb"/>
<stop offset="0.6918" stop-color="#5f01c2"/>
<stop offset="0.7508" stop-color="#5e01bf"/>
<stop offset="0.7869" stop-color="#5b01b7"/>
<stop offset="0.8361" stop-color="#53009e"/>
<stop offset="0.8918" stop-color="#43006b"/>
<stop offset="0.9574" stop-color="#260023"/>
<stop offset="0.9869" stop-color="#17000d"/>
<stop offset="1" stop-color="#100007"/>
</linearGradient>
<linearGradient id="c130" gradientUnits="userSpaceOnUse" x1="0" y1="88" x2="0" y2="393">
<stop offset="0" stop-color="#000000"/>
<stop offset="0.06557" stop-color="#000000"/>
<stop offset="0.07213" stop-color="#0b0003"/>
<stop offset="0.1115" stop-color="#1b0012"/>
<stop offset="0.2885" stop-color="#3a0052"/>
<stop offset="0.5016" stop-color="#5600a6"/>
<stop offset="0.6" stop-color="#5c01bc"/>
<stop offset="0.7213" stop-color="#5f01c2"/>
<stop offset="0.7836" stop-color="#5b01b8"/>
<stop offset="0.8328" stop-color="#5400a0"/>
<stop offset="0.8885" stop-color="#44006e"/>
<stop offset="0.9574" stop-color="#250022"/>
<stop offset="0.9902" stop-color="#15000b"/>
<stop offset="1" stop-color="#100006"/>
</linearGradient>
<linearGradient id="c131" gradientUnits="userSpaceOnUse" x1="0" y1="88" x2="0" y2="393">
<stop offset="0" stop-color="#000000"/>
<stop offset="0.06557" stop-color="#000000"/>
<stop offset="0.07213" stop-color="#0b0003"/>
<stop offset="0.1115" stop-color="#1b0012"/>
<stop offset="0.2885" stop-color="#3a0052"/>
<stop offset="0.5049" stop-color="#5600a7"/>
<stop offset="0.6033" stop-color="#5d01bc"/>
<stop offset="0.7246" stop-color="#5e01c2"/>
<stop offset="0.7869" stop-color="#5b01b6"/>
<stop offset="0.8361" stop-color="#53009d"/>
<stop offset="0.8918" stop-color="#43006a"/>
<stop offset="0.9574" stop-color="#250022"/>
<stop offset="0.9836" stop-color="#18000e"/>
<stop offset="1" stop-color="#100006"/>
</linearGradient>
<linearGradient id="c132" gradientUnits="userSpaceOnUse" x1="0" y1="88" x2="0" y2="393">
<stop offset="0" stop-color="#000000"/>
<stop offset="0.06557" stop-color="#000000"/>
<stop offset="0.07213" stop-color="#0b0003"/>
<stop offset="0.1115" stop-color="#1b0012"/>
<stop offset="0.2885" stop-color="#3a0052"/>
<stop offset="0.5082" stop-color="#5600a8"/>
<stop offset="0.6" stop-color="#5c01bb"/>
<stop offset="0.7082" stop-color="#5e01c1"/>
<stop offset="0.777" stop-color="#5c01ba"/>
<stop offset="0.8328" stop-color="#53009f"/>
<stop offset="0.8885" stop-color="#44006d"/>
<stop offset="0.9574" stop-color="#250022"/>
<stop offset="0.9869" stop-color="#16000c"/>
<stop offset="1" stop-color="#100006"/>
</linearGradient>
<linearGradient id="c133" gradientUnits="userSpaceOnUse" x1="0" y1="88" x2="0" y2="393">
<stop offset="0" stop-color="#000000"/>
<stop offset="0.06557" stop-color="#000000"/>
<stop offset="0.07213" stop-color="#0b0003"/>
<stop offset="0.1115" stop-color="#1b0012"/>
<stop offset="0.2885" stop-color="#3a0052"/>
<stop offset="0.4984" stop-color="#5500a4"/>
<stop offset="0.5902" stop-color="#5c01ba"/>
<stop offset="0.7082" stop-color="#5e01c1"/>
<stop offset="0.7803" stop-color="#5b01b8"/>
<stop offset="0.8295" stop-color="#5400a1"/>
<stop offset="0.8885" stop-color="#43006c"/>
<stop offset="0.9508" stop-color="#280027"/>
<stop offset="0.9836" stop-color="#18000e"/>
<stop offset="1" stop-color="#100006"/>
</linearGradient>
<linearGradient id="c134" gradientUnits="userSpaceOnUse" x1="0" y1="88" x2="0" y2="393">
<stop offset="0" stop-color="#000000"/>
<stop offset="0.06557" stop-color="#000000"/>
<stop offset="0.07213" stop-color="#0b0003"/>
<stop offset="0.1115" stop-color="#1b0012"/>
<stop offset="0.2885" stop-color="#3a0052"/>
<stop offset="0.5049" stop-color="#5600a6"/>
<stop offset="0.5934" stop-color="#5c01ba"/>
<stop offset="0.7213" stop-color="#5e01c1"/>
<stop offset="0.7869" stop-color="#5a01b5"/>
<stop offset="0.8328" stop-color="#53009e"/>
<stop offset="0.8918" stop-color="#420069"/>
<stop offset="0.9574" stop-color="#250021"/>
<stop offset="0.9836" stop-color="#17000d"/>
<stop offset="1" stop-color="#100006"/>
</linearGradient>
<linearGradient id="c135" gradientUnits="userSpaceOnUse" x1="0" y1="88" x2="0" y2="393">
<stop offset="0" stop-color="#000000"/>
<stop offset="0.06557" stop-color="#000000"/>
<stop offset="0.07213" stop-color="#0b0003"/>
<stop offset="0.1115" stop-color="#1b0012"/>
<stop offset="0.2885" stop-color="#3a0052"/>
<stop offset="0.5082" stop-color="#5600a7"/>
<stop offset="0.6066" stop-color="#5c01bb"/>
<stop offset="0.7246" stop-color="#5e01c0"/>
<stop offset="0.7836" stop-color="#5b01b6"/>
<stop offset="0.8328" stop-color="#53009e"/>
<stop offset="0.8951" stop-color="#410065"/>
<stop offset="0.9574" stop-color="#240020"/>
<stop offset="0.9836" stop-color="#17000d"/>
<stop offset="1" stop-color="#0f0006"/>
</linearGradient>
<linearGradient id="c136" gradientUnits="userSpaceOnUse" x1="0" y1="88" x2="0" y2="393">
<stop offset="0" stop-color="#000000"/>
<stop offset="0.06557" stop-color="#000000"/>
<stop offset="0.07213" stop-color="#0b0003"/>
<stop offset="0.1115" stop-color="#1b0012"/>
<stop offset="0.2885" stop-color="#3a0052"/>
<stop offset="0.5082" stop-color="#5600a7"/>
<stop offset="0.6" stop-color="#5c01ba"/>
<stop offset="0.718" stop-color="#5e01c0"/>
<stop offset="0.7836" stop-color="#5a01b5"/>
<stop offset="0.8328" stop-color="#53009d"/>
<stop offset="0.8918" stop-color="#420068"/>
<stop offset="0.9574" stop-color="#240020"/>
<stop offset="0.9869" stop-color="#16000b"/>
<stop offset="1" stop-color="#0f0006"/>
</linearGradient>
<linearGradient id="c137" gradientUnits="userSpaceOnUse" x1="0" y1="88" x2="0" y2="393">
<stop offset="0" stop-color="#000000"/>
<stop offset="0.06557" stop-color="#000000"/>
<stop offset="0.07213" stop-color="#0b0003"/>
<stop offset="0.1115" stop-color="#1b0012"/>
<stop offset="0.2885" stop-color="#3a0052"/>
<stop offset="0.5115" stop-color="#5600a8"/>
<stop offset="0.6098" stop-color="#5c01bb"/>
<stop offset="0.7311" stop-color="#5e01bf"/>
<stop offset="0.7869" stop-color="#5a00b4"/>
<stop offset="0.8328" stop-color="#53009d"/>
<stop offset="0.8951" stop-color="#400064"/>
<stop offset="0.9574" stop-color="#240020"/>
<stop offset="0.9869" stop-color="#15000b"/>
<stop offset="1" stop-color="#0f0006"/>
</linearGradient>
<linearGradient id="c138" gradientUnits="userSpaceOnUse" x1="0" y1="88" x2="0" y2="393">
<stop offset="0" stop-color="#000000"/>
<stop offset="0.06557" stop-color="#000000"/>
<stop offset="0.07213" stop-color="#0b0003"/>
<stop offset="0.1115" stop-color="#1b0012"/>
<stop offset="0.2885" stop-color="#3a0052"/>
<stop offset="0.518" stop-color="#5700aa"/>
<stop offset="0.6295" stop-color="#5d01bd"/>
<stop offset="0.7443" stop-color="#5d01bd"/>
<stop offset="0.7902" stop-color="#5900b2"/>
<stop offset="0.8361" stop-color="#52009a"/>
<stop offset="0.8918" stop-color="#410067"/>
<stop offset="0.9574" stop-color="#24001f"/>
<stop offset="0.9836" stop-color="#17000c"/>
<stop offset="1" stop-color="#0f0005"/>
</linearGradient>
<linearGradient id="c139" gradientUnits="userSpaceOnUse" x1="0" y1="88" x2="0" y2="393">
<stop offset="0" stop-color="#000000"/>
<stop offset="0.06557" stop-color="#000000"/>
<stop offset="0.07213" stop-color="#0b0003"/>
<stop offset="0.1115" stop-color="#1b0012"/>
<stop offset="0.2885" stop-color="#3a0052"/>
<stop offset="0.5049" stop-color="#5500a5"/>
<stop offset="0.577" stop-color="#5b01b6"/>
<stop offset="0.6689" stop-color="#5d01be"/>
<stop offset="0.741" stop-color="#5d01bd"/>
<stop offset="0.7869" stop-color="#5a00b3"/>
<stop offset="0.8328" stop-color="#52009c"/>
<stop offset="0.8951" stop-color="#400063"/>
<stop offset="0.9574" stop-color="#23001f"/>
<stop offset="0.9836" stop-color="#16000c"/>
<stop offset="1" stop-color="#0f0005"/>
</linearGradient>
<linearGradient id="c140" gradientUnits="userSpaceOnUse" x1="0" y1="88" x2="0" y2="393">
<stop offset="0" stop-color="#000000"/>
<stop offset="0.06557" stop-color="#000000"/>
<stop offset="0.07213" stop-color="#0b0003"/>
<stop offset="0.1115" stop-color="#1b0012"/>
<stop offset="0.2885" stop-color="#3a0052"/>
<stop offset="0.5115" stop-color="#5600a7"/>
<stop offset="0.6" stop-color="#5c01b9"/>
<stop offset="0.7082" stop-color="#5d01be"/>
<stop offset="0.777" stop-color="#5b01b7"/>
<stop offset="0.8295" stop-color="#53009e"/>
<stop offset="0.8918" stop-color="#410066"/>
<stop offset="0.9574" stop-color="#23001f"/>
<stop offset="0.9836" stop-color="#16000c"/>
<stop offset="1" stop-color="#0e0005"/>
</linearGradient>
<linearGradient id="c141" gradientUnits="userSpaceOnUse" x1="0" y1="88" x2="0" y2="393">
<stop offset="0" stop-color="#000000"/>
<stop offset="0.06557" stop-color="#000000"/>
<stop offset="0.07213" stop-color="#0b0003"/>
<stop offset="0.1115" stop-color="#1b0012"/>
<stop offset="0.2885" stop-color="#3a0052"/>
<stop offset="0.5148" stop-color="#5600a8"/>
<stop offset="0.6033" stop-color="#5c01b9"/>
<stop offset="0.7213" stop-color="#5d01be"/>
<stop offset="0.7836" stop-color="#5a00b3"/>
<stop offset="0.8328" stop-color="#52009b"/>
<stop offset="0.8951" stop-color="#400062"/>
<stop offset="0.9574" stop-color="#23001e"/>
<stop offset="0.9836" stop-color="#16000c"/>
<stop offset="1" stop-color="#0e0005"/>
</linearGradient>
<linearGradient id="c142" gradientUnits="userSpaceOnUse" x1="0" y1="88" x2="0" y2="393">
<stop offset="0" stop-color="#000000"/>
<stop offset="0.06557" stop-color="#000000"/>
<stop offset="0.07213" stop-color="#0b0003"/>
<stop offset="0.1115" stop-color="#1b0012"/>
<stop offset="0.2885" stop-color="#3a0052"/>
<stop offset="0.5148" stop-color="#5600a8"/>
<stop offset="0.6066" stop-color="#5c01b9"/>
<stop offset="0.7279" stop-color="#5d01be"/>
<stop offset="0.7869" stop-color="#5900b2"/>
<stop offset="0.8295" stop-color="#53009d"/>
<stop offset="0.8918" stop-color="#410065"/>
<stop offset="0.9574" stop-color="#23001e"/>
<stop offset="0.9836" stop-color="#16000c"/>
<stop offset="1" stop-color="#0e0005"/>
</linearGradient>
<linearGradient id="c143" gradientUnits="userSpaceOnUse" x1="0" y1="88" x2="0" y2="393">
<stop offset="0" stop-color="#000000"/>
<stop offset="0.06557" stop-color="#000000"/>
<stop offset="0.07213" stop-color="#0b0003"/>
<stop offset="0.1115" stop-color="#1b0012"/>
<stop offset="0.2885" stop-color="#3a0052"/>
<stop offset="0.5213" stop-color="#5700aa"/>
<stop offset="0.6393" stop-color="#5d01bc"/>
<stop offset="0.7443" stop-color="#5c01bb"/>
<stop offset="0.7902" stop-color="#5900b0"/>
<stop offset="0.8328" stop-color="#52009a"/>
<stop offset="0.8984" stop-color="#3e005e"/>
<stop offset="0.9475" stop-color="#280026"/>
<stop offset="0.9836" stop-color="#15000b"/>
<stop offset="1" stop-color="#0e0005"/>
</linearGradient>
</defs>
<g shape-rendering="crispEdges">
<rect x="112.50" y="91" width="2.86" height="302" fill="url(#c0)"/>
<rect x="115.06" y="91" width="2.86" height="302" fill="url(#c1)"/>
<rect x="117.62" y="91" width="2.86" height="302" fill="url(#c2)"/>
<rect x="120.19" y="91" width="2.86" height="302" fill="url(#c3)"/>
<rect x="122.75" y="91" width="2.86" height="302" fill="url(#c4)"/>
<rect x="125.31" y="91" width="2.86" height="302" fill="url(#c5)"/>
<rect x="127.88" y="91" width="2.86" height="302" fill="url(#c6)"/>
<rect x="130.44" y="91" width="2.86" height="302" fill="url(#c7)"/>
<rect x="133.00" y="91" width="2.86" height="302" fill="url(#c8)"/>
<rect x="135.56" y="88" width="2.86" height="305" fill="url(#c9)"/>
<rect x="138.12" y="88" width="2.86" height="305" fill="url(#c10)"/>
<rect x="140.69" y="88" width="2.86" height="305" fill="url(#c11)"/>
<rect x="143.25" y="88" width="2.86" height="305" fill="url(#c12)"/>
<rect x="145.81" y="88" width="2.86" height="305" fill="url(#c13)"/>
<rect x="148.38" y="88" width="2.86" height="305" fill="url(#c14)"/>
<rect x="150.94" y="88" width="2.86" height="305" fill="url(#c15)"/>
<rect x="153.50" y="88" width="2.86" height="305" fill="url(#c16)"/>
<rect x="156.06" y="88" width="2.86" height="305" fill="url(#c17)"/>
<rect x="158.62" y="88" width="2.86" height="305" fill="url(#c18)"/>
<rect x="161.19" y="88" width="2.86" height="305" fill="url(#c19)"/>
<rect x="163.75" y="88" width="2.86" height="305" fill="url(#c20)"/>
<rect x="166.31" y="88" width="2.86" height="305" fill="url(#c21)"/>
<rect x="168.88" y="88" width="2.86" height="305" fill="url(#c22)"/>
<rect x="171.44" y="88" width="2.86" height="305" fill="url(#c23)"/>
<rect x="174.00" y="88" width="2.86" height="305" fill="url(#c24)"/>
<rect x="176.56" y="88" width="2.86" height="305" fill="url(#c25)"/>
<rect x="179.12" y="88" width="2.86" height="305" fill="url(#c26)"/>
<rect x="181.69" y="88" width="2.86" height="305" fill="url(#c27)"/>
<rect x="184.25" y="88" width="2.86" height="305" fill="url(#c28)"/>
<rect x="186.81" y="88" width="2.86" height="301" fill="url(#c29)"/>
<rect x="189.38" y="88" width="2.86" height="303" fill="url(#c30)"/>
<rect x="191.94" y="88" width="2.86" height="303" fill="url(#c31)"/>
<rect x="194.50" y="88" width="2.86" height="303" fill="url(#c32)"/>
<rect x="197.06" y="88" width="2.86" height="303" fill="url(#c33)"/>
<rect x="199.62" y="88" width="2.86" height="303" fill="url(#c34)"/>
<rect x="202.19" y="88" width="2.86" height="301" fill="url(#c35)"/>
<rect x="204.75" y="88" width="2.86" height="303" fill="url(#c36)"/>
<rect x="207.31" y="88" width="2.86" height="303" fill="url(#c37)"/>
<rect x="209.88" y="88" width="2.86" height="303" fill="url(#c38)"/>
<rect x="212.44" y="88" width="2.86" height="298.5" fill="url(#c39)"/>
<rect x="215.00" y="88" width="2.86" height="303" fill="url(#c40)"/>
<rect x="217.56" y="88" width="2.86" height="303" fill="url(#c41)"/>
<rect x="220.12" y="88" width="2.86" height="303" fill="url(#c42)"/>
<rect x="222.69" y="88" width="2.86" height="303" fill="url(#c43)"/>
<rect x="225.25" y="88" width="2.86" height="303" fill="url(#c44)"/>
<rect x="227.81" y="88" width="2.86" height="303" fill="url(#c45)"/>
<rect x="230.38" y="88" width="2.86" height="303" fill="url(#c46)"/>
<rect x="232.94" y="88" width="2.86" height="303" fill="url(#c47)"/>
<rect x="235.50" y="88" width="2.86" height="301.5" fill="url(#c48)"/>
<rect x="238.06" y="88" width="2.86" height="299" fill="url(#c49)"/>
<rect x="240.62" y="88" width="2.86" height="301.5" fill="url(#c50)"/>
<rect x="243.19" y="88" width="2.86" height="299" fill="url(#c51)"/>
<rect x="245.75" y="88" width="2.86" height="303" fill="url(#c52)"/>
<rect x="248.31" y="88" width="2.86" height="303" fill="url(#c53)"/>
<rect x="250.88" y="88" width="2.86" height="303" fill="url(#c54)"/>
<rect x="253.44" y="88" width="2.86" height="303" fill="url(#c55)"/>
<rect x="256.00" y="88" width="2.86" height="303" fill="url(#c56)"/>
<rect x="258.56" y="88" width="2.86" height="303" fill="url(#c57)"/>
<rect x="261.12" y="88" width="2.86" height="303" fill="url(#c58)"/>
<rect x="263.69" y="88" width="2.86" height="303" fill="url(#c59)"/>
<rect x="266.25" y="88" width="2.86" height="303" fill="url(#c60)"/>
<rect x="268.81" y="88" width="2.86" height="303" fill="url(#c61)"/>
<rect x="271.38" y="88" width="2.86" height="301.5" fill="url(#c62)"/>
<rect x="273.94" y="88" width="2.86" height="299" fill="url(#c63)"/>
<rect x="276.50" y="88" width="2.86" height="301.5" fill="url(#c64)"/>
<rect x="279.06" y="88" width="2.86" height="299" fill="url(#c65)"/>
<rect x="281.62" y="88" width="2.86" height="303" fill="url(#c66)"/>
<rect x="284.19" y="88" width="2.86" height="303" fill="url(#c67)"/>
<rect x="286.75" y="88" width="2.86" height="303" fill="url(#c68)"/>
<rect x="289.31" y="88" width="2.86" height="301.5" fill="url(#c69)"/>
<rect x="291.88" y="88" width="2.86" height="301.5" fill="url(#c70)"/>
<rect x="294.44" y="88" width="2.86" height="303" fill="url(#c71)"/>
<rect x="297.00" y="88" width="2.86" height="303" fill="url(#c72)"/>
<rect x="299.56" y="88" width="2.86" height="303" fill="url(#c73)"/>
<rect x="302.12" y="88" width="2.86" height="303" fill="url(#c74)"/>
<rect x="304.69" y="88" width="2.86" height="303" fill="url(#c75)"/>
<rect x="307.25" y="88" width="2.86" height="305" fill="url(#c76)"/>
<rect x="309.81" y="88" width="2.86" height="305" fill="url(#c77)"/>
<rect x="312.38" y="88" width="2.86" height="305" fill="url(#c78)"/>
<rect x="314.94" y="88" width="2.86" height="305" fill="url(#c79)"/>
<rect x="317.50" y="88" width="2.86" height="305" fill="url(#c80)"/>
<rect x="320.06" y="88" width="2.86" height="305" fill="url(#c81)"/>
<rect x="322.62" y="88" width="2.86" height="305" fill="url(#c82)"/>
<rect x="325.19" y="90.5" width="2.86" height="302.5" fill="url(#c83)"/>
<rect x="327.75" y="90.5" width="2.86" height="302.5" fill="url(#c84)"/>
<rect x="330.31" y="96.5" width="2.86" height="296.5" fill="url(#c85)"/>
<rect x="332.88" y="96.5" width="2.86" height="296.5" fill="url(#c86)"/>
<rect x="335.44" y="90.5" width="2.86" height="302.5" fill="url(#c87)"/>
<rect x="338.00" y="90.5" width="2.86" height="302.5" fill="url(#c88)"/>
<rect x="340.56" y="90.5" width="2.86" height="302.5" fill="url(#c89)"/>
<rect x="343.12" y="96.5" width="2.86" height="296.5" fill="url(#c90)"/>
<rect x="345.69" y="96.5" width="2.86" height="296.5" fill="url(#c91)"/>
<rect x="348.25" y="88" width="2.86" height="305" fill="url(#c92)"/>
<rect x="350.81" y="88" width="2.86" height="305" fill="url(#c93)"/>
<rect x="353.38" y="88" width="2.86" height="305" fill="url(#c94)"/>
<rect x="355.94" y="88" width="2.86" height="305" fill="url(#c95)"/>
<rect x="358.50" y="88" width="2.86" height="305" fill="url(#c96)"/>
<rect x="361.06" y="90.5" width="2.86" height="302.5" fill="url(#c97)"/>
<rect x="363.62" y="90.5" width="2.86" height="302.5" fill="url(#c98)"/>
<rect x="366.19" y="88" width="2.86" height="305" fill="url(#c99)"/>
<rect x="368.75" y="88" width="2.86" height="305" fill="url(#c100)"/>
<rect x="371.31" y="88" width="2.86" height="305" fill="url(#c101)"/>
<rect x="373.88" y="88" width="2.86" height="305" fill="url(#c102)"/>
<rect x="376.44" y="88" width="2.86" height="305" fill="url(#c103)"/>
<rect x="379.00" y="88" width="2.86" height="305" fill="url(#c104)"/>
<rect x="381.56" y="88" width="2.86" height="305" fill="url(#c105)"/>
<rect x="384.12" y="88" width="2.86" height="305" fill="url(#c106)"/>
<rect x="386.69" y="88" width="2.86" height="305" fill="url(#c107)"/>
<rect x="389.25" y="88" width="2.86" height="305" fill="url(#c108)"/>
<rect x="391.81" y="88" width="2.86" height="305" fill="url(#c109)"/>
<rect x="394.38" y="88" width="2.86" height="305" fill="url(#c110)"/>
<rect x="396.94" y="88" width="2.86" height="305" fill="url(#c111)"/>
<rect x="399.50" y="88" width="2.86" height="305" fill="url(#c112)"/>
<rect x="402.06" y="88" width="2.86" height="305" fill="url(#c113)"/>
<rect x="404.62" y="88" width="2.86" height="305" fill="url(#c114)"/>
<rect x="407.19" y="88" width="2.86" height="305" fill="url(#c115)"/>
<rect x="409.75" y="88" width="2.86" height="305" fill="url(#c116)"/>
<rect x="412.31" y="88" width="2.86" height="305" fill="url(#c117)"/>
<rect x="414.88" y="88" width="2.86" height="305" fill="url(#c118)"/>
<rect x="417.44" y="88" width="2.86" height="305" fill="url(#c119)"/>
<rect x="420.00" y="88" width="2.86" height="305" fill="url(#c120)"/>
<rect x="422.56" y="88" width="2.86" height="305" fill="url(#c121)"/>
<rect x="425.12" y="88" width="2.86" height="305" fill="url(#c122)"/>
<rect x="427.69" y="88" width="2.86" height="305" fill="url(#c123)"/>
<rect x="430.25" y="88" width="2.86" height="305" fill="url(#c124)"/>
<rect x="432.81" y="88" width="2.86" height="305" fill="url(#c125)"/>
<rect x="435.38" y="88" width="2.86" height="305" fill="url(#c126)"/>
<rect x="437.94" y="88" width="2.86" height="305" fill="url(#c127)"/>
<rect x="440.50" y="88" width="2.86" height="305" fill="url(#c128)"/>
<rect x="443.06" y="88" width="2.86" height="305" fill="url(#c129)"/>
<rect x="445.62" y="91" width="2.86" height="302" fill="url(#c130)"/>
<rect x="448.19" y="88" width="2.86" height="305" fill="url(#c131)"/>
<rect x="450.75" y="88" width="2.86" height="305" fill="url(#c132)"/>
<rect x="453.31" y="88" width="2.86" height="305" fill="url(#c133)"/>
<rect x="455.88" y="88" width="2.86" height="305" fill="url(#c134)"/>
<rect x="458.44" y="88" width="2.86" height="305" fill="url(#c135)"/>
<rect x="461.00" y="88" width="2.86" height="305" fill="url(#c136)"/>
<rect x="463.56" y="88" width="2.86" height="305" fill="url(#c137)"/>
<rect x="466.12" y="88" width="2.86" height="305" fill="url(#c138)"/>
<rect x="468.69" y="88" width="2.86" height="305" fill="url(#c139)"/>
<rect x="471.25" y="88" width="2.86" height="305" fill="url(#c140)"/>
<rect x="473.81" y="88" width="2.86" height="305" fill="url(#c141)"/>
<rect x="476.38" y="88" width="2.86" height="305" fill="url(#c142)"/>
<rect x="478.94" y="88" width="2.86" height="303" fill="url(#c143)"/>
</g>
<defs><filter id="gs" x="-5%" y="-5%" width="110%" height="110%" color-interpolation-filters="sRGB"><feColorMatrix type="saturate" values="0"/></filter><linearGradient id="cb" x1="0" y1="1" x2="0" y2="0">
<stop offset="0.0000" stop-color="#000000"/>
<stop offset="0.0156" stop-color="#200019"/>
<stop offset="0.0312" stop-color="#2d0032"/>
<stop offset="0.0469" stop-color="#37004a"/>
<stop offset="0.0625" stop-color="#400062"/>
<stop offset="0.0781" stop-color="#470078"/>
<stop offset="0.0938" stop-color="#4e008e"/>
<stop offset="0.1094" stop-color="#5400a2"/>
<stop offset="0.1250" stop-color="#5a00b4"/>
<stop offset="0.1406" stop-color="#6001c5"/>
<stop offset="0.1562" stop-color="#6501d4"/>
<stop offset="0.1719" stop-color="#6a01e1"/>
<stop offset="0.1875" stop-color="#6e02ec"/>
<stop offset="0.2031" stop-color="#7302f4"/>
<stop offset="0.2188" stop-color="#7703fa"/>
<stop offset="0.2344" stop-color="#7b03fe"/>
<stop offset="0.2500" stop-color="#8004ff"/>
<stop offset="0.2656" stop-color="#8305fe"/>
<stop offset="0.2812" stop-color="#8706fa"/>
<stop offset="0.2969" stop-color="#8b07f4"/>
<stop offset="0.3125" stop-color="#8f08ec"/>
<stop offset="0.3281" stop-color="#9209e1"/>
<stop offset="0.3438" stop-color="#960ad4"/>
<stop offset="0.3594" stop-color="#990cc5"/>
<stop offset="0.3750" stop-color="#9c0db4"/>
<stop offset="0.3906" stop-color="#9f0fa2"/>
<stop offset="0.4062" stop-color="#a3118e"/>
<stop offset="0.4219" stop-color="#a61378"/>
<stop offset="0.4375" stop-color="#a91562"/>
<stop offset="0.4531" stop-color="#ac184a"/>
<stop offset="0.4688" stop-color="#af1a32"/>
<stop offset="0.4844" stop-color="#b11d19"/>
<stop offset="0.5000" stop-color="#b42000"/>
<stop offset="0.5156" stop-color="#b72300"/>
<stop offset="0.5312" stop-color="#ba2600"/>
<stop offset="0.5469" stop-color="#bd2a00"/>
<stop offset="0.5625" stop-color="#bf2d00"/>
<stop offset="0.5781" stop-color="#c23100"/>
<stop offset="0.5938" stop-color="#c43500"/>
<stop offset="0.6094" stop-color="#c73a00"/>
<stop offset="0.6250" stop-color="#ca3e00"/>
<stop offset="0.6406" stop-color="#cc4300"/>
<stop offset="0.6562" stop-color="#cf4800"/>
<stop offset="0.6719" stop-color="#d14d00"/>
<stop offset="0.6875" stop-color="#d35300"/>
<stop offset="0.7031" stop-color="#d65900"/>
<stop offset="0.7188" stop-color="#d85f00"/>
<stop offset="0.7344" stop-color="#db6500"/>
<stop offset="0.7500" stop-color="#dd6c00"/>
<stop offset="0.7656" stop-color="#df7200"/>
<stop offset="0.7812" stop-color="#e17a00"/>
<stop offset="0.7969" stop-color="#e48100"/>
<stop offset="0.8125" stop-color="#e68900"/>
<stop offset="0.8281" stop-color="#e89100"/>
<stop offset="0.8438" stop-color="#ea9900"/>
<stop offset="0.8594" stop-color="#eca200"/>
<stop offset="0.8750" stop-color="#efab00"/>
<stop offset="0.8906" stop-color="#f1b400"/>
<stop offset="0.9062" stop-color="#f3be00"/>
<stop offset="0.9219" stop-color="#f5c800"/>
<stop offset="0.9375" stop-color="#f7d200"/>
<stop offset="0.9531" stop-color="#f9dd00"/>
<stop offset="0.9688" stop-color="#fbe800"/>
<stop offset="0.9844" stop-color="#fdf300"/>
<stop offset="1.0000" stop-color="#ffff00"/>
</linearGradient></defs>
<rect x="501.6" y="81.6" width="17.7" height="317.9" fill="url(#cb)"/>
<path d="M112.5 81.6H482.5V399.5H112.5ZM501.6 81.6H519.3V399.5H501.6ZM112.50 400.90V395.10M112.50 81.00V87.00M127.50 400.90V397.10M127.50 81.00V85.10M142.50 400.90V397.10M142.50 81.00V85.10M158.50 400.90V397.10M158.50 81.00V85.10M173.50 400.90V395.10M173.50 81.00V87.00M189.50 400.90V397.10M189.50 81.00V85.10M204.50 400.90V397.10M204.50 81.00V85.10M219.50 400.90V397.10M219.50 81.00V85.10M235.50 400.90V395.10M235.50 81.00V87.00M250.50 400.90V397.10M250.50 81.00V85.10M266.50 400.90V397.10M266.50 81.00V85.10M281.50 400.90V397.10M281.50 81.00V85.10M297.50 400.90V395.10M297.50 81.00V87.00M312.50 400.90V397.10M312.50 81.00V85.10M327.50 400.90V397.10M327.50 81.00V85.10M343.50 400.90V397.10M343.50 81.00V85.10M358.50 400.90V395.10M358.50 81.00V87.00M374.50 400.90V397.10M374.50 81.00V85.10M389.50 400.90V397.10M389.50 81.00V85.10M404.50 400.90V397.10M404.50 81.00V85.10M420.50 400.90V395.10M420.50 81.00V87.00M435.50 400.90V397.10M435.50 81.00V85.10M451.50 400.90V397.10M451.50 81.00V85.10M466.50 400.90V397.10M466.50 81.00V85.10M482.50 400.90V395.10M482.50 81.00V87.00M111.30 401.50H115.30M483.50 401.50H479.70M111.30 393.50H115.30M483.50 393.50H479.70M111.30 386.50H118.10M483.50 386.50H476.90M111.30 339.50H115.30M483.50 339.50H479.70M111.30 312.50H115.30M483.50 312.50H479.70M111.30 293.50H115.30M483.50 293.50H479.70M111.30 278.50H115.30M483.50 278.50H479.70M111.30 265.50H115.30M483.50 265.50H479.70M111.30 255.50H115.30M483.50 255.50H479.70M111.30 246.50H115.30M483.50 246.50H479.70M111.30 238.50H115.30M483.50 238.50H479.70M111.30 231.50H118.10M483.50 231.50H476.90M111.30 185.50H115.30M483.50 185.50H479.70M111.30 157.50H115.30M483.50 157.50H479.70M111.30 138.50H115.30M483.50 138.50H479.70M111.30 123.50H115.30M483.50 123.50H479.70M111.30 111.50H115.30M483.50 111.50H479.70M111.30 100.50H115.30M483.50 100.50H479.70M111.30 91.50H115.30M483.50 91.50H479.70M111.30 83.50H115.30M483.50 83.50H479.70M501.60 354.50h4.3M519.30 354.50h-4.3M501.60 309.50h4.3M519.30 309.50h-4.3M501.60 263.50h4.3M519.30 263.50h-4.3M501.60 218.50h4.3M519.30 218.50h-4.3M501.60 172.50h4.3M519.30 172.50h-4.3M501.60 127.50h4.3M519.30 127.50h-4.3" fill="none" stroke="#000" stroke-width="1.15"/>
<g font-size="16" filter="url(#gs)">
<text x="226" y="61.3" textLength="142" lengthAdjust="spacing">dN / d log d (5/9/1)</text>
<text x="113.4" y="426.6" text-anchor="middle">0</text>
<text x="175.1" y="426.6" text-anchor="middle">4</text>
<text x="236.7" y="426.6" text-anchor="middle">8</text>
<text x="298.4" y="426.6" text-anchor="middle">12</text>
<text x="360.1" y="426.6" text-anchor="middle">16</text>
<text x="421.7" y="426.6" text-anchor="middle">20</text>
<text x="483.4" y="426.6" text-anchor="middle">24</text>
<text x="253.2" y="452.4" textLength="86.5" lengthAdjust="spacing">Time [hour]</text>
<text x="96" y="390.0" text-anchor="end">10</text>
<text x="96" y="235.2" text-anchor="end">100</text>
<text x="532.6" y="404.3">0</text>
<text x="532.6" y="358.9" letter-spacing="0.45">1000</text>
<text x="532.6" y="313.5" letter-spacing="0.45">2000</text>
<text x="532.6" y="268.1" letter-spacing="0.45">3000</text>
<text x="532.6" y="222.6" letter-spacing="0.45">4000</text>
<text x="532.6" y="177.2" letter-spacing="0.45">5000</text>
<text x="532.6" y="131.8" letter-spacing="0.45">6000</text>
<text x="532.6" y="86.4" letter-spacing="0.45">7000</text>
<text transform="translate(56.1,303.2) rotate(-90)" textLength="129" lengthAdjust="spacing">Particle size [nm]</text>
</g>
</svg></body></html>
